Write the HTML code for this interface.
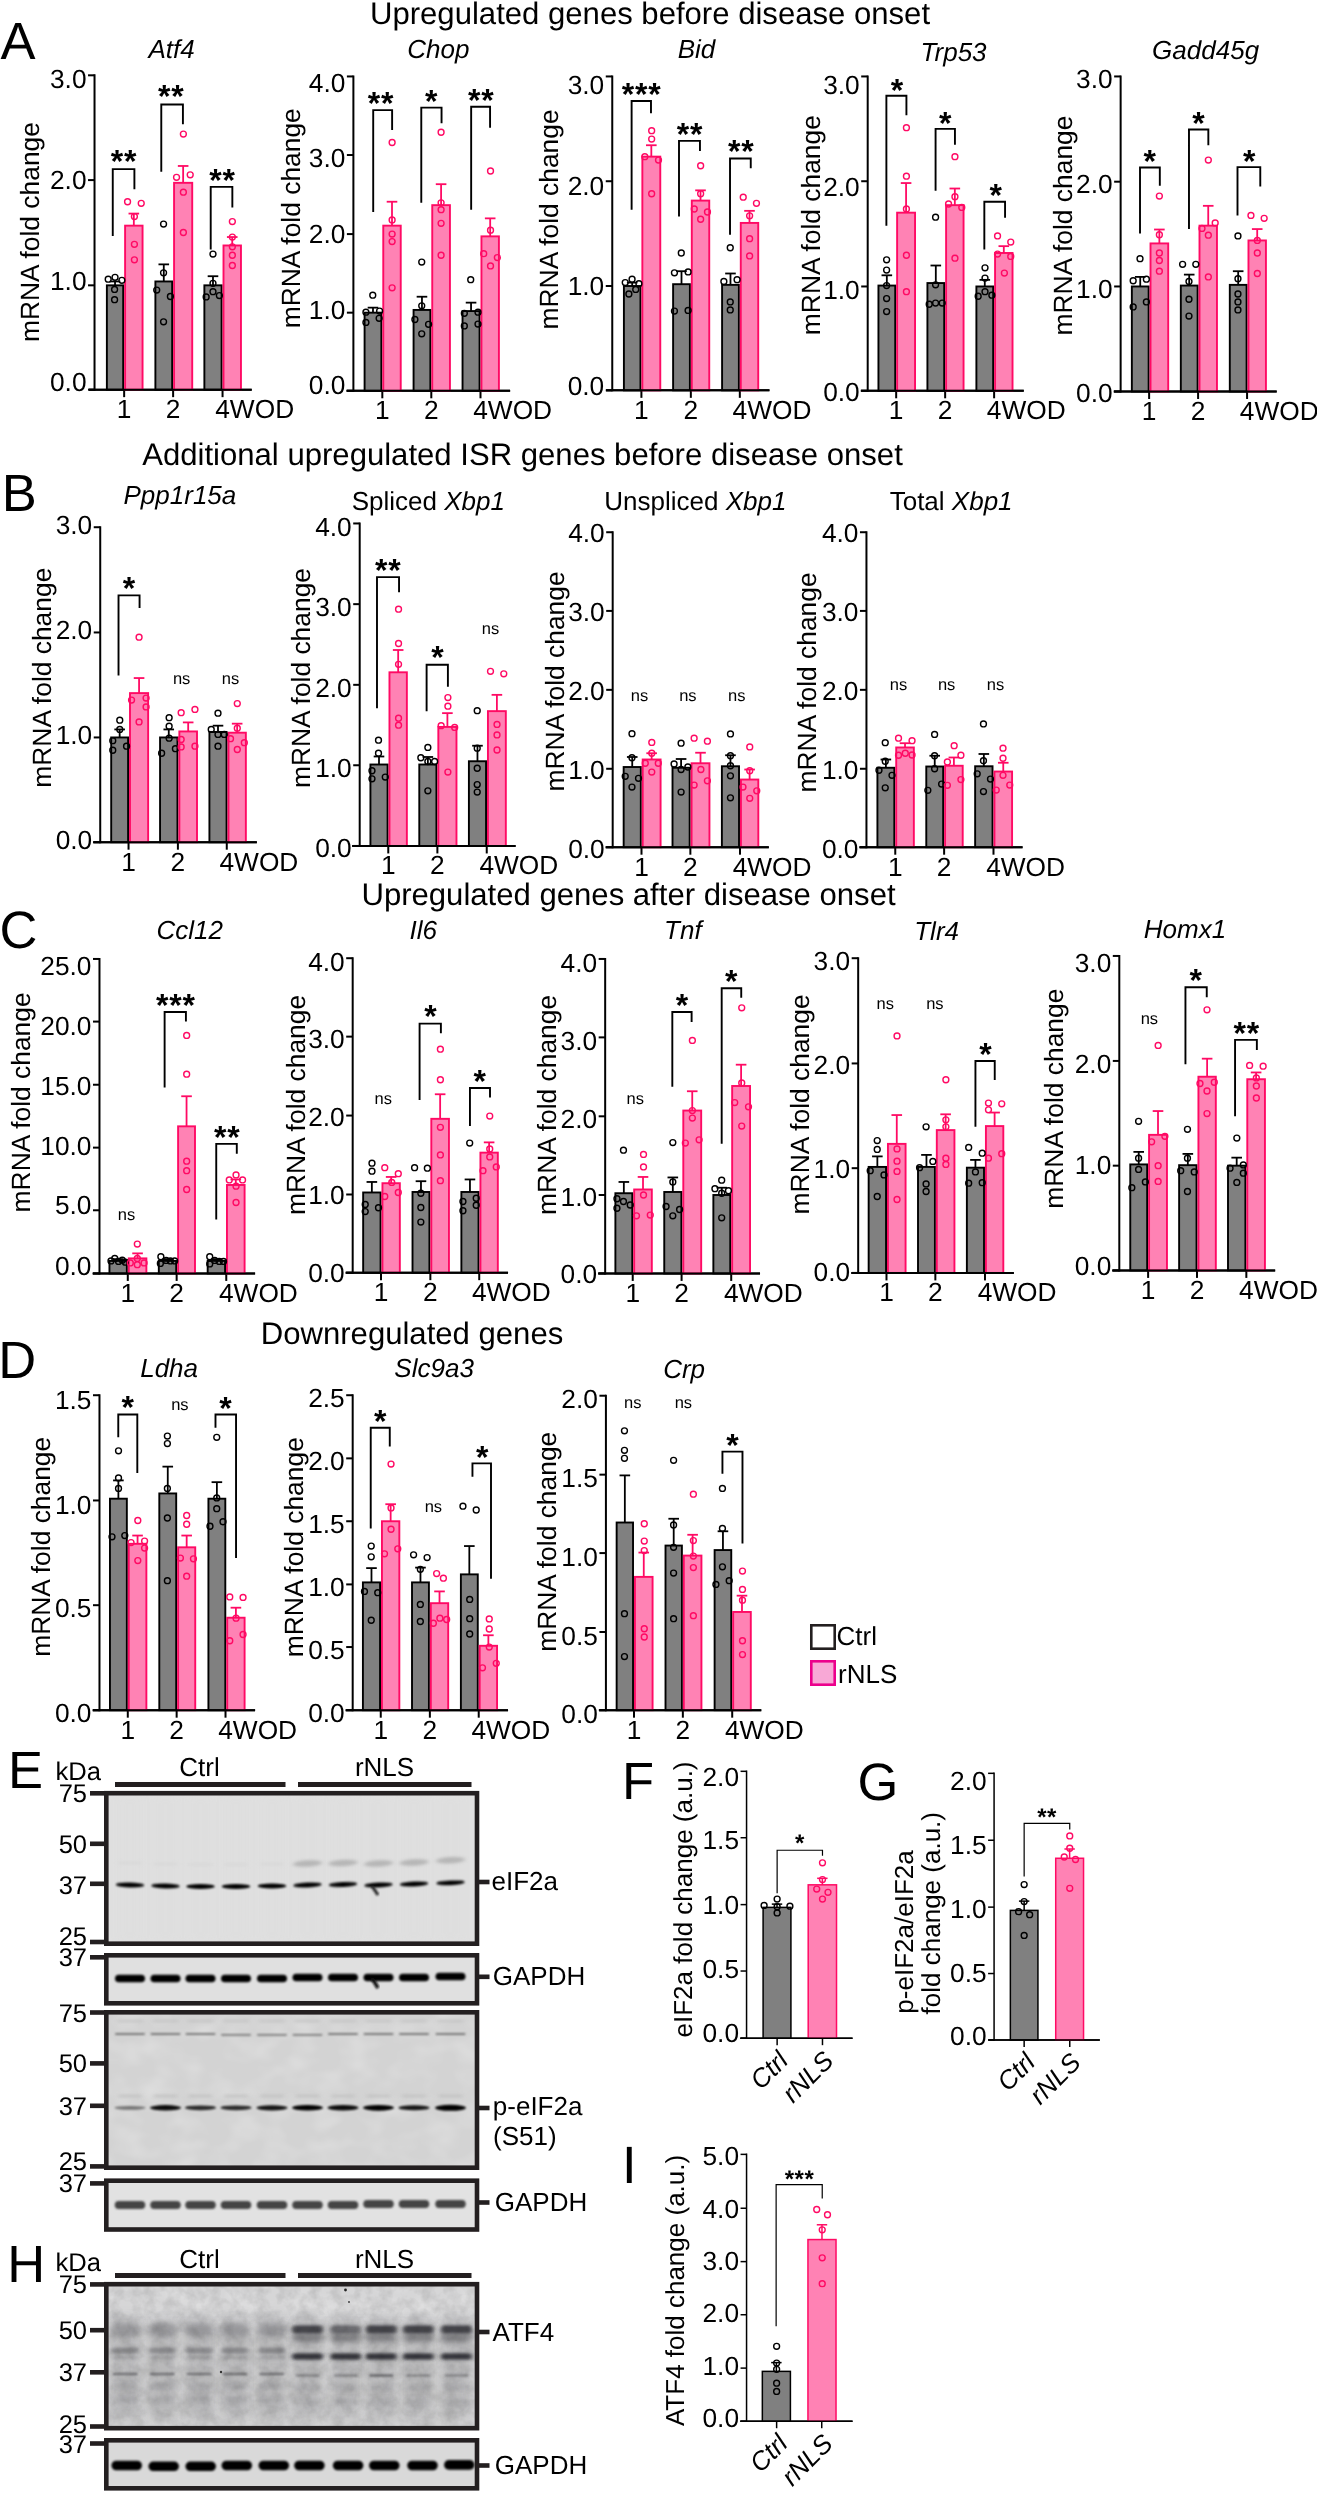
<!DOCTYPE html>
<html><head><meta charset="utf-8"><title>Figure</title>
<style>
html,body{margin:0;padding:0;background:#fff;}
body{width:1317px;height:2494px;overflow:hidden;}
svg{display:block;font-family:"Liberation Sans", sans-serif;will-change:transform;}
text{text-rendering:geometricPrecision;}
</style></head><body>
<svg width="1317" height="2494" viewBox="0 0 1317 2494" font-family='"Liberation Sans", sans-serif'>
<rect width="1317" height="2494" fill="#fff"/>
<defs>
<filter id="bl1" x="-20%" y="-200%" width="140%" height="500%"><feGaussianBlur stdDeviation="1.3 0.9"/></filter>
<filter id="bl2" x="-20%" y="-200%" width="140%" height="500%"><feGaussianBlur stdDeviation="2.2 1.6"/></filter>
<filter id="bl3" x="-30%" y="-300%" width="160%" height="700%"><feGaussianBlur stdDeviation="3.5 2.6"/></filter>
<filter id="bl5" x="-30%" y="-100%" width="160%" height="300%"><feGaussianBlur stdDeviation="5 6"/></filter>
<filter id="noise" x="0" y="0" width="100%" height="100%">
  <feTurbulence type="fractalNoise" baseFrequency="0.09" numOctaves="3" seed="7" result="t"/>
  <feColorMatrix type="matrix" values="0 0 0 0 0  0 0 0 0 0  0 0 0 0 0  1.6 0 0 0 -0.55"/>
</filter>
<filter id="noise2" x="0" y="0" width="100%" height="100%">
  <feTurbulence type="fractalNoise" baseFrequency="0.035 0.05" numOctaves="2" seed="3" result="t"/>
  <feColorMatrix type="matrix" values="0 0 0 0 1  0 0 0 0 1  0 0 0 0 1  1.8 0 0 0 -0.7"/>
</filter>
</defs>
<g id="c_Atf4">
<line x1="94.53" y1="74.31" x2="94.53" y2="390.66" stroke="#000" stroke-width="2" stroke-linecap="butt"/>
<line x1="88.84" y1="389.66" x2="251.71" y2="389.66" stroke="#000" stroke-width="2" stroke-linecap="butt"/>
<line x1="88.03" y1="75.31" x2="94.53" y2="75.31" stroke="#000" stroke-width="2" stroke-linecap="butt"/>
<text x="86.53" y="87.61" font-size="26.3" text-anchor="end" font-weight="normal" font-style="normal" fill="#000">3.0</text>
<line x1="88.03" y1="180.09" x2="94.53" y2="180.09" stroke="#000" stroke-width="2" stroke-linecap="butt"/>
<text x="86.53" y="188.66" font-size="26.3" text-anchor="end" font-weight="normal" font-style="normal" fill="#000">2.0</text>
<line x1="88.03" y1="285.33" x2="94.53" y2="285.33" stroke="#000" stroke-width="2" stroke-linecap="butt"/>
<text x="86.53" y="290.15" font-size="26.3" text-anchor="end" font-weight="normal" font-style="normal" fill="#000">1.0</text>
<line x1="88.03" y1="389.66" x2="94.53" y2="389.66" stroke="#000" stroke-width="2" stroke-linecap="butt"/>
<text x="86.53" y="390.76" font-size="26.3" text-anchor="end" font-weight="normal" font-style="normal" fill="#000">0.0</text>
<line x1="124.15" y1="389.66" x2="124.15" y2="397.16" stroke="#000" stroke-width="2" stroke-linecap="butt"/>
<line x1="173.12" y1="389.66" x2="173.12" y2="397.16" stroke="#000" stroke-width="2" stroke-linecap="butt"/>
<line x1="222.55" y1="389.66" x2="222.55" y2="397.16" stroke="#000" stroke-width="2" stroke-linecap="butt"/>
<line x1="115.03" y1="281.46" x2="115.03" y2="285.33" stroke="#000" stroke-width="1.8" stroke-linecap="butt"/>
<line x1="109.73" y1="281.46" x2="120.33" y2="281.46" stroke="#000" stroke-width="1.8" stroke-linecap="butt"/>
<rect x="106.87" y="285.33" width="16.32" height="104.33" fill="#808080" stroke="#000" stroke-width="1.9"/>
<line x1="133.83" y1="213.58" x2="133.83" y2="225.65" stroke="#ff0a64" stroke-width="1.8" stroke-linecap="butt"/>
<line x1="128.53" y1="213.58" x2="139.13" y2="213.58" stroke="#ff0a64" stroke-width="1.8" stroke-linecap="butt"/>
<rect x="125.1" y="225.65" width="17.46" height="164.01" fill="#ff82b4" stroke="#ff0a64" stroke-width="1.9"/>
<line x1="163.78" y1="264.37" x2="163.78" y2="281.46" stroke="#000" stroke-width="1.8" stroke-linecap="butt"/>
<line x1="158.48" y1="264.37" x2="169.08" y2="264.37" stroke="#000" stroke-width="1.8" stroke-linecap="butt"/>
<rect x="155.39" y="281.46" width="16.78" height="108.2" fill="#808080" stroke="#000" stroke-width="1.9"/>
<line x1="183.14" y1="165.97" x2="183.14" y2="182.82" stroke="#ff0a64" stroke-width="1.8" stroke-linecap="butt"/>
<line x1="177.84" y1="165.97" x2="188.44" y2="165.97" stroke="#ff0a64" stroke-width="1.8" stroke-linecap="butt"/>
<rect x="174.07" y="182.82" width="18.15" height="206.83" fill="#ff82b4" stroke="#ff0a64" stroke-width="1.9"/>
<line x1="212.98" y1="276.22" x2="212.98" y2="285.33" stroke="#000" stroke-width="1.8" stroke-linecap="butt"/>
<line x1="207.68" y1="276.22" x2="218.28" y2="276.22" stroke="#000" stroke-width="1.8" stroke-linecap="butt"/>
<rect x="204.37" y="285.33" width="17.23" height="104.33" fill="#808080" stroke="#000" stroke-width="1.9"/>
<line x1="232.23" y1="237.04" x2="232.23" y2="245.47" stroke="#ff0a64" stroke-width="1.8" stroke-linecap="butt"/>
<line x1="226.93" y1="237.04" x2="237.53" y2="237.04" stroke="#ff0a64" stroke-width="1.8" stroke-linecap="butt"/>
<rect x="223.5" y="245.47" width="17.46" height="144.19" fill="#ff82b4" stroke="#ff0a64" stroke-width="1.9"/>
<line x1="88.84" y1="389.66" x2="251.71" y2="389.66" stroke="#000" stroke-width="2" stroke-linecap="butt"/>
<circle cx="108.2" cy="279.18" r="2.95" fill="none" stroke="#000" stroke-width="1.4"/>
<circle cx="115.03" cy="277.36" r="2.95" fill="none" stroke="#000" stroke-width="1.4"/>
<circle cx="121.87" cy="280.32" r="2.95" fill="none" stroke="#000" stroke-width="1.4"/>
<circle cx="114.58" cy="289.43" r="2.95" fill="none" stroke="#000" stroke-width="1.4"/>
<circle cx="114.58" cy="299.68" r="2.95" fill="none" stroke="#000" stroke-width="1.4"/>
<circle cx="127.56" cy="201.73" r="2.95" fill="none" stroke="#ff0a64" stroke-width="1.4"/>
<circle cx="141.23" cy="203.33" r="2.95" fill="none" stroke="#ff0a64" stroke-width="1.4"/>
<circle cx="134.4" cy="216.54" r="2.95" fill="none" stroke="#ff0a64" stroke-width="1.4"/>
<circle cx="134.4" cy="244.33" r="2.95" fill="none" stroke="#ff0a64" stroke-width="1.4"/>
<circle cx="134.4" cy="259.82" r="2.95" fill="none" stroke="#ff0a64" stroke-width="1.4"/>
<circle cx="163.55" cy="224.05" r="2.95" fill="none" stroke="#000" stroke-width="1.4"/>
<circle cx="163.55" cy="272.8" r="2.95" fill="none" stroke="#000" stroke-width="1.4"/>
<circle cx="156.72" cy="290.11" r="2.95" fill="none" stroke="#000" stroke-width="1.4"/>
<circle cx="170.39" cy="296.49" r="2.95" fill="none" stroke="#000" stroke-width="1.4"/>
<circle cx="163.55" cy="321.78" r="2.95" fill="none" stroke="#000" stroke-width="1.4"/>
<circle cx="183.37" cy="134.08" r="2.95" fill="none" stroke="#ff0a64" stroke-width="1.4"/>
<circle cx="176.54" cy="177.36" r="2.95" fill="none" stroke="#ff0a64" stroke-width="1.4"/>
<circle cx="190.21" cy="174.85" r="2.95" fill="none" stroke="#ff0a64" stroke-width="1.4"/>
<circle cx="183.37" cy="192.16" r="2.95" fill="none" stroke="#ff0a64" stroke-width="1.4"/>
<circle cx="183.37" cy="232.48" r="2.95" fill="none" stroke="#ff0a64" stroke-width="1.4"/>
<circle cx="212.98" cy="254.12" r="2.95" fill="none" stroke="#000" stroke-width="1.4"/>
<circle cx="212.98" cy="283.28" r="2.95" fill="none" stroke="#000" stroke-width="1.4"/>
<circle cx="206.15" cy="296.95" r="2.95" fill="none" stroke="#000" stroke-width="1.4"/>
<circle cx="219.36" cy="295.58" r="2.95" fill="none" stroke="#000" stroke-width="1.4"/>
<circle cx="212.98" cy="291.71" r="2.95" fill="none" stroke="#000" stroke-width="1.4"/>
<circle cx="232.35" cy="221.55" r="2.95" fill="none" stroke="#ff0a64" stroke-width="1.4"/>
<circle cx="232.35" cy="237.04" r="2.95" fill="none" stroke="#ff0a64" stroke-width="1.4"/>
<circle cx="232.35" cy="246.83" r="2.95" fill="none" stroke="#ff0a64" stroke-width="1.4"/>
<circle cx="232.35" cy="255.26" r="2.95" fill="none" stroke="#ff0a64" stroke-width="1.4"/>
<circle cx="232.35" cy="265.51" r="2.95" fill="none" stroke="#ff0a64" stroke-width="1.4"/>
<polyline points="112.76,235.9 112.76,169.16 134.4,169.16 134.4,189.2" fill="none" stroke="#000" stroke-width="1.9" stroke-linejoin="miter"/>
<text x="124.09" y="172.41" font-size="32" text-anchor="middle" font-weight="bold" font-style="normal" fill="#000" letter-spacing="0.8">**</text>
<polyline points="161.28,171.66 161.28,104.46 182.92,104.46 182.92,124.28" fill="none" stroke="#000" stroke-width="1.9" stroke-linejoin="miter"/>
<text x="171.24" y="107.49" font-size="32" text-anchor="middle" font-weight="bold" font-style="normal" fill="#000" letter-spacing="0.8">**</text>
<polyline points="210.71,249.57 210.71,186.92 232.35,186.92 232.35,207.43" fill="none" stroke="#000" stroke-width="1.9" stroke-linejoin="miter"/>
<text x="222.5" y="190.64" font-size="32" text-anchor="middle" font-weight="bold" font-style="normal" fill="#000" letter-spacing="0.8">**</text>
<text x="124.15" y="418.16" font-size="26.3" text-anchor="middle" font-weight="normal" font-style="normal" fill="#000">1</text>
<text x="173.12" y="418.16" font-size="26.3" text-anchor="middle" font-weight="normal" font-style="normal" fill="#000">2</text>
<text x="215.24" y="418.16" font-size="26.3" text-anchor="start" font-weight="normal" font-style="normal" fill="#000">4WOD</text>
<text x="39.03" y="232.08" font-size="26.4" text-anchor="middle" font-weight="normal" font-style="normal" fill="#000" transform="rotate(-90 39.03 232.08)">mRNA fold change</text>
<text x="171.53" y="57.77" font-size="26" text-anchor="middle" font-weight="normal" font-style="normal" fill="#000" style="white-space:pre"><tspan font-style="italic">Atf4</tspan></text>
</g>
<g id="c_Chop">
<line x1="353.39" y1="75.45" x2="353.39" y2="391.8" stroke="#000" stroke-width="2" stroke-linecap="butt"/>
<line x1="346.56" y1="390.8" x2="510.11" y2="390.8" stroke="#000" stroke-width="2" stroke-linecap="butt"/>
<line x1="346.89" y1="76.45" x2="353.39" y2="76.45" stroke="#000" stroke-width="2" stroke-linecap="butt"/>
<text x="345.39" y="91.55" font-size="26.3" text-anchor="end" font-weight="normal" font-style="normal" fill="#000">4.0</text>
<line x1="346.89" y1="155.03" x2="353.39" y2="155.03" stroke="#000" stroke-width="2" stroke-linecap="butt"/>
<text x="345.39" y="167.06" font-size="26.3" text-anchor="end" font-weight="normal" font-style="normal" fill="#000">3.0</text>
<line x1="346.89" y1="234.08" x2="353.39" y2="234.08" stroke="#000" stroke-width="2" stroke-linecap="butt"/>
<text x="345.39" y="243.01" font-size="26.3" text-anchor="end" font-weight="normal" font-style="normal" fill="#000">2.0</text>
<line x1="346.89" y1="312.67" x2="353.39" y2="312.67" stroke="#000" stroke-width="2" stroke-linecap="butt"/>
<text x="345.39" y="318.53" font-size="26.3" text-anchor="end" font-weight="normal" font-style="normal" fill="#000">1.0</text>
<line x1="346.89" y1="390.8" x2="353.39" y2="390.8" stroke="#000" stroke-width="2" stroke-linecap="butt"/>
<text x="345.39" y="393.6" font-size="26.3" text-anchor="end" font-weight="normal" font-style="normal" fill="#000">0.0</text>
<line x1="382.32" y1="390.8" x2="382.32" y2="398.3" stroke="#000" stroke-width="2" stroke-linecap="butt"/>
<line x1="431.3" y1="390.8" x2="431.3" y2="398.3" stroke="#000" stroke-width="2" stroke-linecap="butt"/>
<line x1="480.5" y1="390.8" x2="480.5" y2="398.3" stroke="#000" stroke-width="2" stroke-linecap="butt"/>
<line x1="372.98" y1="307.65" x2="372.98" y2="312.67" stroke="#000" stroke-width="1.8" stroke-linecap="butt"/>
<line x1="367.68" y1="307.65" x2="378.28" y2="307.65" stroke="#000" stroke-width="1.8" stroke-linecap="butt"/>
<rect x="364.59" y="312.67" width="16.78" height="78.13" fill="#808080" stroke="#000" stroke-width="1.9"/>
<line x1="392" y1="201.73" x2="392" y2="225.65" stroke="#ff0a64" stroke-width="1.8" stroke-linecap="butt"/>
<line x1="386.7" y1="201.73" x2="397.3" y2="201.73" stroke="#ff0a64" stroke-width="1.8" stroke-linecap="butt"/>
<rect x="383.27" y="225.65" width="17.46" height="165.15" fill="#ff82b4" stroke="#ff0a64" stroke-width="1.9"/>
<line x1="421.96" y1="296.72" x2="421.96" y2="309.93" stroke="#000" stroke-width="1.8" stroke-linecap="butt"/>
<line x1="416.66" y1="296.72" x2="427.26" y2="296.72" stroke="#000" stroke-width="1.8" stroke-linecap="butt"/>
<rect x="413.57" y="309.93" width="16.78" height="80.87" fill="#808080" stroke="#000" stroke-width="1.9"/>
<line x1="441.09" y1="184.19" x2="441.09" y2="205.15" stroke="#ff0a64" stroke-width="1.8" stroke-linecap="butt"/>
<line x1="435.79" y1="184.19" x2="446.39" y2="184.19" stroke="#ff0a64" stroke-width="1.8" stroke-linecap="butt"/>
<rect x="432.25" y="205.15" width="17.69" height="185.65" fill="#ff82b4" stroke="#ff0a64" stroke-width="1.9"/>
<line x1="471.05" y1="302.64" x2="471.05" y2="311.07" stroke="#000" stroke-width="1.8" stroke-linecap="butt"/>
<line x1="465.75" y1="302.64" x2="476.35" y2="302.64" stroke="#000" stroke-width="1.8" stroke-linecap="butt"/>
<rect x="462.54" y="311.07" width="17.01" height="79.73" fill="#808080" stroke="#000" stroke-width="1.9"/>
<line x1="490.18" y1="218.36" x2="490.18" y2="236.36" stroke="#ff0a64" stroke-width="1.8" stroke-linecap="butt"/>
<line x1="484.88" y1="218.36" x2="495.48" y2="218.36" stroke="#ff0a64" stroke-width="1.8" stroke-linecap="butt"/>
<rect x="481.45" y="236.36" width="17.46" height="154.44" fill="#ff82b4" stroke="#ff0a64" stroke-width="1.9"/>
<line x1="346.56" y1="390.8" x2="510.11" y2="390.8" stroke="#000" stroke-width="2" stroke-linecap="butt"/>
<circle cx="372.76" cy="295.13" r="2.95" fill="none" stroke="#000" stroke-width="1.4"/>
<circle cx="365.92" cy="312.21" r="2.95" fill="none" stroke="#000" stroke-width="1.4"/>
<circle cx="379.59" cy="311.07" r="2.95" fill="none" stroke="#000" stroke-width="1.4"/>
<circle cx="365.92" cy="322.46" r="2.95" fill="none" stroke="#000" stroke-width="1.4"/>
<circle cx="379.13" cy="318.36" r="2.95" fill="none" stroke="#000" stroke-width="1.4"/>
<circle cx="392.12" cy="142.51" r="2.95" fill="none" stroke="#ff0a64" stroke-width="1.4"/>
<circle cx="392.12" cy="219.95" r="2.95" fill="none" stroke="#ff0a64" stroke-width="1.4"/>
<circle cx="392.12" cy="234.08" r="2.95" fill="none" stroke="#ff0a64" stroke-width="1.4"/>
<circle cx="392.12" cy="241.59" r="2.95" fill="none" stroke="#ff0a64" stroke-width="1.4"/>
<circle cx="392.12" cy="287.84" r="2.95" fill="none" stroke="#ff0a64" stroke-width="1.4"/>
<circle cx="421.73" cy="262.1" r="2.95" fill="none" stroke="#000" stroke-width="1.4"/>
<circle cx="421.73" cy="305.83" r="2.95" fill="none" stroke="#000" stroke-width="1.4"/>
<circle cx="414.9" cy="319.5" r="2.95" fill="none" stroke="#000" stroke-width="1.4"/>
<circle cx="428.56" cy="324.28" r="2.95" fill="none" stroke="#000" stroke-width="1.4"/>
<circle cx="421.73" cy="333.85" r="2.95" fill="none" stroke="#000" stroke-width="1.4"/>
<circle cx="441.09" cy="132.26" r="2.95" fill="none" stroke="#ff0a64" stroke-width="1.4"/>
<circle cx="441.09" cy="202.87" r="2.95" fill="none" stroke="#ff0a64" stroke-width="1.4"/>
<circle cx="441.09" cy="209.7" r="2.95" fill="none" stroke="#ff0a64" stroke-width="1.4"/>
<circle cx="441.09" cy="223.37" r="2.95" fill="none" stroke="#ff0a64" stroke-width="1.4"/>
<circle cx="441.09" cy="255.26" r="2.95" fill="none" stroke="#ff0a64" stroke-width="1.4"/>
<circle cx="470.71" cy="279.64" r="2.95" fill="none" stroke="#000" stroke-width="1.4"/>
<circle cx="464.33" cy="313.35" r="2.95" fill="none" stroke="#000" stroke-width="1.4"/>
<circle cx="478" cy="312.21" r="2.95" fill="none" stroke="#000" stroke-width="1.4"/>
<circle cx="464.33" cy="325.88" r="2.95" fill="none" stroke="#000" stroke-width="1.4"/>
<circle cx="478" cy="324.05" r="2.95" fill="none" stroke="#000" stroke-width="1.4"/>
<circle cx="490.52" cy="170.98" r="2.95" fill="none" stroke="#ff0a64" stroke-width="1.4"/>
<circle cx="490.52" cy="230.21" r="2.95" fill="none" stroke="#ff0a64" stroke-width="1.4"/>
<circle cx="483.69" cy="253.67" r="2.95" fill="none" stroke="#ff0a64" stroke-width="1.4"/>
<circle cx="497.36" cy="257.54" r="2.95" fill="none" stroke="#ff0a64" stroke-width="1.4"/>
<circle cx="490.52" cy="265.97" r="2.95" fill="none" stroke="#ff0a64" stroke-width="1.4"/>
<polyline points="373.21,211.98 373.21,110.16 392.12,110.16 392.12,129.98" fill="none" stroke="#000" stroke-width="1.9" stroke-linejoin="miter"/>
<text x="381.13" y="114.33" font-size="32" text-anchor="middle" font-weight="bold" font-style="normal" fill="#000" letter-spacing="0.8">**</text>
<polyline points="421.28,202.87 421.28,107.65 441.55,107.65 441.55,123.14" fill="none" stroke="#000" stroke-width="1.9" stroke-linejoin="miter"/>
<text x="431.7" y="111.59" font-size="32" text-anchor="middle" font-weight="bold" font-style="normal" fill="#000" letter-spacing="0.8">*</text>
<polyline points="471.16,209.7 471.16,106.74 490.07,106.74 490.07,127.7" fill="none" stroke="#000" stroke-width="1.9" stroke-linejoin="miter"/>
<text x="481.36" y="110.91" font-size="32" text-anchor="middle" font-weight="bold" font-style="normal" fill="#000" letter-spacing="0.8">**</text>
<text x="382.32" y="419.3" font-size="26.3" text-anchor="middle" font-weight="normal" font-style="normal" fill="#000">1</text>
<text x="431.3" y="419.3" font-size="26.3" text-anchor="middle" font-weight="normal" font-style="normal" fill="#000">2</text>
<text x="473.19" y="419.3" font-size="26.3" text-anchor="start" font-weight="normal" font-style="normal" fill="#000">4WOD</text>
<text x="299.89" y="218.22" font-size="26.4" text-anchor="middle" font-weight="normal" font-style="normal" fill="#000" transform="rotate(-90 299.89 218.22)">mRNA fold change</text>
<text x="438.36" y="58.22" font-size="26" text-anchor="middle" font-weight="normal" font-style="normal" fill="#000" style="white-space:pre"><tspan font-style="italic">Chop</tspan></text>
</g>
<g id="c_Bid">
<line x1="612.26" y1="75.45" x2="612.26" y2="391.34" stroke="#000" stroke-width="2" stroke-linecap="butt"/>
<line x1="606.1" y1="390.34" x2="769.43" y2="390.34" stroke="#000" stroke-width="2" stroke-linecap="butt"/>
<line x1="605.76" y1="76.45" x2="612.26" y2="76.45" stroke="#000" stroke-width="2" stroke-linecap="butt"/>
<text x="604.26" y="94.45" font-size="26.3" text-anchor="end" font-weight="normal" font-style="normal" fill="#000">3.0</text>
<line x1="605.76" y1="181.23" x2="612.26" y2="181.23" stroke="#000" stroke-width="2" stroke-linecap="butt"/>
<text x="604.26" y="194.8" font-size="26.3" text-anchor="end" font-weight="normal" font-style="normal" fill="#000">2.0</text>
<line x1="605.76" y1="286.01" x2="612.26" y2="286.01" stroke="#000" stroke-width="2" stroke-linecap="butt"/>
<text x="604.26" y="295.14" font-size="26.3" text-anchor="end" font-weight="normal" font-style="normal" fill="#000">1.0</text>
<line x1="605.76" y1="390.34" x2="612.26" y2="390.34" stroke="#000" stroke-width="2" stroke-linecap="butt"/>
<text x="604.26" y="395.05" font-size="26.3" text-anchor="end" font-weight="normal" font-style="normal" fill="#000">0.0</text>
<line x1="641.41" y1="390.34" x2="641.41" y2="397.84" stroke="#000" stroke-width="2" stroke-linecap="butt"/>
<line x1="690.84" y1="390.34" x2="690.84" y2="397.84" stroke="#000" stroke-width="2" stroke-linecap="butt"/>
<line x1="739.82" y1="390.34" x2="739.82" y2="397.84" stroke="#000" stroke-width="2" stroke-linecap="butt"/>
<line x1="632.19" y1="282.6" x2="632.19" y2="286.01" stroke="#000" stroke-width="1.8" stroke-linecap="butt"/>
<line x1="626.89" y1="282.6" x2="637.49" y2="282.6" stroke="#000" stroke-width="1.8" stroke-linecap="butt"/>
<rect x="623.91" y="286.01" width="16.55" height="104.33" fill="#808080" stroke="#000" stroke-width="1.9"/>
<line x1="651.32" y1="145.24" x2="651.32" y2="156.63" stroke="#ff0a64" stroke-width="1.8" stroke-linecap="butt"/>
<line x1="646.02" y1="145.24" x2="656.62" y2="145.24" stroke="#ff0a64" stroke-width="1.8" stroke-linecap="butt"/>
<rect x="642.36" y="156.63" width="17.92" height="233.71" fill="#ff82b4" stroke="#ff0a64" stroke-width="1.9"/>
<line x1="681.5" y1="271.21" x2="681.5" y2="284.19" stroke="#000" stroke-width="1.8" stroke-linecap="butt"/>
<line x1="676.2" y1="271.21" x2="686.8" y2="271.21" stroke="#000" stroke-width="1.8" stroke-linecap="butt"/>
<rect x="673.11" y="284.19" width="16.78" height="106.15" fill="#808080" stroke="#000" stroke-width="1.9"/>
<line x1="700.52" y1="190.34" x2="700.52" y2="200.59" stroke="#ff0a64" stroke-width="1.8" stroke-linecap="butt"/>
<line x1="695.22" y1="190.34" x2="705.82" y2="190.34" stroke="#ff0a64" stroke-width="1.8" stroke-linecap="butt"/>
<rect x="691.79" y="200.59" width="17.46" height="189.75" fill="#ff82b4" stroke="#ff0a64" stroke-width="1.9"/>
<line x1="730.48" y1="273.49" x2="730.48" y2="284.87" stroke="#000" stroke-width="1.8" stroke-linecap="butt"/>
<line x1="725.18" y1="273.49" x2="735.78" y2="273.49" stroke="#000" stroke-width="1.8" stroke-linecap="butt"/>
<rect x="722.09" y="284.87" width="16.78" height="105.47" fill="#808080" stroke="#000" stroke-width="1.9"/>
<line x1="749.5" y1="210.84" x2="749.5" y2="222.92" stroke="#ff0a64" stroke-width="1.8" stroke-linecap="butt"/>
<line x1="744.2" y1="210.84" x2="754.8" y2="210.84" stroke="#ff0a64" stroke-width="1.8" stroke-linecap="butt"/>
<rect x="740.77" y="222.92" width="17.46" height="167.43" fill="#ff82b4" stroke="#ff0a64" stroke-width="1.9"/>
<line x1="606.1" y1="390.34" x2="769.43" y2="390.34" stroke="#000" stroke-width="2" stroke-linecap="butt"/>
<circle cx="625.24" cy="282.6" r="2.95" fill="none" stroke="#000" stroke-width="1.4"/>
<circle cx="632.07" cy="279.18" r="2.95" fill="none" stroke="#000" stroke-width="1.4"/>
<circle cx="638.91" cy="283.74" r="2.95" fill="none" stroke="#000" stroke-width="1.4"/>
<circle cx="628.88" cy="293.99" r="2.95" fill="none" stroke="#000" stroke-width="1.4"/>
<circle cx="635.72" cy="289.43" r="2.95" fill="none" stroke="#000" stroke-width="1.4"/>
<circle cx="651.66" cy="130.66" r="2.95" fill="none" stroke="#ff0a64" stroke-width="1.4"/>
<circle cx="651.66" cy="139.09" r="2.95" fill="none" stroke="#ff0a64" stroke-width="1.4"/>
<circle cx="644.83" cy="156.63" r="2.95" fill="none" stroke="#ff0a64" stroke-width="1.4"/>
<circle cx="658.5" cy="160.05" r="2.95" fill="none" stroke="#ff0a64" stroke-width="1.4"/>
<circle cx="651.66" cy="193.76" r="2.95" fill="none" stroke="#ff0a64" stroke-width="1.4"/>
<circle cx="681.28" cy="252.98" r="2.95" fill="none" stroke="#000" stroke-width="1.4"/>
<circle cx="674.44" cy="272.8" r="2.95" fill="none" stroke="#000" stroke-width="1.4"/>
<circle cx="688.11" cy="271.89" r="2.95" fill="none" stroke="#000" stroke-width="1.4"/>
<circle cx="674.44" cy="311.07" r="2.95" fill="none" stroke="#000" stroke-width="1.4"/>
<circle cx="688.11" cy="310.39" r="2.95" fill="none" stroke="#000" stroke-width="1.4"/>
<circle cx="700.64" cy="165.74" r="2.95" fill="none" stroke="#ff0a64" stroke-width="1.4"/>
<circle cx="700.64" cy="193.76" r="2.95" fill="none" stroke="#ff0a64" stroke-width="1.4"/>
<circle cx="694.26" cy="209.02" r="2.95" fill="none" stroke="#ff0a64" stroke-width="1.4"/>
<circle cx="707.47" cy="211.98" r="2.95" fill="none" stroke="#ff0a64" stroke-width="1.4"/>
<circle cx="700.64" cy="219.27" r="2.95" fill="none" stroke="#ff0a64" stroke-width="1.4"/>
<circle cx="730.25" cy="247.74" r="2.95" fill="none" stroke="#000" stroke-width="1.4"/>
<circle cx="723.87" cy="281.46" r="2.95" fill="none" stroke="#000" stroke-width="1.4"/>
<circle cx="737.08" cy="279.64" r="2.95" fill="none" stroke="#000" stroke-width="1.4"/>
<circle cx="730.25" cy="301.96" r="2.95" fill="none" stroke="#000" stroke-width="1.4"/>
<circle cx="730.25" cy="309.93" r="2.95" fill="none" stroke="#000" stroke-width="1.4"/>
<circle cx="743.23" cy="197.18" r="2.95" fill="none" stroke="#ff0a64" stroke-width="1.4"/>
<circle cx="756.45" cy="203.33" r="2.95" fill="none" stroke="#ff0a64" stroke-width="1.4"/>
<circle cx="749.61" cy="215.85" r="2.95" fill="none" stroke="#ff0a64" stroke-width="1.4"/>
<circle cx="749.61" cy="238.63" r="2.95" fill="none" stroke="#ff0a64" stroke-width="1.4"/>
<circle cx="749.61" cy="255.95" r="2.95" fill="none" stroke="#ff0a64" stroke-width="1.4"/>
<polyline points="631.62,209.7 631.62,101.05 650.98,101.05 650.98,113.35" fill="none" stroke="#000" stroke-width="1.9" stroke-linejoin="miter"/>
<text x="641.58" y="104.76" font-size="32" text-anchor="middle" font-weight="bold" font-style="normal" fill="#000" letter-spacing="0.8">***</text>
<polyline points="679,216.54 679,140.91 699.95,140.91 699.95,150.93" fill="none" stroke="#000" stroke-width="1.9" stroke-linejoin="miter"/>
<text x="690.1" y="145.08" font-size="32" text-anchor="middle" font-weight="bold" font-style="normal" fill="#000" letter-spacing="0.8">**</text>
<polyline points="730.02,234.76 730.02,158.45 750.75,158.45 750.75,168.25" fill="none" stroke="#000" stroke-width="1.9" stroke-linejoin="miter"/>
<text x="741.36" y="162.16" font-size="32" text-anchor="middle" font-weight="bold" font-style="normal" fill="#000" letter-spacing="0.8">**</text>
<text x="641.41" y="418.84" font-size="26.3" text-anchor="middle" font-weight="normal" font-style="normal" fill="#000">1</text>
<text x="690.84" y="418.84" font-size="26.3" text-anchor="middle" font-weight="normal" font-style="normal" fill="#000">2</text>
<text x="732.51" y="418.84" font-size="26.3" text-anchor="start" font-weight="normal" font-style="normal" fill="#000">4WOD</text>
<text x="557.56" y="219.39" font-size="26.4" text-anchor="middle" font-weight="normal" font-style="normal" fill="#000" transform="rotate(-90 557.56 219.39)">mRNA fold change</text>
<text x="696.54" y="57.77" font-size="26" text-anchor="middle" font-weight="normal" font-style="normal" fill="#000" style="white-space:pre"><tspan font-style="italic">Bid</tspan></text>
</g>
<g id="c_Trp53">
<line x1="867.7" y1="75.45" x2="867.7" y2="391.8" stroke="#000" stroke-width="2" stroke-linecap="butt"/>
<line x1="860.87" y1="390.8" x2="1023.74" y2="390.8" stroke="#000" stroke-width="2" stroke-linecap="butt"/>
<line x1="861.2" y1="76.45" x2="867.7" y2="76.45" stroke="#000" stroke-width="2" stroke-linecap="butt"/>
<text x="859.7" y="93.95" font-size="26.3" text-anchor="end" font-weight="normal" font-style="normal" fill="#000">3.0</text>
<line x1="861.2" y1="181.23" x2="867.7" y2="181.23" stroke="#000" stroke-width="2" stroke-linecap="butt"/>
<text x="859.7" y="196.4" font-size="26.3" text-anchor="end" font-weight="normal" font-style="normal" fill="#000">2.0</text>
<line x1="861.2" y1="286.47" x2="867.7" y2="286.47" stroke="#000" stroke-width="2" stroke-linecap="butt"/>
<text x="859.7" y="299.3" font-size="26.3" text-anchor="end" font-weight="normal" font-style="normal" fill="#000">1.0</text>
<line x1="861.2" y1="390.8" x2="867.7" y2="390.8" stroke="#000" stroke-width="2" stroke-linecap="butt"/>
<text x="859.7" y="401.3" font-size="26.3" text-anchor="end" font-weight="normal" font-style="normal" fill="#000">0.0</text>
<line x1="896.17" y1="390.8" x2="896.17" y2="398.3" stroke="#000" stroke-width="2" stroke-linecap="butt"/>
<line x1="945.15" y1="390.8" x2="945.15" y2="398.3" stroke="#000" stroke-width="2" stroke-linecap="butt"/>
<line x1="994.12" y1="390.8" x2="994.12" y2="398.3" stroke="#000" stroke-width="2" stroke-linecap="butt"/>
<line x1="886.83" y1="275.31" x2="886.83" y2="285.56" stroke="#000" stroke-width="1.8" stroke-linecap="butt"/>
<line x1="881.53" y1="275.31" x2="892.13" y2="275.31" stroke="#000" stroke-width="1.8" stroke-linecap="butt"/>
<rect x="878.44" y="285.56" width="16.78" height="105.24" fill="#808080" stroke="#000" stroke-width="1.9"/>
<line x1="906.08" y1="183.05" x2="906.08" y2="212.67" stroke="#ff0a64" stroke-width="1.8" stroke-linecap="butt"/>
<line x1="900.78" y1="183.05" x2="911.38" y2="183.05" stroke="#ff0a64" stroke-width="1.8" stroke-linecap="butt"/>
<rect x="897.12" y="212.67" width="17.92" height="178.13" fill="#ff82b4" stroke="#ff0a64" stroke-width="1.9"/>
<line x1="935.81" y1="265.51" x2="935.81" y2="283.05" stroke="#000" stroke-width="1.8" stroke-linecap="butt"/>
<line x1="930.51" y1="265.51" x2="941.11" y2="265.51" stroke="#000" stroke-width="1.8" stroke-linecap="butt"/>
<rect x="927.42" y="283.05" width="16.78" height="107.74" fill="#808080" stroke="#000" stroke-width="1.9"/>
<line x1="954.83" y1="188.52" x2="954.83" y2="205.15" stroke="#ff0a64" stroke-width="1.8" stroke-linecap="butt"/>
<line x1="949.53" y1="188.52" x2="960.13" y2="188.52" stroke="#ff0a64" stroke-width="1.8" stroke-linecap="butt"/>
<rect x="946.1" y="205.15" width="17.46" height="185.65" fill="#ff82b4" stroke="#ff0a64" stroke-width="1.9"/>
<line x1="984.78" y1="279.86" x2="984.78" y2="286.47" stroke="#000" stroke-width="1.8" stroke-linecap="butt"/>
<line x1="979.48" y1="279.86" x2="990.08" y2="279.86" stroke="#000" stroke-width="1.8" stroke-linecap="butt"/>
<rect x="976.39" y="286.47" width="16.78" height="104.33" fill="#808080" stroke="#000" stroke-width="1.9"/>
<line x1="1003.8" y1="246.15" x2="1003.8" y2="252.98" stroke="#ff0a64" stroke-width="1.8" stroke-linecap="butt"/>
<line x1="998.5" y1="246.15" x2="1009.1" y2="246.15" stroke="#ff0a64" stroke-width="1.8" stroke-linecap="butt"/>
<rect x="995.07" y="252.98" width="17.46" height="137.81" fill="#ff82b4" stroke="#ff0a64" stroke-width="1.9"/>
<line x1="860.87" y1="390.8" x2="1023.74" y2="390.8" stroke="#000" stroke-width="2" stroke-linecap="butt"/>
<circle cx="886.61" cy="259.82" r="2.95" fill="none" stroke="#000" stroke-width="1.4"/>
<circle cx="886.61" cy="270.07" r="2.95" fill="none" stroke="#000" stroke-width="1.4"/>
<circle cx="886.61" cy="285.56" r="2.95" fill="none" stroke="#000" stroke-width="1.4"/>
<circle cx="886.61" cy="298.54" r="2.95" fill="none" stroke="#000" stroke-width="1.4"/>
<circle cx="886.61" cy="311.53" r="2.95" fill="none" stroke="#000" stroke-width="1.4"/>
<circle cx="906.42" cy="127.7" r="2.95" fill="none" stroke="#ff0a64" stroke-width="1.4"/>
<circle cx="906.42" cy="176.22" r="2.95" fill="none" stroke="#ff0a64" stroke-width="1.4"/>
<circle cx="906.42" cy="209.02" r="2.95" fill="none" stroke="#ff0a64" stroke-width="1.4"/>
<circle cx="906.42" cy="255.26" r="2.95" fill="none" stroke="#ff0a64" stroke-width="1.4"/>
<circle cx="906.42" cy="291.71" r="2.95" fill="none" stroke="#ff0a64" stroke-width="1.4"/>
<circle cx="935.58" cy="217.22" r="2.95" fill="none" stroke="#000" stroke-width="1.4"/>
<circle cx="935.58" cy="284.87" r="2.95" fill="none" stroke="#000" stroke-width="1.4"/>
<circle cx="929.2" cy="304.24" r="2.95" fill="none" stroke="#000" stroke-width="1.4"/>
<circle cx="935.58" cy="303.1" r="2.95" fill="none" stroke="#000" stroke-width="1.4"/>
<circle cx="942.19" cy="303.1" r="2.95" fill="none" stroke="#000" stroke-width="1.4"/>
<circle cx="954.94" cy="156.63" r="2.95" fill="none" stroke="#ff0a64" stroke-width="1.4"/>
<circle cx="954.94" cy="196.72" r="2.95" fill="none" stroke="#ff0a64" stroke-width="1.4"/>
<circle cx="948.56" cy="204.01" r="2.95" fill="none" stroke="#ff0a64" stroke-width="1.4"/>
<circle cx="961.78" cy="207.43" r="2.95" fill="none" stroke="#ff0a64" stroke-width="1.4"/>
<circle cx="954.94" cy="258.22" r="2.95" fill="none" stroke="#ff0a64" stroke-width="1.4"/>
<circle cx="985.01" cy="267.79" r="2.95" fill="none" stroke="#000" stroke-width="1.4"/>
<circle cx="985.01" cy="278.04" r="2.95" fill="none" stroke="#000" stroke-width="1.4"/>
<circle cx="978.18" cy="296.26" r="2.95" fill="none" stroke="#000" stroke-width="1.4"/>
<circle cx="985.01" cy="291.71" r="2.95" fill="none" stroke="#000" stroke-width="1.4"/>
<circle cx="991.85" cy="295.13" r="2.95" fill="none" stroke="#000" stroke-width="1.4"/>
<circle cx="997.54" cy="235.9" r="2.95" fill="none" stroke="#ff0a64" stroke-width="1.4"/>
<circle cx="1010.75" cy="242.05" r="2.95" fill="none" stroke="#ff0a64" stroke-width="1.4"/>
<circle cx="997.54" cy="254.12" r="2.95" fill="none" stroke="#ff0a64" stroke-width="1.4"/>
<circle cx="1010.75" cy="256.4" r="2.95" fill="none" stroke="#ff0a64" stroke-width="1.4"/>
<circle cx="1004.37" cy="273.03" r="2.95" fill="none" stroke="#ff0a64" stroke-width="1.4"/>
<polyline points="886.38,225.65 886.38,95.81 906.42,95.81 906.42,115.17" fill="none" stroke="#000" stroke-width="1.9" stroke-linejoin="miter"/>
<text x="897.26" y="100.66" font-size="32" text-anchor="middle" font-weight="bold" font-style="normal" fill="#000" letter-spacing="0.8">*</text>
<polyline points="935.58,190.8 935.58,128.84 954.94,128.84 954.94,144.78" fill="none" stroke="#000" stroke-width="1.9" stroke-linejoin="miter"/>
<text x="945.55" y="133.69" font-size="32" text-anchor="middle" font-weight="bold" font-style="normal" fill="#000" letter-spacing="0.8">*</text>
<polyline points="984.33,249.57 984.33,201.73 1005.06,201.73 1005.06,217.68" fill="none" stroke="#000" stroke-width="1.9" stroke-linejoin="miter"/>
<text x="996.12" y="206.13" font-size="32" text-anchor="middle" font-weight="bold" font-style="normal" fill="#000" letter-spacing="0.8">*</text>
<text x="896.17" y="419.3" font-size="26.3" text-anchor="middle" font-weight="normal" font-style="normal" fill="#000">1</text>
<text x="945.15" y="419.3" font-size="26.3" text-anchor="middle" font-weight="normal" font-style="normal" fill="#000">2</text>
<text x="986.81" y="419.3" font-size="26.3" text-anchor="start" font-weight="normal" font-style="normal" fill="#000">4WOD</text>
<text x="819.9" y="225.12" font-size="26.4" text-anchor="middle" font-weight="normal" font-style="normal" fill="#000" transform="rotate(-90 819.9 225.12)">mRNA fold change</text>
<text x="953.58" y="60.5" font-size="26" text-anchor="middle" font-weight="normal" font-style="normal" fill="#000" style="white-space:pre"><tspan font-style="italic">Trp53</tspan></text>
</g>
<g id="c_Gadd45g">
<line x1="1120.64" y1="75.45" x2="1120.64" y2="392.48" stroke="#000" stroke-width="2" stroke-linecap="butt"/>
<line x1="1113.81" y1="391.48" x2="1276.68" y2="391.48" stroke="#000" stroke-width="2" stroke-linecap="butt"/>
<line x1="1114.14" y1="76.45" x2="1120.64" y2="76.45" stroke="#000" stroke-width="2" stroke-linecap="butt"/>
<text x="1112.64" y="88.15" font-size="26.3" text-anchor="end" font-weight="normal" font-style="normal" fill="#000">3.0</text>
<line x1="1114.14" y1="181.69" x2="1120.64" y2="181.69" stroke="#000" stroke-width="2" stroke-linecap="butt"/>
<text x="1112.64" y="193.16" font-size="26.3" text-anchor="end" font-weight="normal" font-style="normal" fill="#000">2.0</text>
<line x1="1114.14" y1="286.47" x2="1120.64" y2="286.47" stroke="#000" stroke-width="2" stroke-linecap="butt"/>
<text x="1112.64" y="297.71" font-size="26.3" text-anchor="end" font-weight="normal" font-style="normal" fill="#000">1.0</text>
<line x1="1114.14" y1="391.48" x2="1120.64" y2="391.48" stroke="#000" stroke-width="2" stroke-linecap="butt"/>
<text x="1112.64" y="402.49" font-size="26.3" text-anchor="end" font-weight="normal" font-style="normal" fill="#000">0.0</text>
<line x1="1149.12" y1="391.48" x2="1149.12" y2="398.98" stroke="#000" stroke-width="2" stroke-linecap="butt"/>
<line x1="1198.09" y1="391.48" x2="1198.09" y2="398.98" stroke="#000" stroke-width="2" stroke-linecap="butt"/>
<line x1="1247.07" y1="391.48" x2="1247.07" y2="398.98" stroke="#000" stroke-width="2" stroke-linecap="butt"/>
<line x1="1140.23" y1="276.9" x2="1140.23" y2="286.47" stroke="#000" stroke-width="1.8" stroke-linecap="butt"/>
<line x1="1134.93" y1="276.9" x2="1145.53" y2="276.9" stroke="#000" stroke-width="1.8" stroke-linecap="butt"/>
<rect x="1131.85" y="286.47" width="16.78" height="105.01" fill="#808080" stroke="#000" stroke-width="1.9"/>
<line x1="1159.37" y1="229.52" x2="1159.37" y2="243.42" stroke="#ff0a64" stroke-width="1.8" stroke-linecap="butt"/>
<line x1="1154.07" y1="229.52" x2="1164.67" y2="229.52" stroke="#ff0a64" stroke-width="1.8" stroke-linecap="butt"/>
<rect x="1150.52" y="243.42" width="17.69" height="148.06" fill="#ff82b4" stroke="#ff0a64" stroke-width="1.9"/>
<line x1="1189.21" y1="274.62" x2="1189.21" y2="285.56" stroke="#000" stroke-width="1.8" stroke-linecap="butt"/>
<line x1="1183.91" y1="274.62" x2="1194.51" y2="274.62" stroke="#000" stroke-width="1.8" stroke-linecap="butt"/>
<rect x="1180.82" y="285.56" width="16.78" height="105.92" fill="#808080" stroke="#000" stroke-width="1.9"/>
<line x1="1208.23" y1="205.83" x2="1208.23" y2="225.65" stroke="#ff0a64" stroke-width="1.8" stroke-linecap="butt"/>
<line x1="1202.93" y1="205.83" x2="1213.53" y2="205.83" stroke="#ff0a64" stroke-width="1.8" stroke-linecap="butt"/>
<rect x="1199.5" y="225.65" width="17.46" height="165.83" fill="#ff82b4" stroke="#ff0a64" stroke-width="1.9"/>
<line x1="1238.18" y1="271.21" x2="1238.18" y2="284.87" stroke="#000" stroke-width="1.8" stroke-linecap="butt"/>
<line x1="1232.88" y1="271.21" x2="1243.48" y2="271.21" stroke="#000" stroke-width="1.8" stroke-linecap="butt"/>
<rect x="1229.8" y="284.87" width="16.78" height="106.61" fill="#808080" stroke="#000" stroke-width="1.9"/>
<line x1="1257.21" y1="229.07" x2="1257.21" y2="240.46" stroke="#ff0a64" stroke-width="1.8" stroke-linecap="butt"/>
<line x1="1251.91" y1="229.07" x2="1262.51" y2="229.07" stroke="#ff0a64" stroke-width="1.8" stroke-linecap="butt"/>
<rect x="1248.47" y="240.46" width="17.46" height="151.03" fill="#ff82b4" stroke="#ff0a64" stroke-width="1.9"/>
<line x1="1113.81" y1="391.48" x2="1276.68" y2="391.48" stroke="#000" stroke-width="2" stroke-linecap="butt"/>
<circle cx="1140.01" cy="258.68" r="2.95" fill="none" stroke="#000" stroke-width="1.4"/>
<circle cx="1133.17" cy="280.77" r="2.95" fill="none" stroke="#000" stroke-width="1.4"/>
<circle cx="1146.38" cy="279.18" r="2.95" fill="none" stroke="#000" stroke-width="1.4"/>
<circle cx="1133.17" cy="306.97" r="2.95" fill="none" stroke="#000" stroke-width="1.4"/>
<circle cx="1146.38" cy="301.96" r="2.95" fill="none" stroke="#000" stroke-width="1.4"/>
<circle cx="1159.37" cy="196.04" r="2.95" fill="none" stroke="#ff0a64" stroke-width="1.4"/>
<circle cx="1159.37" cy="234.76" r="2.95" fill="none" stroke="#ff0a64" stroke-width="1.4"/>
<circle cx="1159.37" cy="252.98" r="2.95" fill="none" stroke="#ff0a64" stroke-width="1.4"/>
<circle cx="1159.37" cy="260.5" r="2.95" fill="none" stroke="#ff0a64" stroke-width="1.4"/>
<circle cx="1159.37" cy="271.21" r="2.95" fill="none" stroke="#ff0a64" stroke-width="1.4"/>
<circle cx="1182.6" cy="264.37" r="2.95" fill="none" stroke="#000" stroke-width="1.4"/>
<circle cx="1195.82" cy="264.37" r="2.95" fill="none" stroke="#000" stroke-width="1.4"/>
<circle cx="1188.98" cy="281.46" r="2.95" fill="none" stroke="#000" stroke-width="1.4"/>
<circle cx="1188.98" cy="299.23" r="2.95" fill="none" stroke="#000" stroke-width="1.4"/>
<circle cx="1188.98" cy="316.08" r="2.95" fill="none" stroke="#000" stroke-width="1.4"/>
<circle cx="1208.34" cy="160.05" r="2.95" fill="none" stroke="#ff0a64" stroke-width="1.4"/>
<circle cx="1215.18" cy="222.92" r="2.95" fill="none" stroke="#ff0a64" stroke-width="1.4"/>
<circle cx="1201.97" cy="228.38" r="2.95" fill="none" stroke="#ff0a64" stroke-width="1.4"/>
<circle cx="1208.34" cy="235.22" r="2.95" fill="none" stroke="#ff0a64" stroke-width="1.4"/>
<circle cx="1208.34" cy="276.9" r="2.95" fill="none" stroke="#ff0a64" stroke-width="1.4"/>
<circle cx="1237.96" cy="235.9" r="2.95" fill="none" stroke="#000" stroke-width="1.4"/>
<circle cx="1237.96" cy="278.72" r="2.95" fill="none" stroke="#000" stroke-width="1.4"/>
<circle cx="1237.96" cy="293.99" r="2.95" fill="none" stroke="#000" stroke-width="1.4"/>
<circle cx="1237.96" cy="301.96" r="2.95" fill="none" stroke="#000" stroke-width="1.4"/>
<circle cx="1237.96" cy="309.93" r="2.95" fill="none" stroke="#000" stroke-width="1.4"/>
<circle cx="1250.94" cy="215.4" r="2.95" fill="none" stroke="#ff0a64" stroke-width="1.4"/>
<circle cx="1264.15" cy="218.36" r="2.95" fill="none" stroke="#ff0a64" stroke-width="1.4"/>
<circle cx="1257.32" cy="240.46" r="2.95" fill="none" stroke="#ff0a64" stroke-width="1.4"/>
<circle cx="1257.32" cy="252.98" r="2.95" fill="none" stroke="#ff0a64" stroke-width="1.4"/>
<circle cx="1257.32" cy="273.49" r="2.95" fill="none" stroke="#ff0a64" stroke-width="1.4"/>
<polyline points="1140.01,233.62 1140.01,167.56 1159.82,167.56 1159.82,185.79" fill="none" stroke="#000" stroke-width="1.9" stroke-linejoin="miter"/>
<text x="1150.2" y="172.41" font-size="32" text-anchor="middle" font-weight="bold" font-style="normal" fill="#000" letter-spacing="0.8">*</text>
<polyline points="1188.98,229.07 1188.98,129.52 1208.34,129.52 1208.34,145.24" fill="none" stroke="#000" stroke-width="1.9" stroke-linejoin="miter"/>
<text x="1198.95" y="134.37" font-size="32" text-anchor="middle" font-weight="bold" font-style="normal" fill="#000" letter-spacing="0.8">*</text>
<polyline points="1237.5,215.4 1237.5,167.11 1260.28,167.11 1260.28,186.47" fill="none" stroke="#000" stroke-width="1.9" stroke-linejoin="miter"/>
<text x="1249.75" y="172.41" font-size="32" text-anchor="middle" font-weight="bold" font-style="normal" fill="#000" letter-spacing="0.8">*</text>
<text x="1149.12" y="419.98" font-size="26.3" text-anchor="middle" font-weight="normal" font-style="normal" fill="#000">1</text>
<text x="1198.09" y="419.98" font-size="26.3" text-anchor="middle" font-weight="normal" font-style="normal" fill="#000">2</text>
<text x="1239.76" y="419.98" font-size="26.3" text-anchor="start" font-weight="normal" font-style="normal" fill="#000">4WOD</text>
<text x="1071.74" y="225.56" font-size="26.4" text-anchor="middle" font-weight="normal" font-style="normal" fill="#000" transform="rotate(-90 1071.74 225.56)">mRNA fold change</text>
<text x="1205.61" y="59.36" font-size="26" text-anchor="middle" font-weight="normal" font-style="normal" fill="#000" style="white-space:pre"><tspan font-style="italic">Gadd45g</tspan></text>
</g>
<g id="c_Ppp1r15a">
<line x1="100.23" y1="526.22" x2="100.23" y2="843.19" stroke="#000" stroke-width="2" stroke-linecap="butt"/>
<line x1="93.21" y1="842.19" x2="256.83" y2="842.19" stroke="#000" stroke-width="2" stroke-linecap="butt"/>
<line x1="93.73" y1="527.22" x2="100.23" y2="527.22" stroke="#000" stroke-width="2" stroke-linecap="butt"/>
<text x="92.23" y="533.53" font-size="26.3" text-anchor="end" font-weight="normal" font-style="normal" fill="#000">3.0</text>
<line x1="93.73" y1="632.46" x2="100.23" y2="632.46" stroke="#000" stroke-width="2" stroke-linecap="butt"/>
<text x="92.23" y="639" font-size="26.3" text-anchor="end" font-weight="normal" font-style="normal" fill="#000">2.0</text>
<line x1="93.73" y1="737.45" x2="100.23" y2="737.45" stroke="#000" stroke-width="2" stroke-linecap="butt"/>
<text x="92.23" y="744.22" font-size="26.3" text-anchor="end" font-weight="normal" font-style="normal" fill="#000">1.0</text>
<line x1="93.73" y1="842.19" x2="100.23" y2="842.19" stroke="#000" stroke-width="2" stroke-linecap="butt"/>
<text x="92.23" y="849.19" font-size="26.3" text-anchor="end" font-weight="normal" font-style="normal" fill="#000">0.0</text>
<line x1="128.54" y1="842.19" x2="128.54" y2="849.69" stroke="#000" stroke-width="2" stroke-linecap="butt"/>
<line x1="177.9" y1="842.19" x2="177.9" y2="849.69" stroke="#000" stroke-width="2" stroke-linecap="butt"/>
<line x1="226.77" y1="842.19" x2="226.77" y2="849.69" stroke="#000" stroke-width="2" stroke-linecap="butt"/>
<line x1="119.65" y1="729.43" x2="119.65" y2="737.45" stroke="#000" stroke-width="1.8" stroke-linecap="butt"/>
<line x1="114.35" y1="729.43" x2="124.95" y2="729.43" stroke="#000" stroke-width="1.8" stroke-linecap="butt"/>
<rect x="111.2" y="737.45" width="16.89" height="104.74" fill="#808080" stroke="#000" stroke-width="1.9"/>
<line x1="139.07" y1="678.06" x2="139.07" y2="693.1" stroke="#ff0a64" stroke-width="1.8" stroke-linecap="butt"/>
<line x1="133.77" y1="678.06" x2="144.37" y2="678.06" stroke="#ff0a64" stroke-width="1.8" stroke-linecap="butt"/>
<rect x="129.99" y="693.1" width="18.15" height="149.09" fill="#ff82b4" stroke="#ff0a64" stroke-width="1.9"/>
<line x1="168.76" y1="729.43" x2="168.76" y2="737.45" stroke="#000" stroke-width="1.8" stroke-linecap="butt"/>
<line x1="163.46" y1="729.43" x2="174.06" y2="729.43" stroke="#000" stroke-width="1.8" stroke-linecap="butt"/>
<rect x="160.06" y="737.45" width="17.39" height="104.74" fill="#808080" stroke="#000" stroke-width="1.9"/>
<line x1="188.18" y1="722.41" x2="188.18" y2="731.44" stroke="#ff0a64" stroke-width="1.8" stroke-linecap="butt"/>
<line x1="182.88" y1="722.41" x2="193.48" y2="722.41" stroke="#ff0a64" stroke-width="1.8" stroke-linecap="butt"/>
<rect x="179.36" y="731.44" width="17.64" height="110.75" fill="#ff82b4" stroke="#ff0a64" stroke-width="1.9"/>
<line x1="218" y1="725.67" x2="218" y2="731.94" stroke="#000" stroke-width="1.8" stroke-linecap="butt"/>
<line x1="212.7" y1="725.67" x2="223.3" y2="725.67" stroke="#000" stroke-width="1.8" stroke-linecap="butt"/>
<rect x="209.42" y="731.94" width="17.14" height="110.25" fill="#808080" stroke="#000" stroke-width="1.9"/>
<line x1="237.16" y1="723.67" x2="237.16" y2="732.69" stroke="#ff0a64" stroke-width="1.8" stroke-linecap="butt"/>
<line x1="231.86" y1="723.67" x2="242.46" y2="723.67" stroke="#ff0a64" stroke-width="1.8" stroke-linecap="butt"/>
<rect x="228.47" y="732.69" width="17.39" height="109.5" fill="#ff82b4" stroke="#ff0a64" stroke-width="1.9"/>
<line x1="93.21" y1="842.19" x2="256.83" y2="842.19" stroke="#000" stroke-width="2" stroke-linecap="butt"/>
<circle cx="119.77" cy="720.16" r="2.95" fill="none" stroke="#000" stroke-width="1.4"/>
<circle cx="119.77" cy="729.43" r="2.95" fill="none" stroke="#000" stroke-width="1.4"/>
<circle cx="112.76" cy="740.71" r="2.95" fill="none" stroke="#000" stroke-width="1.4"/>
<circle cx="126.54" cy="746.22" r="2.95" fill="none" stroke="#000" stroke-width="1.4"/>
<circle cx="112.76" cy="750.23" r="2.95" fill="none" stroke="#000" stroke-width="1.4"/>
<circle cx="139.07" cy="637.22" r="2.95" fill="none" stroke="#ff0a64" stroke-width="1.4"/>
<circle cx="131.55" cy="700.11" r="2.95" fill="none" stroke="#ff0a64" stroke-width="1.4"/>
<circle cx="146.08" cy="698.11" r="2.95" fill="none" stroke="#ff0a64" stroke-width="1.4"/>
<circle cx="146.08" cy="706.88" r="2.95" fill="none" stroke="#ff0a64" stroke-width="1.4"/>
<circle cx="139.07" cy="721.91" r="2.95" fill="none" stroke="#ff0a64" stroke-width="1.4"/>
<circle cx="169.13" cy="717.65" r="2.95" fill="none" stroke="#000" stroke-width="1.4"/>
<circle cx="169.13" cy="726.17" r="2.95" fill="none" stroke="#000" stroke-width="1.4"/>
<circle cx="169.13" cy="738.2" r="2.95" fill="none" stroke="#000" stroke-width="1.4"/>
<circle cx="161.62" cy="753.23" r="2.95" fill="none" stroke="#000" stroke-width="1.4"/>
<circle cx="175.4" cy="748.72" r="2.95" fill="none" stroke="#000" stroke-width="1.4"/>
<circle cx="181.16" cy="712.64" r="2.95" fill="none" stroke="#ff0a64" stroke-width="1.4"/>
<circle cx="194.94" cy="709.38" r="2.95" fill="none" stroke="#ff0a64" stroke-width="1.4"/>
<circle cx="181.16" cy="739.45" r="2.95" fill="none" stroke="#ff0a64" stroke-width="1.4"/>
<circle cx="181.16" cy="746.97" r="2.95" fill="none" stroke="#ff0a64" stroke-width="1.4"/>
<circle cx="194.94" cy="746.22" r="2.95" fill="none" stroke="#ff0a64" stroke-width="1.4"/>
<circle cx="218" cy="713.14" r="2.95" fill="none" stroke="#000" stroke-width="1.4"/>
<circle cx="211.23" cy="729.43" r="2.95" fill="none" stroke="#000" stroke-width="1.4"/>
<circle cx="224.26" cy="734.44" r="2.95" fill="none" stroke="#000" stroke-width="1.4"/>
<circle cx="218" cy="734.44" r="2.95" fill="none" stroke="#000" stroke-width="1.4"/>
<circle cx="218" cy="746.22" r="2.95" fill="none" stroke="#000" stroke-width="1.4"/>
<circle cx="237.29" cy="703.62" r="2.95" fill="none" stroke="#ff0a64" stroke-width="1.4"/>
<circle cx="237.29" cy="728.18" r="2.95" fill="none" stroke="#ff0a64" stroke-width="1.4"/>
<circle cx="230.52" cy="738.7" r="2.95" fill="none" stroke="#ff0a64" stroke-width="1.4"/>
<circle cx="244.31" cy="742.71" r="2.95" fill="none" stroke="#ff0a64" stroke-width="1.4"/>
<circle cx="237.29" cy="749.48" r="2.95" fill="none" stroke="#ff0a64" stroke-width="1.4"/>
<polyline points="118.52,675.56 118.52,595.38 139.57,595.38 139.57,607.9" fill="none" stroke="#000" stroke-width="1.9" stroke-linejoin="miter"/>
<text x="129.44" y="598.59" font-size="32" text-anchor="middle" font-weight="bold" font-style="normal" fill="#000" letter-spacing="0.8">*</text>
<text x="181.66" y="683.77" font-size="16.5" text-anchor="middle" font-weight="normal" font-style="normal" fill="#000">ns</text>
<text x="230.52" y="683.77" font-size="16.5" text-anchor="middle" font-weight="normal" font-style="normal" fill="#000">ns</text>
<text x="128.54" y="870.69" font-size="26.3" text-anchor="middle" font-weight="normal" font-style="normal" fill="#000">1</text>
<text x="177.9" y="870.69" font-size="26.3" text-anchor="middle" font-weight="normal" font-style="normal" fill="#000">2</text>
<text x="219.45" y="870.69" font-size="26.3" text-anchor="start" font-weight="normal" font-style="normal" fill="#000">4WOD</text>
<text x="51.43" y="677.7" font-size="26.4" text-anchor="middle" font-weight="normal" font-style="normal" fill="#000" transform="rotate(-90 51.43 677.7)">mRNA fold change</text>
<text x="179.91" y="503.92" font-size="26" text-anchor="middle" font-weight="normal" font-style="normal" fill="#000" style="white-space:pre"><tspan font-style="italic">Ppp1r15a</tspan></text>
</g>
<g id="c_sXbp1">
<line x1="359.7" y1="522.46" x2="359.7" y2="846.95" stroke="#000" stroke-width="2" stroke-linecap="butt"/>
<line x1="352.19" y1="845.95" x2="515.56" y2="845.95" stroke="#000" stroke-width="2" stroke-linecap="butt"/>
<line x1="353.2" y1="523.46" x2="359.7" y2="523.46" stroke="#000" stroke-width="2" stroke-linecap="butt"/>
<text x="351.7" y="535.67" font-size="26.3" text-anchor="end" font-weight="normal" font-style="normal" fill="#000">4.0</text>
<line x1="353.2" y1="604.15" x2="359.7" y2="604.15" stroke="#000" stroke-width="2" stroke-linecap="butt"/>
<text x="351.7" y="616.18" font-size="26.3" text-anchor="end" font-weight="normal" font-style="normal" fill="#000">3.0</text>
<line x1="353.2" y1="684.83" x2="359.7" y2="684.83" stroke="#000" stroke-width="2" stroke-linecap="butt"/>
<text x="351.7" y="696.68" font-size="26.3" text-anchor="end" font-weight="normal" font-style="normal" fill="#000">2.0</text>
<line x1="353.2" y1="765.26" x2="359.7" y2="765.26" stroke="#000" stroke-width="2" stroke-linecap="butt"/>
<text x="351.7" y="776.94" font-size="26.3" text-anchor="end" font-weight="normal" font-style="normal" fill="#000">1.0</text>
<line x1="353.2" y1="845.95" x2="359.7" y2="845.95" stroke="#000" stroke-width="2" stroke-linecap="butt"/>
<text x="351.7" y="857.45" font-size="26.3" text-anchor="end" font-weight="normal" font-style="normal" fill="#000">0.0</text>
<line x1="388.27" y1="845.95" x2="388.27" y2="853.45" stroke="#000" stroke-width="2" stroke-linecap="butt"/>
<line x1="437.38" y1="845.95" x2="437.38" y2="853.45" stroke="#000" stroke-width="2" stroke-linecap="butt"/>
<line x1="486.74" y1="845.95" x2="486.74" y2="853.45" stroke="#000" stroke-width="2" stroke-linecap="butt"/>
<line x1="379" y1="756.49" x2="379" y2="764.51" stroke="#000" stroke-width="1.8" stroke-linecap="butt"/>
<line x1="373.7" y1="756.49" x2="384.3" y2="756.49" stroke="#000" stroke-width="1.8" stroke-linecap="butt"/>
<rect x="370.43" y="764.51" width="17.14" height="81.44" fill="#808080" stroke="#000" stroke-width="1.9"/>
<line x1="398.17" y1="650" x2="398.17" y2="672.3" stroke="#ff0a64" stroke-width="1.8" stroke-linecap="butt"/>
<line x1="392.87" y1="650" x2="403.47" y2="650" stroke="#ff0a64" stroke-width="1.8" stroke-linecap="butt"/>
<rect x="389.47" y="672.3" width="17.39" height="173.64" fill="#ff82b4" stroke="#ff0a64" stroke-width="1.9"/>
<line x1="427.86" y1="756.99" x2="427.86" y2="764.51" stroke="#000" stroke-width="1.8" stroke-linecap="butt"/>
<line x1="422.56" y1="756.99" x2="433.16" y2="756.99" stroke="#000" stroke-width="1.8" stroke-linecap="butt"/>
<rect x="419.29" y="764.51" width="17.14" height="81.44" fill="#808080" stroke="#000" stroke-width="1.9"/>
<line x1="447.4" y1="713.14" x2="447.4" y2="726.92" stroke="#ff0a64" stroke-width="1.8" stroke-linecap="butt"/>
<line x1="442.1" y1="713.14" x2="452.7" y2="713.14" stroke="#ff0a64" stroke-width="1.8" stroke-linecap="butt"/>
<rect x="438.33" y="726.92" width="18.15" height="119.02" fill="#ff82b4" stroke="#ff0a64" stroke-width="1.9"/>
<line x1="477.47" y1="745.72" x2="477.47" y2="761.25" stroke="#000" stroke-width="1.8" stroke-linecap="butt"/>
<line x1="472.17" y1="745.72" x2="482.77" y2="745.72" stroke="#000" stroke-width="1.8" stroke-linecap="butt"/>
<rect x="468.9" y="761.25" width="17.14" height="84.69" fill="#808080" stroke="#000" stroke-width="1.9"/>
<line x1="496.89" y1="694.85" x2="496.89" y2="711.14" stroke="#ff0a64" stroke-width="1.8" stroke-linecap="butt"/>
<line x1="491.59" y1="694.85" x2="502.19" y2="694.85" stroke="#ff0a64" stroke-width="1.8" stroke-linecap="butt"/>
<rect x="487.94" y="711.14" width="17.89" height="134.81" fill="#ff82b4" stroke="#ff0a64" stroke-width="1.9"/>
<line x1="352.19" y1="845.95" x2="515.56" y2="845.95" stroke="#000" stroke-width="2" stroke-linecap="butt"/>
<circle cx="378.5" cy="740.21" r="2.95" fill="none" stroke="#000" stroke-width="1.4"/>
<circle cx="378.5" cy="753.23" r="2.95" fill="none" stroke="#000" stroke-width="1.4"/>
<circle cx="371.98" cy="770.77" r="2.95" fill="none" stroke="#000" stroke-width="1.4"/>
<circle cx="371.98" cy="778.79" r="2.95" fill="none" stroke="#000" stroke-width="1.4"/>
<circle cx="385.26" cy="777.04" r="2.95" fill="none" stroke="#000" stroke-width="1.4"/>
<circle cx="398.54" cy="609.16" r="2.95" fill="none" stroke="#ff0a64" stroke-width="1.4"/>
<circle cx="398.54" cy="643.49" r="2.95" fill="none" stroke="#ff0a64" stroke-width="1.4"/>
<circle cx="398.54" cy="664.28" r="2.95" fill="none" stroke="#ff0a64" stroke-width="1.4"/>
<circle cx="398.54" cy="718.15" r="2.95" fill="none" stroke="#ff0a64" stroke-width="1.4"/>
<circle cx="398.54" cy="725.17" r="2.95" fill="none" stroke="#ff0a64" stroke-width="1.4"/>
<circle cx="427.86" cy="747.47" r="2.95" fill="none" stroke="#000" stroke-width="1.4"/>
<circle cx="420.84" cy="757.74" r="2.95" fill="none" stroke="#000" stroke-width="1.4"/>
<circle cx="427.86" cy="761.5" r="2.95" fill="none" stroke="#000" stroke-width="1.4"/>
<circle cx="434.62" cy="761.5" r="2.95" fill="none" stroke="#000" stroke-width="1.4"/>
<circle cx="427.86" cy="790.82" r="2.95" fill="none" stroke="#000" stroke-width="1.4"/>
<circle cx="447.9" cy="697.61" r="2.95" fill="none" stroke="#ff0a64" stroke-width="1.4"/>
<circle cx="447.9" cy="706.13" r="2.95" fill="none" stroke="#ff0a64" stroke-width="1.4"/>
<circle cx="441.14" cy="725.67" r="2.95" fill="none" stroke="#ff0a64" stroke-width="1.4"/>
<circle cx="454.67" cy="727.43" r="2.95" fill="none" stroke="#ff0a64" stroke-width="1.4"/>
<circle cx="447.9" cy="772.03" r="2.95" fill="none" stroke="#ff0a64" stroke-width="1.4"/>
<circle cx="477.22" cy="710.64" r="2.95" fill="none" stroke="#000" stroke-width="1.4"/>
<circle cx="477.22" cy="748.22" r="2.95" fill="none" stroke="#000" stroke-width="1.4"/>
<circle cx="477.22" cy="768.27" r="2.95" fill="none" stroke="#000" stroke-width="1.4"/>
<circle cx="477.22" cy="784.56" r="2.95" fill="none" stroke="#000" stroke-width="1.4"/>
<circle cx="477.22" cy="792.07" r="2.95" fill="none" stroke="#000" stroke-width="1.4"/>
<circle cx="490.5" cy="671.3" r="2.95" fill="none" stroke="#ff0a64" stroke-width="1.4"/>
<circle cx="503.78" cy="673.8" r="2.95" fill="none" stroke="#ff0a64" stroke-width="1.4"/>
<circle cx="497.02" cy="724.42" r="2.95" fill="none" stroke="#ff0a64" stroke-width="1.4"/>
<circle cx="497.02" cy="734.94" r="2.95" fill="none" stroke="#ff0a64" stroke-width="1.4"/>
<circle cx="497.02" cy="749.98" r="2.95" fill="none" stroke="#ff0a64" stroke-width="1.4"/>
<polyline points="376.99,708.13 376.99,577.08 399.04,577.08 399.04,592.37" fill="none" stroke="#000" stroke-width="1.9" stroke-linejoin="miter"/>
<text x="388.17" y="580.8" font-size="32" text-anchor="middle" font-weight="bold" font-style="normal" fill="#000" letter-spacing="0.8">**</text>
<polyline points="426.61,711.14 426.61,664.78 447.9,664.78 447.9,686.83" fill="none" stroke="#000" stroke-width="1.9" stroke-linejoin="miter"/>
<text x="437.78" y="667.99" font-size="32" text-anchor="middle" font-weight="bold" font-style="normal" fill="#000" letter-spacing="0.8">*</text>
<text x="490.5" y="633.65" font-size="16.5" text-anchor="middle" font-weight="normal" font-style="normal" fill="#000">ns</text>
<text x="388.27" y="874.45" font-size="26.3" text-anchor="middle" font-weight="normal" font-style="normal" fill="#000">1</text>
<text x="437.38" y="874.45" font-size="26.3" text-anchor="middle" font-weight="normal" font-style="normal" fill="#000">2</text>
<text x="479.43" y="874.45" font-size="26.3" text-anchor="start" font-weight="normal" font-style="normal" fill="#000">4WOD</text>
<text x="310" y="678" font-size="26.4" text-anchor="middle" font-weight="normal" font-style="normal" fill="#000" transform="rotate(-90 310 678)">mRNA fold change</text>
<text x="428.36" y="510.18" font-size="26" text-anchor="middle" font-weight="normal" font-style="normal" fill="#000" style="white-space:pre"><tspan font-style="normal">Spliced </tspan><tspan font-style="italic">Xbp1</tspan></text>
</g>
<g id="c_uXbp1">
<line x1="612.69" y1="531.23" x2="612.69" y2="848.2" stroke="#000" stroke-width="2" stroke-linecap="butt"/>
<line x1="605.67" y1="847.2" x2="768.79" y2="847.2" stroke="#000" stroke-width="2" stroke-linecap="butt"/>
<line x1="606.19" y1="532.23" x2="612.69" y2="532.23" stroke="#000" stroke-width="2" stroke-linecap="butt"/>
<text x="604.69" y="542.04" font-size="26.3" text-anchor="end" font-weight="normal" font-style="normal" fill="#000">4.0</text>
<line x1="606.19" y1="610.91" x2="612.69" y2="610.91" stroke="#000" stroke-width="2" stroke-linecap="butt"/>
<text x="604.69" y="620.94" font-size="26.3" text-anchor="end" font-weight="normal" font-style="normal" fill="#000">3.0</text>
<line x1="606.19" y1="689.84" x2="612.69" y2="689.84" stroke="#000" stroke-width="2" stroke-linecap="butt"/>
<text x="604.69" y="700.1" font-size="26.3" text-anchor="end" font-weight="normal" font-style="normal" fill="#000">2.0</text>
<line x1="606.19" y1="768.77" x2="612.69" y2="768.77" stroke="#000" stroke-width="2" stroke-linecap="butt"/>
<text x="604.69" y="779.25" font-size="26.3" text-anchor="end" font-weight="normal" font-style="normal" fill="#000">1.0</text>
<line x1="606.19" y1="847.2" x2="612.69" y2="847.2" stroke="#000" stroke-width="2" stroke-linecap="butt"/>
<text x="604.69" y="857.9" font-size="26.3" text-anchor="end" font-weight="normal" font-style="normal" fill="#000">0.0</text>
<line x1="641.5" y1="847.2" x2="641.5" y2="854.7" stroke="#000" stroke-width="2" stroke-linecap="butt"/>
<line x1="690.36" y1="847.2" x2="690.36" y2="854.7" stroke="#000" stroke-width="2" stroke-linecap="butt"/>
<line x1="739.98" y1="847.2" x2="739.98" y2="854.7" stroke="#000" stroke-width="2" stroke-linecap="butt"/>
<line x1="632.23" y1="756.99" x2="632.23" y2="767.02" stroke="#000" stroke-width="1.8" stroke-linecap="butt"/>
<line x1="626.93" y1="756.99" x2="637.53" y2="756.99" stroke="#000" stroke-width="1.8" stroke-linecap="butt"/>
<rect x="623.66" y="767.02" width="17.14" height="80.18" fill="#808080" stroke="#000" stroke-width="1.9"/>
<line x1="651.65" y1="753.23" x2="651.65" y2="759.5" stroke="#ff0a64" stroke-width="1.8" stroke-linecap="butt"/>
<line x1="646.35" y1="753.23" x2="656.95" y2="753.23" stroke="#ff0a64" stroke-width="1.8" stroke-linecap="butt"/>
<rect x="642.7" y="759.5" width="17.89" height="87.7" fill="#ff82b4" stroke="#ff0a64" stroke-width="1.9"/>
<line x1="681.09" y1="759" x2="681.09" y2="767.77" stroke="#000" stroke-width="1.8" stroke-linecap="butt"/>
<line x1="675.79" y1="759" x2="686.39" y2="759" stroke="#000" stroke-width="1.8" stroke-linecap="butt"/>
<rect x="672.52" y="767.77" width="17.14" height="79.43" fill="#808080" stroke="#000" stroke-width="1.9"/>
<line x1="700.51" y1="752.73" x2="700.51" y2="763.26" stroke="#ff0a64" stroke-width="1.8" stroke-linecap="butt"/>
<line x1="695.21" y1="752.73" x2="705.81" y2="752.73" stroke="#ff0a64" stroke-width="1.8" stroke-linecap="butt"/>
<rect x="691.57" y="763.26" width="17.89" height="83.94" fill="#ff82b4" stroke="#ff0a64" stroke-width="1.9"/>
<line x1="730.46" y1="755.24" x2="730.46" y2="766.26" stroke="#000" stroke-width="1.8" stroke-linecap="butt"/>
<line x1="725.16" y1="755.24" x2="735.76" y2="755.24" stroke="#000" stroke-width="1.8" stroke-linecap="butt"/>
<rect x="721.88" y="766.26" width="17.14" height="80.93" fill="#808080" stroke="#000" stroke-width="1.9"/>
<line x1="749.62" y1="769.52" x2="749.62" y2="779.54" stroke="#ff0a64" stroke-width="1.8" stroke-linecap="butt"/>
<line x1="744.32" y1="769.52" x2="754.92" y2="769.52" stroke="#ff0a64" stroke-width="1.8" stroke-linecap="butt"/>
<rect x="740.93" y="779.54" width="17.39" height="67.65" fill="#ff82b4" stroke="#ff0a64" stroke-width="1.9"/>
<line x1="605.67" y1="847.2" x2="768.79" y2="847.2" stroke="#000" stroke-width="2" stroke-linecap="butt"/>
<circle cx="631.98" cy="733.69" r="2.95" fill="none" stroke="#000" stroke-width="1.4"/>
<circle cx="631.98" cy="757.74" r="2.95" fill="none" stroke="#000" stroke-width="1.4"/>
<circle cx="625.22" cy="776.29" r="2.95" fill="none" stroke="#000" stroke-width="1.4"/>
<circle cx="638.5" cy="778.29" r="2.95" fill="none" stroke="#000" stroke-width="1.4"/>
<circle cx="631.98" cy="787.06" r="2.95" fill="none" stroke="#000" stroke-width="1.4"/>
<circle cx="651.78" cy="742.46" r="2.95" fill="none" stroke="#ff0a64" stroke-width="1.4"/>
<circle cx="651.78" cy="753.23" r="2.95" fill="none" stroke="#ff0a64" stroke-width="1.4"/>
<circle cx="645.26" cy="763.26" r="2.95" fill="none" stroke="#ff0a64" stroke-width="1.4"/>
<circle cx="658.29" cy="763.26" r="2.95" fill="none" stroke="#ff0a64" stroke-width="1.4"/>
<circle cx="651.78" cy="772.03" r="2.95" fill="none" stroke="#ff0a64" stroke-width="1.4"/>
<circle cx="681.09" cy="743.21" r="2.95" fill="none" stroke="#000" stroke-width="1.4"/>
<circle cx="674.08" cy="764.01" r="2.95" fill="none" stroke="#000" stroke-width="1.4"/>
<circle cx="687.86" cy="767.02" r="2.95" fill="none" stroke="#000" stroke-width="1.4"/>
<circle cx="681.09" cy="769.52" r="2.95" fill="none" stroke="#000" stroke-width="1.4"/>
<circle cx="681.09" cy="792.07" r="2.95" fill="none" stroke="#000" stroke-width="1.4"/>
<circle cx="694.12" cy="738.2" r="2.95" fill="none" stroke="#ff0a64" stroke-width="1.4"/>
<circle cx="707.4" cy="741.21" r="2.95" fill="none" stroke="#ff0a64" stroke-width="1.4"/>
<circle cx="700.89" cy="769.52" r="2.95" fill="none" stroke="#ff0a64" stroke-width="1.4"/>
<circle cx="707.4" cy="780.8" r="2.95" fill="none" stroke="#ff0a64" stroke-width="1.4"/>
<circle cx="694.12" cy="785.06" r="2.95" fill="none" stroke="#ff0a64" stroke-width="1.4"/>
<circle cx="730.46" cy="733.94" r="2.95" fill="none" stroke="#000" stroke-width="1.4"/>
<circle cx="730.46" cy="755.74" r="2.95" fill="none" stroke="#000" stroke-width="1.4"/>
<circle cx="730.46" cy="765.76" r="2.95" fill="none" stroke="#000" stroke-width="1.4"/>
<circle cx="730.46" cy="775.79" r="2.95" fill="none" stroke="#000" stroke-width="1.4"/>
<circle cx="730.46" cy="797.84" r="2.95" fill="none" stroke="#000" stroke-width="1.4"/>
<circle cx="749.75" cy="746.97" r="2.95" fill="none" stroke="#ff0a64" stroke-width="1.4"/>
<circle cx="749.75" cy="770.77" r="2.95" fill="none" stroke="#ff0a64" stroke-width="1.4"/>
<circle cx="742.98" cy="787.06" r="2.95" fill="none" stroke="#ff0a64" stroke-width="1.4"/>
<circle cx="756.77" cy="790.82" r="2.95" fill="none" stroke="#ff0a64" stroke-width="1.4"/>
<circle cx="749.75" cy="798.34" r="2.95" fill="none" stroke="#ff0a64" stroke-width="1.4"/>
<text x="639.5" y="700.81" font-size="16.5" text-anchor="middle" font-weight="normal" font-style="normal" fill="#000">ns</text>
<text x="687.86" y="700.81" font-size="16.5" text-anchor="middle" font-weight="normal" font-style="normal" fill="#000">ns</text>
<text x="736.72" y="700.81" font-size="16.5" text-anchor="middle" font-weight="normal" font-style="normal" fill="#000">ns</text>
<text x="641.5" y="875.7" font-size="26.3" text-anchor="middle" font-weight="normal" font-style="normal" fill="#000">1</text>
<text x="690.36" y="875.7" font-size="26.3" text-anchor="middle" font-weight="normal" font-style="normal" fill="#000">2</text>
<text x="732.67" y="875.7" font-size="26.3" text-anchor="start" font-weight="normal" font-style="normal" fill="#000">4WOD</text>
<text x="563.79" y="681.42" font-size="26.4" text-anchor="middle" font-weight="normal" font-style="normal" fill="#000" transform="rotate(-90 563.79 681.42)">mRNA fold change</text>
<text x="695.38" y="510.18" font-size="26" text-anchor="middle" font-weight="normal" font-style="normal" fill="#000" style="white-space:pre"><tspan font-style="normal">Unspliced </tspan><tspan font-style="italic">Xbp1</tspan></text>
</g>
<g id="c_tXbp1">
<line x1="866.45" y1="531.23" x2="866.45" y2="848.2" stroke="#000" stroke-width="2" stroke-linecap="butt"/>
<line x1="859.43" y1="847.2" x2="1022.55" y2="847.2" stroke="#000" stroke-width="2" stroke-linecap="butt"/>
<line x1="859.95" y1="532.23" x2="866.45" y2="532.23" stroke="#000" stroke-width="2" stroke-linecap="butt"/>
<text x="858.45" y="542.24" font-size="26.3" text-anchor="end" font-weight="normal" font-style="normal" fill="#000">4.0</text>
<line x1="859.95" y1="610.91" x2="866.45" y2="610.91" stroke="#000" stroke-width="2" stroke-linecap="butt"/>
<text x="858.45" y="621.09" font-size="26.3" text-anchor="end" font-weight="normal" font-style="normal" fill="#000">3.0</text>
<line x1="859.95" y1="689.84" x2="866.45" y2="689.84" stroke="#000" stroke-width="2" stroke-linecap="butt"/>
<text x="858.45" y="700.2" font-size="26.3" text-anchor="end" font-weight="normal" font-style="normal" fill="#000">2.0</text>
<line x1="859.95" y1="768.77" x2="866.45" y2="768.77" stroke="#000" stroke-width="2" stroke-linecap="butt"/>
<text x="858.45" y="779.3" font-size="26.3" text-anchor="end" font-weight="normal" font-style="normal" fill="#000">1.0</text>
<line x1="859.95" y1="847.2" x2="866.45" y2="847.2" stroke="#000" stroke-width="2" stroke-linecap="butt"/>
<text x="858.45" y="857.9" font-size="26.3" text-anchor="end" font-weight="normal" font-style="normal" fill="#000">0.0</text>
<line x1="895.26" y1="847.2" x2="895.26" y2="854.7" stroke="#000" stroke-width="2" stroke-linecap="butt"/>
<line x1="944.12" y1="847.2" x2="944.12" y2="854.7" stroke="#000" stroke-width="2" stroke-linecap="butt"/>
<line x1="993.49" y1="847.2" x2="993.49" y2="854.7" stroke="#000" stroke-width="2" stroke-linecap="butt"/>
<line x1="885.87" y1="759.5" x2="885.87" y2="767.77" stroke="#000" stroke-width="1.8" stroke-linecap="butt"/>
<line x1="880.57" y1="759.5" x2="891.17" y2="759.5" stroke="#000" stroke-width="1.8" stroke-linecap="butt"/>
<rect x="877.42" y="767.77" width="16.89" height="79.43" fill="#808080" stroke="#000" stroke-width="1.9"/>
<line x1="905.03" y1="743.21" x2="905.03" y2="747.47" stroke="#ff0a64" stroke-width="1.8" stroke-linecap="butt"/>
<line x1="899.73" y1="743.21" x2="910.33" y2="743.21" stroke="#ff0a64" stroke-width="1.8" stroke-linecap="butt"/>
<rect x="896.21" y="747.47" width="17.64" height="99.73" fill="#ff82b4" stroke="#ff0a64" stroke-width="1.9"/>
<line x1="934.73" y1="755.74" x2="934.73" y2="766.51" stroke="#000" stroke-width="1.8" stroke-linecap="butt"/>
<line x1="929.43" y1="755.74" x2="940.03" y2="755.74" stroke="#000" stroke-width="1.8" stroke-linecap="butt"/>
<rect x="926.28" y="766.51" width="16.89" height="80.68" fill="#808080" stroke="#000" stroke-width="1.9"/>
<line x1="953.9" y1="757.49" x2="953.9" y2="765.76" stroke="#ff0a64" stroke-width="1.8" stroke-linecap="butt"/>
<line x1="948.6" y1="757.49" x2="959.2" y2="757.49" stroke="#ff0a64" stroke-width="1.8" stroke-linecap="butt"/>
<rect x="945.07" y="765.76" width="17.64" height="81.44" fill="#ff82b4" stroke="#ff0a64" stroke-width="1.9"/>
<line x1="983.84" y1="753.99" x2="983.84" y2="766.26" stroke="#000" stroke-width="1.8" stroke-linecap="butt"/>
<line x1="978.54" y1="753.99" x2="989.14" y2="753.99" stroke="#000" stroke-width="1.8" stroke-linecap="butt"/>
<rect x="975.14" y="766.26" width="17.39" height="80.93" fill="#808080" stroke="#000" stroke-width="1.9"/>
<line x1="1003.26" y1="762.76" x2="1003.26" y2="771.53" stroke="#ff0a64" stroke-width="1.8" stroke-linecap="butt"/>
<line x1="997.96" y1="762.76" x2="1008.56" y2="762.76" stroke="#ff0a64" stroke-width="1.8" stroke-linecap="butt"/>
<rect x="994.44" y="771.53" width="17.64" height="75.67" fill="#ff82b4" stroke="#ff0a64" stroke-width="1.9"/>
<line x1="859.43" y1="847.2" x2="1022.55" y2="847.2" stroke="#000" stroke-width="2" stroke-linecap="butt"/>
<circle cx="885.24" cy="742.71" r="2.95" fill="none" stroke="#000" stroke-width="1.4"/>
<circle cx="885.24" cy="761.25" r="2.95" fill="none" stroke="#000" stroke-width="1.4"/>
<circle cx="878.97" cy="770.27" r="2.95" fill="none" stroke="#000" stroke-width="1.4"/>
<circle cx="892" cy="775.28" r="2.95" fill="none" stroke="#000" stroke-width="1.4"/>
<circle cx="885.24" cy="787.81" r="2.95" fill="none" stroke="#000" stroke-width="1.4"/>
<circle cx="898.52" cy="738.2" r="2.95" fill="none" stroke="#ff0a64" stroke-width="1.4"/>
<circle cx="912.05" cy="740.71" r="2.95" fill="none" stroke="#ff0a64" stroke-width="1.4"/>
<circle cx="898.52" cy="755.24" r="2.95" fill="none" stroke="#ff0a64" stroke-width="1.4"/>
<circle cx="905.28" cy="753.23" r="2.95" fill="none" stroke="#ff0a64" stroke-width="1.4"/>
<circle cx="912.05" cy="754.99" r="2.95" fill="none" stroke="#ff0a64" stroke-width="1.4"/>
<circle cx="934.6" cy="734.44" r="2.95" fill="none" stroke="#000" stroke-width="1.4"/>
<circle cx="934.6" cy="755.74" r="2.95" fill="none" stroke="#000" stroke-width="1.4"/>
<circle cx="934.6" cy="768.77" r="2.95" fill="none" stroke="#000" stroke-width="1.4"/>
<circle cx="927.84" cy="790.32" r="2.95" fill="none" stroke="#000" stroke-width="1.4"/>
<circle cx="941.62" cy="784.05" r="2.95" fill="none" stroke="#000" stroke-width="1.4"/>
<circle cx="954.15" cy="745.72" r="2.95" fill="none" stroke="#ff0a64" stroke-width="1.4"/>
<circle cx="960.91" cy="755.24" r="2.95" fill="none" stroke="#ff0a64" stroke-width="1.4"/>
<circle cx="947.38" cy="762" r="2.95" fill="none" stroke="#ff0a64" stroke-width="1.4"/>
<circle cx="960.91" cy="779.54" r="2.95" fill="none" stroke="#ff0a64" stroke-width="1.4"/>
<circle cx="947.38" cy="785.31" r="2.95" fill="none" stroke="#ff0a64" stroke-width="1.4"/>
<circle cx="983.46" cy="723.92" r="2.95" fill="none" stroke="#000" stroke-width="1.4"/>
<circle cx="983.46" cy="760.75" r="2.95" fill="none" stroke="#000" stroke-width="1.4"/>
<circle cx="977.2" cy="773.78" r="2.95" fill="none" stroke="#000" stroke-width="1.4"/>
<circle cx="990.48" cy="779.04" r="2.95" fill="none" stroke="#000" stroke-width="1.4"/>
<circle cx="983.46" cy="791.57" r="2.95" fill="none" stroke="#000" stroke-width="1.4"/>
<circle cx="1003.01" cy="748.22" r="2.95" fill="none" stroke="#ff0a64" stroke-width="1.4"/>
<circle cx="1003.01" cy="758.25" r="2.95" fill="none" stroke="#ff0a64" stroke-width="1.4"/>
<circle cx="1003.01" cy="775.28" r="2.95" fill="none" stroke="#ff0a64" stroke-width="1.4"/>
<circle cx="996.24" cy="790.07" r="2.95" fill="none" stroke="#ff0a64" stroke-width="1.4"/>
<circle cx="1009.77" cy="785.06" r="2.95" fill="none" stroke="#ff0a64" stroke-width="1.4"/>
<text x="898.52" y="690.03" font-size="16.5" text-anchor="middle" font-weight="normal" font-style="normal" fill="#000">ns</text>
<text x="946.63" y="690.03" font-size="16.5" text-anchor="middle" font-weight="normal" font-style="normal" fill="#000">ns</text>
<text x="995.49" y="690.03" font-size="16.5" text-anchor="middle" font-weight="normal" font-style="normal" fill="#000">ns</text>
<text x="895.26" y="875.7" font-size="26.3" text-anchor="middle" font-weight="normal" font-style="normal" fill="#000">1</text>
<text x="944.12" y="875.7" font-size="26.3" text-anchor="middle" font-weight="normal" font-style="normal" fill="#000">2</text>
<text x="986.17" y="875.7" font-size="26.3" text-anchor="start" font-weight="normal" font-style="normal" fill="#000">4WOD</text>
<text x="816.35" y="682.42" font-size="26.4" text-anchor="middle" font-weight="normal" font-style="normal" fill="#000" transform="rotate(-90 816.35 682.42)">mRNA fold change</text>
<text x="951.14" y="510.18" font-size="26" text-anchor="middle" font-weight="normal" font-style="normal" fill="#000" style="white-space:pre"><tspan font-style="normal">Total </tspan><tspan font-style="italic">Xbp1</tspan></text>
</g>
<g id="c_Ccl12">
<line x1="99.48" y1="957.95" x2="99.48" y2="1274.42" stroke="#000" stroke-width="2" stroke-linecap="butt"/>
<line x1="92.71" y1="1273.42" x2="255.08" y2="1273.42" stroke="#000" stroke-width="2" stroke-linecap="butt"/>
<line x1="92.98" y1="958.95" x2="99.48" y2="958.95" stroke="#000" stroke-width="2" stroke-linecap="butt"/>
<text x="91.48" y="975.06" font-size="26.3" text-anchor="end" font-weight="normal" font-style="normal" fill="#000">25.0</text>
<line x1="92.98" y1="1021.59" x2="99.48" y2="1021.59" stroke="#000" stroke-width="2" stroke-linecap="butt"/>
<text x="91.48" y="1034.73" font-size="26.3" text-anchor="end" font-weight="normal" font-style="normal" fill="#000">20.0</text>
<line x1="92.98" y1="1084.74" x2="99.48" y2="1084.74" stroke="#000" stroke-width="2" stroke-linecap="butt"/>
<text x="91.48" y="1094.88" font-size="26.3" text-anchor="end" font-weight="normal" font-style="normal" fill="#000">15.0</text>
<line x1="92.98" y1="1147.63" x2="99.48" y2="1147.63" stroke="#000" stroke-width="2" stroke-linecap="butt"/>
<text x="91.48" y="1154.8" font-size="26.3" text-anchor="end" font-weight="normal" font-style="normal" fill="#000">10.0</text>
<line x1="92.98" y1="1210.27" x2="99.48" y2="1210.27" stroke="#000" stroke-width="2" stroke-linecap="butt"/>
<text x="91.48" y="1214.47" font-size="26.3" text-anchor="end" font-weight="normal" font-style="normal" fill="#000">5.0</text>
<line x1="92.98" y1="1273.42" x2="99.48" y2="1273.42" stroke="#000" stroke-width="2" stroke-linecap="butt"/>
<text x="91.48" y="1274.62" font-size="26.3" text-anchor="end" font-weight="normal" font-style="normal" fill="#000">0.0</text>
<line x1="127.79" y1="1273.42" x2="127.79" y2="1280.92" stroke="#000" stroke-width="2" stroke-linecap="butt"/>
<line x1="176.65" y1="1273.42" x2="176.65" y2="1280.92" stroke="#000" stroke-width="2" stroke-linecap="butt"/>
<line x1="226.26" y1="1273.42" x2="226.26" y2="1280.92" stroke="#000" stroke-width="2" stroke-linecap="butt"/>
<line x1="118.14" y1="1259.13" x2="118.14" y2="1260.89" stroke="#000" stroke-width="1.8" stroke-linecap="butt"/>
<line x1="112.84" y1="1259.13" x2="123.44" y2="1259.13" stroke="#000" stroke-width="1.8" stroke-linecap="butt"/>
<rect x="109.45" y="1260.89" width="17.39" height="12.53" fill="#808080" stroke="#000" stroke-width="1.9"/>
<line x1="137.56" y1="1253.37" x2="137.56" y2="1258.38" stroke="#ff0a64" stroke-width="1.8" stroke-linecap="butt"/>
<line x1="132.26" y1="1253.37" x2="142.86" y2="1253.37" stroke="#ff0a64" stroke-width="1.8" stroke-linecap="butt"/>
<rect x="128.74" y="1258.38" width="17.64" height="15.03" fill="#ff82b4" stroke="#ff0a64" stroke-width="1.9"/>
<line x1="167.51" y1="1259.13" x2="167.51" y2="1260.89" stroke="#000" stroke-width="1.8" stroke-linecap="butt"/>
<line x1="162.21" y1="1259.13" x2="172.81" y2="1259.13" stroke="#000" stroke-width="1.8" stroke-linecap="butt"/>
<rect x="158.81" y="1260.89" width="17.39" height="12.53" fill="#808080" stroke="#000" stroke-width="1.9"/>
<line x1="186.55" y1="1096.26" x2="186.55" y2="1126.33" stroke="#ff0a64" stroke-width="1.8" stroke-linecap="butt"/>
<line x1="181.25" y1="1096.26" x2="191.85" y2="1096.26" stroke="#ff0a64" stroke-width="1.8" stroke-linecap="butt"/>
<rect x="178.1" y="1126.33" width="16.89" height="147.08" fill="#ff82b4" stroke="#ff0a64" stroke-width="1.9"/>
<line x1="216.37" y1="1259.13" x2="216.37" y2="1260.89" stroke="#000" stroke-width="1.8" stroke-linecap="butt"/>
<line x1="211.07" y1="1259.13" x2="221.67" y2="1259.13" stroke="#000" stroke-width="1.8" stroke-linecap="butt"/>
<rect x="207.67" y="1260.89" width="17.39" height="12.53" fill="#808080" stroke="#000" stroke-width="1.9"/>
<line x1="235.79" y1="1179.45" x2="235.79" y2="1184.97" stroke="#ff0a64" stroke-width="1.8" stroke-linecap="butt"/>
<line x1="230.49" y1="1179.45" x2="241.09" y2="1179.45" stroke="#ff0a64" stroke-width="1.8" stroke-linecap="butt"/>
<rect x="226.96" y="1184.97" width="17.64" height="88.45" fill="#ff82b4" stroke="#ff0a64" stroke-width="1.9"/>
<line x1="92.71" y1="1273.42" x2="255.08" y2="1273.42" stroke="#000" stroke-width="2" stroke-linecap="butt"/>
<circle cx="111" cy="1260.89" r="2.95" fill="none" stroke="#000" stroke-width="1.4"/>
<circle cx="114.76" cy="1258.38" r="2.95" fill="none" stroke="#000" stroke-width="1.4"/>
<circle cx="118.52" cy="1261.39" r="2.95" fill="none" stroke="#000" stroke-width="1.4"/>
<circle cx="122.28" cy="1260.14" r="2.95" fill="none" stroke="#000" stroke-width="1.4"/>
<circle cx="125.28" cy="1262.14" r="2.95" fill="none" stroke="#000" stroke-width="1.4"/>
<circle cx="137.31" cy="1244.1" r="2.95" fill="none" stroke="#ff0a64" stroke-width="1.4"/>
<circle cx="130.3" cy="1262.89" r="2.95" fill="none" stroke="#ff0a64" stroke-width="1.4"/>
<circle cx="137.31" cy="1258.38" r="2.95" fill="none" stroke="#ff0a64" stroke-width="1.4"/>
<circle cx="144.08" cy="1262.89" r="2.95" fill="none" stroke="#ff0a64" stroke-width="1.4"/>
<circle cx="137.31" cy="1264.65" r="2.95" fill="none" stroke="#ff0a64" stroke-width="1.4"/>
<circle cx="160.87" cy="1256.63" r="2.95" fill="none" stroke="#000" stroke-width="1.4"/>
<circle cx="160.36" cy="1263.39" r="2.95" fill="none" stroke="#000" stroke-width="1.4"/>
<circle cx="166.13" cy="1260.39" r="2.95" fill="none" stroke="#000" stroke-width="1.4"/>
<circle cx="170.39" cy="1260.89" r="2.95" fill="none" stroke="#000" stroke-width="1.4"/>
<circle cx="174.65" cy="1260.89" r="2.95" fill="none" stroke="#000" stroke-width="1.4"/>
<circle cx="186.67" cy="1035.38" r="2.95" fill="none" stroke="#ff0a64" stroke-width="1.4"/>
<circle cx="186.67" cy="1074.21" r="2.95" fill="none" stroke="#ff0a64" stroke-width="1.4"/>
<circle cx="186.67" cy="1161.16" r="2.95" fill="none" stroke="#ff0a64" stroke-width="1.4"/>
<circle cx="186.67" cy="1170.68" r="2.95" fill="none" stroke="#ff0a64" stroke-width="1.4"/>
<circle cx="186.67" cy="1189.48" r="2.95" fill="none" stroke="#ff0a64" stroke-width="1.4"/>
<circle cx="209.73" cy="1256.63" r="2.95" fill="none" stroke="#000" stroke-width="1.4"/>
<circle cx="209.73" cy="1263.9" r="2.95" fill="none" stroke="#000" stroke-width="1.4"/>
<circle cx="214.74" cy="1260.39" r="2.95" fill="none" stroke="#000" stroke-width="1.4"/>
<circle cx="219.25" cy="1261.39" r="2.95" fill="none" stroke="#000" stroke-width="1.4"/>
<circle cx="223.51" cy="1261.39" r="2.95" fill="none" stroke="#000" stroke-width="1.4"/>
<circle cx="236.04" cy="1174.94" r="2.95" fill="none" stroke="#ff0a64" stroke-width="1.4"/>
<circle cx="229.27" cy="1179.95" r="2.95" fill="none" stroke="#ff0a64" stroke-width="1.4"/>
<circle cx="242.55" cy="1179.95" r="2.95" fill="none" stroke="#ff0a64" stroke-width="1.4"/>
<circle cx="236.04" cy="1186.22" r="2.95" fill="none" stroke="#ff0a64" stroke-width="1.4"/>
<circle cx="236.04" cy="1202.51" r="2.95" fill="none" stroke="#ff0a64" stroke-width="1.4"/>
<polyline points="164.62,1087.49 164.62,1012.07 185.92,1012.07 185.92,1021.59" fill="none" stroke="#000" stroke-width="1.9" stroke-linejoin="miter"/>
<text x="175.8" y="1015.78" font-size="32" text-anchor="middle" font-weight="bold" font-style="normal" fill="#000" letter-spacing="0.8">***</text>
<polyline points="216.24,1219.54 216.24,1143.87 236.79,1143.87 236.79,1153.64" fill="none" stroke="#000" stroke-width="1.9" stroke-linejoin="miter"/>
<text x="227.17" y="1147.58" font-size="32" text-anchor="middle" font-weight="bold" font-style="normal" fill="#000" letter-spacing="0.8">**</text>
<text x="126.54" y="1220.24" font-size="16.5" text-anchor="middle" font-weight="normal" font-style="normal" fill="#000">ns</text>
<text x="127.79" y="1301.92" font-size="26.3" text-anchor="middle" font-weight="normal" font-style="normal" fill="#000">1</text>
<text x="176.65" y="1301.92" font-size="26.3" text-anchor="middle" font-weight="normal" font-style="normal" fill="#000">2</text>
<text x="218.95" y="1301.92" font-size="26.3" text-anchor="start" font-weight="normal" font-style="normal" fill="#000">4WOD</text>
<text x="29.58" y="1102.38" font-size="26.4" text-anchor="middle" font-weight="normal" font-style="normal" fill="#000" transform="rotate(-90 29.58 1102.38)">mRNA fold change</text>
<text x="189.68" y="938.91" font-size="26" text-anchor="middle" font-weight="normal" font-style="normal" fill="#000" style="white-space:pre"><tspan font-style="italic">Ccl12</tspan></text>
</g>
<g id="c_Il6">
<line x1="352.69" y1="957.2" x2="352.69" y2="1273.67" stroke="#000" stroke-width="2" stroke-linecap="butt"/>
<line x1="345.67" y1="1272.67" x2="508.04" y2="1272.67" stroke="#000" stroke-width="2" stroke-linecap="butt"/>
<line x1="346.19" y1="958.2" x2="352.69" y2="958.2" stroke="#000" stroke-width="2" stroke-linecap="butt"/>
<text x="344.69" y="970.91" font-size="26.3" text-anchor="end" font-weight="normal" font-style="normal" fill="#000">4.0</text>
<line x1="346.19" y1="1036.63" x2="352.69" y2="1036.63" stroke="#000" stroke-width="2" stroke-linecap="butt"/>
<text x="344.69" y="1048.39" font-size="26.3" text-anchor="end" font-weight="normal" font-style="normal" fill="#000">3.0</text>
<line x1="346.19" y1="1115.56" x2="352.69" y2="1115.56" stroke="#000" stroke-width="2" stroke-linecap="butt"/>
<text x="344.69" y="1126.36" font-size="26.3" text-anchor="end" font-weight="normal" font-style="normal" fill="#000">2.0</text>
<line x1="346.19" y1="1194.49" x2="352.69" y2="1194.49" stroke="#000" stroke-width="2" stroke-linecap="butt"/>
<text x="344.69" y="1204.34" font-size="26.3" text-anchor="end" font-weight="normal" font-style="normal" fill="#000">1.0</text>
<line x1="346.19" y1="1272.67" x2="352.69" y2="1272.67" stroke="#000" stroke-width="2" stroke-linecap="butt"/>
<text x="344.69" y="1281.57" font-size="26.3" text-anchor="end" font-weight="normal" font-style="normal" fill="#000">0.0</text>
<line x1="381" y1="1272.67" x2="381" y2="1280.17" stroke="#000" stroke-width="2" stroke-linecap="butt"/>
<line x1="430.36" y1="1272.67" x2="430.36" y2="1280.17" stroke="#000" stroke-width="2" stroke-linecap="butt"/>
<line x1="479.23" y1="1272.67" x2="479.23" y2="1280.17" stroke="#000" stroke-width="2" stroke-linecap="butt"/>
<line x1="371.86" y1="1181.96" x2="371.86" y2="1192.48" stroke="#000" stroke-width="1.8" stroke-linecap="butt"/>
<line x1="366.56" y1="1181.96" x2="377.16" y2="1181.96" stroke="#000" stroke-width="1.8" stroke-linecap="butt"/>
<rect x="363.16" y="1192.48" width="17.39" height="80.18" fill="#808080" stroke="#000" stroke-width="1.9"/>
<line x1="391.15" y1="1176.95" x2="391.15" y2="1183.21" stroke="#ff0a64" stroke-width="1.8" stroke-linecap="butt"/>
<line x1="385.85" y1="1176.95" x2="396.45" y2="1176.95" stroke="#ff0a64" stroke-width="1.8" stroke-linecap="butt"/>
<rect x="382.45" y="1183.21" width="17.39" height="89.45" fill="#ff82b4" stroke="#ff0a64" stroke-width="1.9"/>
<line x1="420.97" y1="1181.21" x2="420.97" y2="1191.98" stroke="#000" stroke-width="1.8" stroke-linecap="butt"/>
<line x1="415.67" y1="1181.21" x2="426.27" y2="1181.21" stroke="#000" stroke-width="1.8" stroke-linecap="butt"/>
<rect x="412.52" y="1191.98" width="16.89" height="80.68" fill="#808080" stroke="#000" stroke-width="1.9"/>
<line x1="440.14" y1="1094.26" x2="440.14" y2="1118.82" stroke="#ff0a64" stroke-width="1.8" stroke-linecap="butt"/>
<line x1="434.84" y1="1094.26" x2="445.44" y2="1094.26" stroke="#ff0a64" stroke-width="1.8" stroke-linecap="butt"/>
<rect x="431.31" y="1118.82" width="17.64" height="153.85" fill="#ff82b4" stroke="#ff0a64" stroke-width="1.9"/>
<line x1="469.95" y1="1179.45" x2="469.95" y2="1191.98" stroke="#000" stroke-width="1.8" stroke-linecap="butt"/>
<line x1="464.65" y1="1179.45" x2="475.25" y2="1179.45" stroke="#000" stroke-width="1.8" stroke-linecap="butt"/>
<rect x="461.38" y="1191.98" width="17.14" height="80.68" fill="#808080" stroke="#000" stroke-width="1.9"/>
<line x1="489.12" y1="1142.37" x2="489.12" y2="1152.64" stroke="#ff0a64" stroke-width="1.8" stroke-linecap="butt"/>
<line x1="483.82" y1="1142.37" x2="494.42" y2="1142.37" stroke="#ff0a64" stroke-width="1.8" stroke-linecap="butt"/>
<rect x="480.43" y="1152.64" width="17.39" height="120.02" fill="#ff82b4" stroke="#ff0a64" stroke-width="1.9"/>
<line x1="345.67" y1="1272.67" x2="508.04" y2="1272.67" stroke="#000" stroke-width="2" stroke-linecap="butt"/>
<circle cx="371.98" cy="1163.17" r="2.95" fill="none" stroke="#000" stroke-width="1.4"/>
<circle cx="371.98" cy="1171.18" r="2.95" fill="none" stroke="#000" stroke-width="1.4"/>
<circle cx="365.22" cy="1204.51" r="2.95" fill="none" stroke="#000" stroke-width="1.4"/>
<circle cx="365.22" cy="1211.53" r="2.95" fill="none" stroke="#000" stroke-width="1.4"/>
<circle cx="378.5" cy="1207.77" r="2.95" fill="none" stroke="#000" stroke-width="1.4"/>
<circle cx="384.76" cy="1167.68" r="2.95" fill="none" stroke="#ff0a64" stroke-width="1.4"/>
<circle cx="398.29" cy="1173.69" r="2.95" fill="none" stroke="#ff0a64" stroke-width="1.4"/>
<circle cx="391.78" cy="1182.46" r="2.95" fill="none" stroke="#ff0a64" stroke-width="1.4"/>
<circle cx="384.76" cy="1196.49" r="2.95" fill="none" stroke="#ff0a64" stroke-width="1.4"/>
<circle cx="398.29" cy="1192.48" r="2.95" fill="none" stroke="#ff0a64" stroke-width="1.4"/>
<circle cx="414.58" cy="1167.68" r="2.95" fill="none" stroke="#000" stroke-width="1.4"/>
<circle cx="427.36" cy="1168.18" r="2.95" fill="none" stroke="#000" stroke-width="1.4"/>
<circle cx="420.84" cy="1193.23" r="2.95" fill="none" stroke="#000" stroke-width="1.4"/>
<circle cx="420.84" cy="1207.52" r="2.95" fill="none" stroke="#000" stroke-width="1.4"/>
<circle cx="420.84" cy="1222.05" r="2.95" fill="none" stroke="#000" stroke-width="1.4"/>
<circle cx="440.39" cy="1049.16" r="2.95" fill="none" stroke="#ff0a64" stroke-width="1.4"/>
<circle cx="440.39" cy="1079.73" r="2.95" fill="none" stroke="#ff0a64" stroke-width="1.4"/>
<circle cx="440.39" cy="1127.33" r="2.95" fill="none" stroke="#ff0a64" stroke-width="1.4"/>
<circle cx="440.39" cy="1154.9" r="2.95" fill="none" stroke="#ff0a64" stroke-width="1.4"/>
<circle cx="440.39" cy="1180.71" r="2.95" fill="none" stroke="#ff0a64" stroke-width="1.4"/>
<circle cx="469.7" cy="1143.12" r="2.95" fill="none" stroke="#000" stroke-width="1.4"/>
<circle cx="462.94" cy="1201.5" r="2.95" fill="none" stroke="#000" stroke-width="1.4"/>
<circle cx="476.22" cy="1198.25" r="2.95" fill="none" stroke="#000" stroke-width="1.4"/>
<circle cx="462.94" cy="1210.77" r="2.95" fill="none" stroke="#000" stroke-width="1.4"/>
<circle cx="476.22" cy="1205.26" r="2.95" fill="none" stroke="#000" stroke-width="1.4"/>
<circle cx="489.75" cy="1116.06" r="2.95" fill="none" stroke="#ff0a64" stroke-width="1.4"/>
<circle cx="489.75" cy="1148.88" r="2.95" fill="none" stroke="#ff0a64" stroke-width="1.4"/>
<circle cx="489.75" cy="1156.9" r="2.95" fill="none" stroke="#ff0a64" stroke-width="1.4"/>
<circle cx="482.98" cy="1170.68" r="2.95" fill="none" stroke="#ff0a64" stroke-width="1.4"/>
<circle cx="496.26" cy="1166.92" r="2.95" fill="none" stroke="#ff0a64" stroke-width="1.4"/>
<polyline points="419.59,1100.02 419.59,1023.6 440.89,1023.6 440.89,1033.37" fill="none" stroke="#000" stroke-width="1.9" stroke-linejoin="miter"/>
<text x="430.76" y="1027.31" font-size="32" text-anchor="middle" font-weight="bold" font-style="normal" fill="#000" letter-spacing="0.8">*</text>
<polyline points="469.95,1126.08 469.95,1088 490,1088 490,1097.52" fill="none" stroke="#000" stroke-width="1.9" stroke-linejoin="miter"/>
<text x="480.13" y="1091.71" font-size="32" text-anchor="middle" font-weight="bold" font-style="normal" fill="#000" letter-spacing="0.8">*</text>
<text x="383.26" y="1103.72" font-size="16.5" text-anchor="middle" font-weight="normal" font-style="normal" fill="#000">ns</text>
<text x="381" y="1301.17" font-size="26.3" text-anchor="middle" font-weight="normal" font-style="normal" fill="#000">1</text>
<text x="430.36" y="1301.17" font-size="26.3" text-anchor="middle" font-weight="normal" font-style="normal" fill="#000">2</text>
<text x="471.91" y="1301.17" font-size="26.3" text-anchor="start" font-weight="normal" font-style="normal" fill="#000">4WOD</text>
<text x="305.09" y="1104.93" font-size="26.4" text-anchor="middle" font-weight="normal" font-style="normal" fill="#000" transform="rotate(-90 305.09 1104.93)">mRNA fold change</text>
<text x="423.35" y="938.91" font-size="26" text-anchor="middle" font-weight="normal" font-style="normal" fill="#000" style="white-space:pre"><tspan font-style="italic">Il6</tspan></text>
</g>
<g id="c_Tnf">
<line x1="605.17" y1="957.95" x2="605.17" y2="1274.42" stroke="#000" stroke-width="2" stroke-linecap="butt"/>
<line x1="598.15" y1="1273.42" x2="760.02" y2="1273.42" stroke="#000" stroke-width="2" stroke-linecap="butt"/>
<line x1="598.67" y1="958.95" x2="605.17" y2="958.95" stroke="#000" stroke-width="2" stroke-linecap="butt"/>
<text x="597.17" y="972.16" font-size="26.3" text-anchor="end" font-weight="normal" font-style="normal" fill="#000">4.0</text>
<line x1="598.67" y1="1037.38" x2="605.17" y2="1037.38" stroke="#000" stroke-width="2" stroke-linecap="butt"/>
<text x="597.17" y="1049.71" font-size="26.3" text-anchor="end" font-weight="normal" font-style="normal" fill="#000">3.0</text>
<line x1="598.67" y1="1116.31" x2="605.17" y2="1116.31" stroke="#000" stroke-width="2" stroke-linecap="butt"/>
<text x="597.17" y="1127.76" font-size="26.3" text-anchor="end" font-weight="normal" font-style="normal" fill="#000">2.0</text>
<line x1="598.67" y1="1194.99" x2="605.17" y2="1194.99" stroke="#000" stroke-width="2" stroke-linecap="butt"/>
<text x="597.17" y="1205.57" font-size="26.3" text-anchor="end" font-weight="normal" font-style="normal" fill="#000">1.0</text>
<line x1="598.67" y1="1273.42" x2="605.17" y2="1273.42" stroke="#000" stroke-width="2" stroke-linecap="butt"/>
<text x="597.17" y="1283.12" font-size="26.3" text-anchor="end" font-weight="normal" font-style="normal" fill="#000">0.0</text>
<line x1="632.73" y1="1273.42" x2="632.73" y2="1280.92" stroke="#000" stroke-width="2" stroke-linecap="butt"/>
<line x1="681.59" y1="1273.42" x2="681.59" y2="1280.92" stroke="#000" stroke-width="2" stroke-linecap="butt"/>
<line x1="731.21" y1="1273.42" x2="731.21" y2="1280.92" stroke="#000" stroke-width="2" stroke-linecap="butt"/>
<line x1="623.84" y1="1181.96" x2="623.84" y2="1193.23" stroke="#000" stroke-width="1.8" stroke-linecap="butt"/>
<line x1="618.54" y1="1181.96" x2="629.14" y2="1181.96" stroke="#000" stroke-width="1.8" stroke-linecap="butt"/>
<rect x="615.39" y="1193.23" width="16.89" height="80.18" fill="#808080" stroke="#000" stroke-width="1.9"/>
<line x1="643.01" y1="1176.95" x2="643.01" y2="1189.48" stroke="#ff0a64" stroke-width="1.8" stroke-linecap="butt"/>
<line x1="637.71" y1="1176.95" x2="648.31" y2="1176.95" stroke="#ff0a64" stroke-width="1.8" stroke-linecap="butt"/>
<rect x="634.18" y="1189.48" width="17.64" height="83.94" fill="#ff82b4" stroke="#ff0a64" stroke-width="1.9"/>
<line x1="672.82" y1="1177.45" x2="672.82" y2="1191.98" stroke="#000" stroke-width="1.8" stroke-linecap="butt"/>
<line x1="667.52" y1="1177.45" x2="678.12" y2="1177.45" stroke="#000" stroke-width="1.8" stroke-linecap="butt"/>
<rect x="664.25" y="1191.98" width="17.14" height="81.44" fill="#808080" stroke="#000" stroke-width="1.9"/>
<line x1="692.24" y1="1091.25" x2="692.24" y2="1110.55" stroke="#ff0a64" stroke-width="1.8" stroke-linecap="butt"/>
<line x1="686.94" y1="1091.25" x2="697.54" y2="1091.25" stroke="#ff0a64" stroke-width="1.8" stroke-linecap="butt"/>
<rect x="683.3" y="1110.55" width="17.89" height="162.87" fill="#ff82b4" stroke="#ff0a64" stroke-width="1.9"/>
<line x1="721.81" y1="1187.72" x2="721.81" y2="1194.99" stroke="#000" stroke-width="1.8" stroke-linecap="butt"/>
<line x1="716.51" y1="1187.72" x2="727.11" y2="1187.72" stroke="#000" stroke-width="1.8" stroke-linecap="butt"/>
<rect x="713.36" y="1194.99" width="16.89" height="78.43" fill="#808080" stroke="#000" stroke-width="1.9"/>
<line x1="741.1" y1="1064.69" x2="741.1" y2="1085.99" stroke="#ff0a64" stroke-width="1.8" stroke-linecap="butt"/>
<line x1="735.8" y1="1064.69" x2="746.4" y2="1064.69" stroke="#ff0a64" stroke-width="1.8" stroke-linecap="butt"/>
<rect x="732.16" y="1085.99" width="17.89" height="187.43" fill="#ff82b4" stroke="#ff0a64" stroke-width="1.9"/>
<line x1="598.15" y1="1273.42" x2="760.02" y2="1273.42" stroke="#000" stroke-width="2" stroke-linecap="butt"/>
<circle cx="623.46" cy="1150.14" r="2.95" fill="none" stroke="#000" stroke-width="1.4"/>
<circle cx="616.95" cy="1198.75" r="2.95" fill="none" stroke="#000" stroke-width="1.4"/>
<circle cx="623.46" cy="1201.5" r="2.95" fill="none" stroke="#000" stroke-width="1.4"/>
<circle cx="630.23" cy="1205.01" r="2.95" fill="none" stroke="#000" stroke-width="1.4"/>
<circle cx="616.95" cy="1208.27" r="2.95" fill="none" stroke="#000" stroke-width="1.4"/>
<circle cx="643.51" cy="1154.4" r="2.95" fill="none" stroke="#ff0a64" stroke-width="1.4"/>
<circle cx="643.51" cy="1166.92" r="2.95" fill="none" stroke="#ff0a64" stroke-width="1.4"/>
<circle cx="643.51" cy="1194.99" r="2.95" fill="none" stroke="#ff0a64" stroke-width="1.4"/>
<circle cx="636.49" cy="1215.79" r="2.95" fill="none" stroke="#ff0a64" stroke-width="1.4"/>
<circle cx="650.27" cy="1215.03" r="2.95" fill="none" stroke="#ff0a64" stroke-width="1.4"/>
<circle cx="672.82" cy="1142.62" r="2.95" fill="none" stroke="#000" stroke-width="1.4"/>
<circle cx="672.82" cy="1181.96" r="2.95" fill="none" stroke="#000" stroke-width="1.4"/>
<circle cx="666.06" cy="1206.51" r="2.95" fill="none" stroke="#000" stroke-width="1.4"/>
<circle cx="679.59" cy="1209.52" r="2.95" fill="none" stroke="#000" stroke-width="1.4"/>
<circle cx="672.82" cy="1215.79" r="2.95" fill="none" stroke="#000" stroke-width="1.4"/>
<circle cx="692.37" cy="1040.39" r="2.95" fill="none" stroke="#ff0a64" stroke-width="1.4"/>
<circle cx="692.37" cy="1110.55" r="2.95" fill="none" stroke="#ff0a64" stroke-width="1.4"/>
<circle cx="692.37" cy="1118.06" r="2.95" fill="none" stroke="#ff0a64" stroke-width="1.4"/>
<circle cx="685.35" cy="1143.12" r="2.95" fill="none" stroke="#ff0a64" stroke-width="1.4"/>
<circle cx="699.13" cy="1139.86" r="2.95" fill="none" stroke="#ff0a64" stroke-width="1.4"/>
<circle cx="721.69" cy="1180.21" r="2.95" fill="none" stroke="#000" stroke-width="1.4"/>
<circle cx="714.92" cy="1188.72" r="2.95" fill="none" stroke="#000" stroke-width="1.4"/>
<circle cx="728.45" cy="1190.73" r="2.95" fill="none" stroke="#000" stroke-width="1.4"/>
<circle cx="721.69" cy="1193.23" r="2.95" fill="none" stroke="#000" stroke-width="1.4"/>
<circle cx="721.69" cy="1217.79" r="2.95" fill="none" stroke="#000" stroke-width="1.4"/>
<circle cx="741.73" cy="1007.81" r="2.95" fill="none" stroke="#ff0a64" stroke-width="1.4"/>
<circle cx="741.73" cy="1082.98" r="2.95" fill="none" stroke="#ff0a64" stroke-width="1.4"/>
<circle cx="734.72" cy="1102.53" r="2.95" fill="none" stroke="#ff0a64" stroke-width="1.4"/>
<circle cx="748.5" cy="1106.79" r="2.95" fill="none" stroke="#ff0a64" stroke-width="1.4"/>
<circle cx="741.73" cy="1126.08" r="2.95" fill="none" stroke="#ff0a64" stroke-width="1.4"/>
<polyline points="672.32,1086.74 672.32,1012.07 691.62,1012.07 691.62,1022.1" fill="none" stroke="#000" stroke-width="1.9" stroke-linejoin="miter"/>
<text x="682.5" y="1015.78" font-size="32" text-anchor="middle" font-weight="bold" font-style="normal" fill="#000" letter-spacing="0.8">*</text>
<polyline points="721.69,1143.87 721.69,988.27 741.23,988.27 741.23,997.79" fill="none" stroke="#000" stroke-width="1.9" stroke-linejoin="miter"/>
<text x="731.61" y="992.23" font-size="32" text-anchor="middle" font-weight="bold" font-style="normal" fill="#000" letter-spacing="0.8">*</text>
<text x="635.24" y="1104.22" font-size="16.5" text-anchor="middle" font-weight="normal" font-style="normal" fill="#000">ns</text>
<text x="632.73" y="1301.92" font-size="26.3" text-anchor="middle" font-weight="normal" font-style="normal" fill="#000">1</text>
<text x="681.59" y="1301.92" font-size="26.3" text-anchor="middle" font-weight="normal" font-style="normal" fill="#000">2</text>
<text x="723.9" y="1301.92" font-size="26.3" text-anchor="start" font-weight="normal" font-style="normal" fill="#000">4WOD</text>
<text x="556.27" y="1104.88" font-size="26.4" text-anchor="middle" font-weight="normal" font-style="normal" fill="#000" transform="rotate(-90 556.27 1104.88)">mRNA fold change</text>
<text x="682.85" y="938.91" font-size="26" text-anchor="middle" font-weight="normal" font-style="normal" fill="#000" style="white-space:pre"><tspan font-style="italic">Tnf</tspan></text>
</g>
<g id="c_Tlr4">
<line x1="858.18" y1="957.2" x2="858.18" y2="1273.92" stroke="#000" stroke-width="2" stroke-linecap="butt"/>
<line x1="851.41" y1="1272.92" x2="1013.78" y2="1272.92" stroke="#000" stroke-width="2" stroke-linecap="butt"/>
<line x1="851.68" y1="958.2" x2="858.18" y2="958.2" stroke="#000" stroke-width="2" stroke-linecap="butt"/>
<text x="850.18" y="969.71" font-size="26.3" text-anchor="end" font-weight="normal" font-style="normal" fill="#000">3.0</text>
<line x1="851.68" y1="1063.44" x2="858.18" y2="1063.44" stroke="#000" stroke-width="2" stroke-linecap="butt"/>
<text x="850.18" y="1073.91" font-size="26.3" text-anchor="end" font-weight="normal" font-style="normal" fill="#000">2.0</text>
<line x1="851.68" y1="1168.18" x2="858.18" y2="1168.18" stroke="#000" stroke-width="2" stroke-linecap="butt"/>
<text x="850.18" y="1177.61" font-size="26.3" text-anchor="end" font-weight="normal" font-style="normal" fill="#000">1.0</text>
<line x1="851.68" y1="1272.92" x2="858.18" y2="1272.92" stroke="#000" stroke-width="2" stroke-linecap="butt"/>
<text x="850.18" y="1281.32" font-size="26.3" text-anchor="end" font-weight="normal" font-style="normal" fill="#000">0.0</text>
<line x1="886.49" y1="1272.92" x2="886.49" y2="1280.42" stroke="#000" stroke-width="2" stroke-linecap="butt"/>
<line x1="935.35" y1="1272.92" x2="935.35" y2="1280.42" stroke="#000" stroke-width="2" stroke-linecap="butt"/>
<line x1="984.97" y1="1272.92" x2="984.97" y2="1280.42" stroke="#000" stroke-width="2" stroke-linecap="butt"/>
<line x1="877.35" y1="1156.4" x2="877.35" y2="1166.92" stroke="#000" stroke-width="1.8" stroke-linecap="butt"/>
<line x1="872.05" y1="1156.4" x2="882.65" y2="1156.4" stroke="#000" stroke-width="1.8" stroke-linecap="butt"/>
<rect x="868.65" y="1166.92" width="17.39" height="105.99" fill="#808080" stroke="#000" stroke-width="1.9"/>
<line x1="896.77" y1="1115.06" x2="896.77" y2="1143.87" stroke="#ff0a64" stroke-width="1.8" stroke-linecap="butt"/>
<line x1="891.47" y1="1115.06" x2="902.07" y2="1115.06" stroke="#ff0a64" stroke-width="1.8" stroke-linecap="butt"/>
<rect x="887.94" y="1143.87" width="17.64" height="129.04" fill="#ff82b4" stroke="#ff0a64" stroke-width="1.9"/>
<line x1="926.46" y1="1154.9" x2="926.46" y2="1166.92" stroke="#000" stroke-width="1.8" stroke-linecap="butt"/>
<line x1="921.16" y1="1154.9" x2="931.76" y2="1154.9" stroke="#000" stroke-width="1.8" stroke-linecap="butt"/>
<rect x="918.01" y="1166.92" width="16.89" height="105.99" fill="#808080" stroke="#000" stroke-width="1.9"/>
<line x1="945.63" y1="1114.31" x2="945.63" y2="1130.09" stroke="#ff0a64" stroke-width="1.8" stroke-linecap="butt"/>
<line x1="940.33" y1="1114.31" x2="950.93" y2="1114.31" stroke="#ff0a64" stroke-width="1.8" stroke-linecap="butt"/>
<rect x="936.8" y="1130.09" width="17.64" height="142.82" fill="#ff82b4" stroke="#ff0a64" stroke-width="1.9"/>
<line x1="975.44" y1="1159.91" x2="975.44" y2="1167.68" stroke="#000" stroke-width="1.8" stroke-linecap="butt"/>
<line x1="970.14" y1="1159.91" x2="980.74" y2="1159.91" stroke="#000" stroke-width="1.8" stroke-linecap="butt"/>
<rect x="966.87" y="1167.68" width="17.14" height="105.24" fill="#808080" stroke="#000" stroke-width="1.9"/>
<line x1="994.61" y1="1112.55" x2="994.61" y2="1126.08" stroke="#ff0a64" stroke-width="1.8" stroke-linecap="butt"/>
<line x1="989.31" y1="1112.55" x2="999.91" y2="1112.55" stroke="#ff0a64" stroke-width="1.8" stroke-linecap="butt"/>
<rect x="985.92" y="1126.08" width="17.39" height="146.83" fill="#ff82b4" stroke="#ff0a64" stroke-width="1.9"/>
<line x1="851.41" y1="1272.92" x2="1013.78" y2="1272.92" stroke="#000" stroke-width="2" stroke-linecap="butt"/>
<circle cx="877.22" cy="1140.62" r="2.95" fill="none" stroke="#000" stroke-width="1.4"/>
<circle cx="877.22" cy="1149.38" r="2.95" fill="none" stroke="#000" stroke-width="1.4"/>
<circle cx="870.21" cy="1170.68" r="2.95" fill="none" stroke="#000" stroke-width="1.4"/>
<circle cx="883.99" cy="1174.94" r="2.95" fill="none" stroke="#000" stroke-width="1.4"/>
<circle cx="877.22" cy="1196.49" r="2.95" fill="none" stroke="#000" stroke-width="1.4"/>
<circle cx="897.02" cy="1035.88" r="2.95" fill="none" stroke="#ff0a64" stroke-width="1.4"/>
<circle cx="897.02" cy="1148.88" r="2.95" fill="none" stroke="#ff0a64" stroke-width="1.4"/>
<circle cx="897.02" cy="1161.16" r="2.95" fill="none" stroke="#ff0a64" stroke-width="1.4"/>
<circle cx="897.02" cy="1171.44" r="2.95" fill="none" stroke="#ff0a64" stroke-width="1.4"/>
<circle cx="897.02" cy="1199.5" r="2.95" fill="none" stroke="#ff0a64" stroke-width="1.4"/>
<circle cx="926.08" cy="1126.83" r="2.95" fill="none" stroke="#000" stroke-width="1.4"/>
<circle cx="932.85" cy="1161.41" r="2.95" fill="none" stroke="#000" stroke-width="1.4"/>
<circle cx="919.57" cy="1167.68" r="2.95" fill="none" stroke="#000" stroke-width="1.4"/>
<circle cx="926.08" cy="1183.96" r="2.95" fill="none" stroke="#000" stroke-width="1.4"/>
<circle cx="926.08" cy="1191.48" r="2.95" fill="none" stroke="#000" stroke-width="1.4"/>
<circle cx="945.88" cy="1079.73" r="2.95" fill="none" stroke="#ff0a64" stroke-width="1.4"/>
<circle cx="945.88" cy="1119.82" r="2.95" fill="none" stroke="#ff0a64" stroke-width="1.4"/>
<circle cx="945.88" cy="1126.83" r="2.95" fill="none" stroke="#ff0a64" stroke-width="1.4"/>
<circle cx="945.88" cy="1158.15" r="2.95" fill="none" stroke="#ff0a64" stroke-width="1.4"/>
<circle cx="945.88" cy="1164.42" r="2.95" fill="none" stroke="#ff0a64" stroke-width="1.4"/>
<circle cx="968.68" cy="1147.38" r="2.95" fill="none" stroke="#000" stroke-width="1.4"/>
<circle cx="982.21" cy="1153.14" r="2.95" fill="none" stroke="#000" stroke-width="1.4"/>
<circle cx="975.44" cy="1171.94" r="2.95" fill="none" stroke="#000" stroke-width="1.4"/>
<circle cx="968.68" cy="1183.21" r="2.95" fill="none" stroke="#000" stroke-width="1.4"/>
<circle cx="982.21" cy="1182.71" r="2.95" fill="none" stroke="#000" stroke-width="1.4"/>
<circle cx="988.47" cy="1103.03" r="2.95" fill="none" stroke="#ff0a64" stroke-width="1.4"/>
<circle cx="1001.75" cy="1103.78" r="2.95" fill="none" stroke="#ff0a64" stroke-width="1.4"/>
<circle cx="988.47" cy="1109.79" r="2.95" fill="none" stroke="#ff0a64" stroke-width="1.4"/>
<circle cx="1001.75" cy="1153.64" r="2.95" fill="none" stroke="#ff0a64" stroke-width="1.4"/>
<circle cx="988.47" cy="1158.15" r="2.95" fill="none" stroke="#ff0a64" stroke-width="1.4"/>
<polyline points="975.44,1126.83 975.44,1060.93 994.74,1060.93 994.74,1079.98" fill="none" stroke="#000" stroke-width="1.9" stroke-linejoin="miter"/>
<text x="985.87" y="1065.4" font-size="32" text-anchor="middle" font-weight="bold" font-style="normal" fill="#000" letter-spacing="0.8">*</text>
<text x="885.24" y="1009.01" font-size="16.5" text-anchor="middle" font-weight="normal" font-style="normal" fill="#000">ns</text>
<text x="934.85" y="1009.01" font-size="16.5" text-anchor="middle" font-weight="normal" font-style="normal" fill="#000">ns</text>
<text x="886.49" y="1301.42" font-size="26.3" text-anchor="middle" font-weight="normal" font-style="normal" fill="#000">1</text>
<text x="935.35" y="1301.42" font-size="26.3" text-anchor="middle" font-weight="normal" font-style="normal" fill="#000">2</text>
<text x="977.65" y="1301.42" font-size="26.3" text-anchor="start" font-weight="normal" font-style="normal" fill="#000">4WOD</text>
<text x="808.78" y="1104.36" font-size="26.4" text-anchor="middle" font-weight="normal" font-style="normal" fill="#000" transform="rotate(-90 808.78 1104.36)">mRNA fold change</text>
<text x="936.61" y="939.66" font-size="26" text-anchor="middle" font-weight="normal" font-style="normal" fill="#000" style="white-space:pre"><tspan font-style="italic">Tlr4</tspan></text>
</g>
<g id="c_Homx1">
<line x1="1119.3" y1="954.95" x2="1119.3" y2="1271.41" stroke="#000" stroke-width="2" stroke-linecap="butt"/>
<line x1="1112.28" y1="1270.41" x2="1275.15" y2="1270.41" stroke="#000" stroke-width="2" stroke-linecap="butt"/>
<line x1="1112.8" y1="955.95" x2="1119.3" y2="955.95" stroke="#000" stroke-width="2" stroke-linecap="butt"/>
<text x="1111.3" y="972.15" font-size="26.3" text-anchor="end" font-weight="normal" font-style="normal" fill="#000">3.0</text>
<line x1="1112.8" y1="1060.93" x2="1119.3" y2="1060.93" stroke="#000" stroke-width="2" stroke-linecap="butt"/>
<text x="1111.3" y="1073.3" font-size="26.3" text-anchor="end" font-weight="normal" font-style="normal" fill="#000">2.0</text>
<line x1="1112.8" y1="1165.67" x2="1119.3" y2="1165.67" stroke="#000" stroke-width="2" stroke-linecap="butt"/>
<text x="1111.3" y="1174.21" font-size="26.3" text-anchor="end" font-weight="normal" font-style="normal" fill="#000">1.0</text>
<line x1="1112.8" y1="1270.41" x2="1119.3" y2="1270.41" stroke="#000" stroke-width="2" stroke-linecap="butt"/>
<text x="1111.3" y="1275.12" font-size="26.3" text-anchor="end" font-weight="normal" font-style="normal" fill="#000">0.0</text>
<line x1="1148.12" y1="1270.41" x2="1148.12" y2="1277.91" stroke="#000" stroke-width="2" stroke-linecap="butt"/>
<line x1="1196.98" y1="1270.41" x2="1196.98" y2="1277.91" stroke="#000" stroke-width="2" stroke-linecap="butt"/>
<line x1="1246.34" y1="1270.41" x2="1246.34" y2="1277.91" stroke="#000" stroke-width="2" stroke-linecap="butt"/>
<line x1="1138.72" y1="1151.89" x2="1138.72" y2="1164.42" stroke="#000" stroke-width="1.8" stroke-linecap="butt"/>
<line x1="1133.42" y1="1151.89" x2="1144.02" y2="1151.89" stroke="#000" stroke-width="1.8" stroke-linecap="butt"/>
<rect x="1130.27" y="1164.42" width="16.89" height="105.99" fill="#808080" stroke="#000" stroke-width="1.9"/>
<line x1="1158.01" y1="1111.05" x2="1158.01" y2="1134.85" stroke="#ff0a64" stroke-width="1.8" stroke-linecap="butt"/>
<line x1="1152.71" y1="1111.05" x2="1163.31" y2="1111.05" stroke="#ff0a64" stroke-width="1.8" stroke-linecap="butt"/>
<rect x="1149.07" y="1134.85" width="17.89" height="135.56" fill="#ff82b4" stroke="#ff0a64" stroke-width="1.9"/>
<line x1="1187.83" y1="1153.9" x2="1187.83" y2="1165.17" stroke="#000" stroke-width="1.8" stroke-linecap="butt"/>
<line x1="1182.53" y1="1153.9" x2="1193.13" y2="1153.9" stroke="#000" stroke-width="1.8" stroke-linecap="butt"/>
<rect x="1179.13" y="1165.17" width="17.39" height="105.24" fill="#808080" stroke="#000" stroke-width="1.9"/>
<line x1="1207.13" y1="1058.68" x2="1207.13" y2="1076.72" stroke="#ff0a64" stroke-width="1.8" stroke-linecap="butt"/>
<line x1="1201.83" y1="1058.68" x2="1212.43" y2="1058.68" stroke="#ff0a64" stroke-width="1.8" stroke-linecap="butt"/>
<rect x="1198.43" y="1076.72" width="17.39" height="193.69" fill="#ff82b4" stroke="#ff0a64" stroke-width="1.9"/>
<line x1="1236.69" y1="1157.65" x2="1236.69" y2="1165.67" stroke="#000" stroke-width="1.8" stroke-linecap="butt"/>
<line x1="1231.39" y1="1157.65" x2="1241.99" y2="1157.65" stroke="#000" stroke-width="1.8" stroke-linecap="butt"/>
<rect x="1228" y="1165.67" width="17.39" height="104.74" fill="#808080" stroke="#000" stroke-width="1.9"/>
<line x1="1256.11" y1="1072.46" x2="1256.11" y2="1079.23" stroke="#ff0a64" stroke-width="1.8" stroke-linecap="butt"/>
<line x1="1250.81" y1="1072.46" x2="1261.41" y2="1072.46" stroke="#ff0a64" stroke-width="1.8" stroke-linecap="butt"/>
<rect x="1247.29" y="1079.23" width="17.64" height="191.18" fill="#ff82b4" stroke="#ff0a64" stroke-width="1.9"/>
<line x1="1112.28" y1="1270.41" x2="1275.15" y2="1270.41" stroke="#000" stroke-width="2" stroke-linecap="butt"/>
<circle cx="1138.59" cy="1121.32" r="2.95" fill="none" stroke="#000" stroke-width="1.4"/>
<circle cx="1138.59" cy="1158.15" r="2.95" fill="none" stroke="#000" stroke-width="1.4"/>
<circle cx="1138.59" cy="1169.43" r="2.95" fill="none" stroke="#000" stroke-width="1.4"/>
<circle cx="1145.36" cy="1181.96" r="2.95" fill="none" stroke="#000" stroke-width="1.4"/>
<circle cx="1131.83" cy="1187.72" r="2.95" fill="none" stroke="#000" stroke-width="1.4"/>
<circle cx="1158.14" cy="1045.4" r="2.95" fill="none" stroke="#ff0a64" stroke-width="1.4"/>
<circle cx="1164.9" cy="1136.36" r="2.95" fill="none" stroke="#ff0a64" stroke-width="1.4"/>
<circle cx="1151.62" cy="1141.87" r="2.95" fill="none" stroke="#ff0a64" stroke-width="1.4"/>
<circle cx="1158.14" cy="1165.67" r="2.95" fill="none" stroke="#ff0a64" stroke-width="1.4"/>
<circle cx="1158.14" cy="1181.46" r="2.95" fill="none" stroke="#ff0a64" stroke-width="1.4"/>
<circle cx="1187.46" cy="1129.34" r="2.95" fill="none" stroke="#000" stroke-width="1.4"/>
<circle cx="1187.46" cy="1158.15" r="2.95" fill="none" stroke="#000" stroke-width="1.4"/>
<circle cx="1180.69" cy="1170.68" r="2.95" fill="none" stroke="#000" stroke-width="1.4"/>
<circle cx="1194.22" cy="1171.94" r="2.95" fill="none" stroke="#000" stroke-width="1.4"/>
<circle cx="1187.46" cy="1191.48" r="2.95" fill="none" stroke="#000" stroke-width="1.4"/>
<circle cx="1207" cy="1009.82" r="2.95" fill="none" stroke="#ff0a64" stroke-width="1.4"/>
<circle cx="1199.98" cy="1083.49" r="2.95" fill="none" stroke="#ff0a64" stroke-width="1.4"/>
<circle cx="1214.27" cy="1082.23" r="2.95" fill="none" stroke="#ff0a64" stroke-width="1.4"/>
<circle cx="1207" cy="1091" r="2.95" fill="none" stroke="#ff0a64" stroke-width="1.4"/>
<circle cx="1207" cy="1113.55" r="2.95" fill="none" stroke="#ff0a64" stroke-width="1.4"/>
<circle cx="1236.82" cy="1138.11" r="2.95" fill="none" stroke="#000" stroke-width="1.4"/>
<circle cx="1243.33" cy="1164.92" r="2.95" fill="none" stroke="#000" stroke-width="1.4"/>
<circle cx="1230.05" cy="1168.18" r="2.95" fill="none" stroke="#000" stroke-width="1.4"/>
<circle cx="1243.33" cy="1173.19" r="2.95" fill="none" stroke="#000" stroke-width="1.4"/>
<circle cx="1236.82" cy="1182.46" r="2.95" fill="none" stroke="#000" stroke-width="1.4"/>
<circle cx="1249.6" cy="1065.44" r="2.95" fill="none" stroke="#ff0a64" stroke-width="1.4"/>
<circle cx="1263.13" cy="1066.2" r="2.95" fill="none" stroke="#ff0a64" stroke-width="1.4"/>
<circle cx="1256.36" cy="1077.97" r="2.95" fill="none" stroke="#ff0a64" stroke-width="1.4"/>
<circle cx="1256.36" cy="1085.99" r="2.95" fill="none" stroke="#ff0a64" stroke-width="1.4"/>
<circle cx="1256.36" cy="1098.02" r="2.95" fill="none" stroke="#ff0a64" stroke-width="1.4"/>
<polyline points="1185.45,1064.19 1185.45,987.27 1206.75,987.27 1206.75,997.29" fill="none" stroke="#000" stroke-width="1.9" stroke-linejoin="miter"/>
<text x="1196.12" y="991.48" font-size="32" text-anchor="middle" font-weight="bold" font-style="normal" fill="#000" letter-spacing="0.8">*</text>
<polyline points="1235.06,1116.31 1235.06,1039.89 1256.86,1039.89 1256.86,1049.91" fill="none" stroke="#000" stroke-width="1.9" stroke-linejoin="miter"/>
<text x="1246.74" y="1044.1" font-size="32" text-anchor="middle" font-weight="bold" font-style="normal" fill="#000" letter-spacing="0.8">**</text>
<text x="1149.37" y="1023.54" font-size="16.5" text-anchor="middle" font-weight="normal" font-style="normal" fill="#000">ns</text>
<text x="1148.12" y="1298.91" font-size="26.3" text-anchor="middle" font-weight="normal" font-style="normal" fill="#000">1</text>
<text x="1196.98" y="1298.91" font-size="26.3" text-anchor="middle" font-weight="normal" font-style="normal" fill="#000">2</text>
<text x="1239.03" y="1298.91" font-size="26.3" text-anchor="start" font-weight="normal" font-style="normal" fill="#000">4WOD</text>
<text x="1063.4" y="1098.68" font-size="26.4" text-anchor="middle" font-weight="normal" font-style="normal" fill="#000" transform="rotate(-90 1063.4 1098.68)">mRNA fold change</text>
<text x="1184.95" y="938.15" font-size="26" text-anchor="middle" font-weight="normal" font-style="normal" fill="#000" style="white-space:pre"><tspan font-style="italic">Homx1</tspan></text>
</g>
<g id="c_Ldha">
<line x1="99.48" y1="1394.22" x2="99.48" y2="1711.18" stroke="#000" stroke-width="2" stroke-linecap="butt"/>
<line x1="92.71" y1="1710.18" x2="255.08" y2="1710.18" stroke="#000" stroke-width="2" stroke-linecap="butt"/>
<line x1="92.98" y1="1395.22" x2="99.48" y2="1395.22" stroke="#000" stroke-width="2" stroke-linecap="butt"/>
<text x="91.48" y="1409.22" font-size="26.3" text-anchor="end" font-weight="normal" font-style="normal" fill="#000">1.5</text>
<line x1="92.98" y1="1500.46" x2="99.48" y2="1500.46" stroke="#000" stroke-width="2" stroke-linecap="butt"/>
<text x="91.48" y="1513.59" font-size="26.3" text-anchor="end" font-weight="normal" font-style="normal" fill="#000">1.0</text>
<line x1="92.98" y1="1605.19" x2="99.48" y2="1605.19" stroke="#000" stroke-width="2" stroke-linecap="butt"/>
<text x="91.48" y="1617.47" font-size="26.3" text-anchor="end" font-weight="normal" font-style="normal" fill="#000">0.5</text>
<line x1="92.98" y1="1710.18" x2="99.48" y2="1710.18" stroke="#000" stroke-width="2" stroke-linecap="butt"/>
<text x="91.48" y="1721.59" font-size="26.3" text-anchor="end" font-weight="normal" font-style="normal" fill="#000">0.0</text>
<line x1="127.79" y1="1710.18" x2="127.79" y2="1717.68" stroke="#000" stroke-width="2" stroke-linecap="butt"/>
<line x1="176.65" y1="1710.18" x2="176.65" y2="1717.68" stroke="#000" stroke-width="2" stroke-linecap="butt"/>
<line x1="225.51" y1="1710.18" x2="225.51" y2="1717.68" stroke="#000" stroke-width="2" stroke-linecap="butt"/>
<line x1="118.39" y1="1480.41" x2="118.39" y2="1498.7" stroke="#000" stroke-width="1.8" stroke-linecap="butt"/>
<line x1="113.09" y1="1480.41" x2="123.69" y2="1480.41" stroke="#000" stroke-width="1.8" stroke-linecap="butt"/>
<rect x="109.95" y="1498.7" width="16.89" height="211.48" fill="#808080" stroke="#000" stroke-width="1.9"/>
<line x1="137.56" y1="1535.54" x2="137.56" y2="1543.8" stroke="#ff0a64" stroke-width="1.8" stroke-linecap="butt"/>
<line x1="132.26" y1="1535.54" x2="142.86" y2="1535.54" stroke="#ff0a64" stroke-width="1.8" stroke-linecap="butt"/>
<rect x="128.74" y="1543.8" width="17.64" height="166.38" fill="#ff82b4" stroke="#ff0a64" stroke-width="1.9"/>
<line x1="167.76" y1="1466.63" x2="167.76" y2="1493.44" stroke="#000" stroke-width="1.8" stroke-linecap="butt"/>
<line x1="162.46" y1="1466.63" x2="173.06" y2="1466.63" stroke="#000" stroke-width="1.8" stroke-linecap="butt"/>
<rect x="159.31" y="1493.44" width="16.89" height="216.74" fill="#808080" stroke="#000" stroke-width="1.9"/>
<line x1="186.67" y1="1535.54" x2="186.67" y2="1547.31" stroke="#ff0a64" stroke-width="1.8" stroke-linecap="butt"/>
<line x1="181.37" y1="1535.54" x2="191.97" y2="1535.54" stroke="#ff0a64" stroke-width="1.8" stroke-linecap="butt"/>
<rect x="178.1" y="1547.31" width="17.14" height="162.87" fill="#ff82b4" stroke="#ff0a64" stroke-width="1.9"/>
<line x1="216.87" y1="1482.16" x2="216.87" y2="1498.7" stroke="#000" stroke-width="1.8" stroke-linecap="butt"/>
<line x1="211.57" y1="1482.16" x2="222.17" y2="1482.16" stroke="#000" stroke-width="1.8" stroke-linecap="butt"/>
<rect x="208.42" y="1498.7" width="16.89" height="211.48" fill="#808080" stroke="#000" stroke-width="1.9"/>
<line x1="235.91" y1="1607.7" x2="235.91" y2="1617.72" stroke="#ff0a64" stroke-width="1.8" stroke-linecap="butt"/>
<line x1="230.61" y1="1607.7" x2="241.21" y2="1607.7" stroke="#ff0a64" stroke-width="1.8" stroke-linecap="butt"/>
<rect x="227.21" y="1617.72" width="17.39" height="92.46" fill="#ff82b4" stroke="#ff0a64" stroke-width="1.9"/>
<line x1="92.71" y1="1710.18" x2="255.08" y2="1710.18" stroke="#000" stroke-width="2" stroke-linecap="butt"/>
<circle cx="118.52" cy="1450.84" r="2.95" fill="none" stroke="#000" stroke-width="1.4"/>
<circle cx="118.52" cy="1477.9" r="2.95" fill="none" stroke="#000" stroke-width="1.4"/>
<circle cx="118.52" cy="1488.43" r="2.95" fill="none" stroke="#000" stroke-width="1.4"/>
<circle cx="112" cy="1536.79" r="2.95" fill="none" stroke="#000" stroke-width="1.4"/>
<circle cx="124.78" cy="1535.54" r="2.95" fill="none" stroke="#000" stroke-width="1.4"/>
<circle cx="137.81" cy="1520.5" r="2.95" fill="none" stroke="#ff0a64" stroke-width="1.4"/>
<circle cx="131.05" cy="1542.55" r="2.95" fill="none" stroke="#ff0a64" stroke-width="1.4"/>
<circle cx="144.58" cy="1541.05" r="2.95" fill="none" stroke="#ff0a64" stroke-width="1.4"/>
<circle cx="144.58" cy="1548.06" r="2.95" fill="none" stroke="#ff0a64" stroke-width="1.4"/>
<circle cx="137.81" cy="1560.59" r="2.95" fill="none" stroke="#ff0a64" stroke-width="1.4"/>
<circle cx="167.38" cy="1436.06" r="2.95" fill="none" stroke="#000" stroke-width="1.4"/>
<circle cx="167.38" cy="1443.58" r="2.95" fill="none" stroke="#000" stroke-width="1.4"/>
<circle cx="167.38" cy="1488.43" r="2.95" fill="none" stroke="#000" stroke-width="1.4"/>
<circle cx="167.38" cy="1518" r="2.95" fill="none" stroke="#000" stroke-width="1.4"/>
<circle cx="167.38" cy="1580.64" r="2.95" fill="none" stroke="#000" stroke-width="1.4"/>
<circle cx="186.67" cy="1515.49" r="2.95" fill="none" stroke="#ff0a64" stroke-width="1.4"/>
<circle cx="186.67" cy="1524.26" r="2.95" fill="none" stroke="#ff0a64" stroke-width="1.4"/>
<circle cx="180.41" cy="1558.09" r="2.95" fill="none" stroke="#ff0a64" stroke-width="1.4"/>
<circle cx="193.44" cy="1558.84" r="2.95" fill="none" stroke="#ff0a64" stroke-width="1.4"/>
<circle cx="186.67" cy="1576.13" r="2.95" fill="none" stroke="#ff0a64" stroke-width="1.4"/>
<circle cx="216.74" cy="1437.31" r="2.95" fill="none" stroke="#000" stroke-width="1.4"/>
<circle cx="216.74" cy="1497.95" r="2.95" fill="none" stroke="#000" stroke-width="1.4"/>
<circle cx="216.74" cy="1508.72" r="2.95" fill="none" stroke="#000" stroke-width="1.4"/>
<circle cx="209.98" cy="1526.26" r="2.95" fill="none" stroke="#000" stroke-width="1.4"/>
<circle cx="223.01" cy="1521.75" r="2.95" fill="none" stroke="#000" stroke-width="1.4"/>
<circle cx="229.77" cy="1596.92" r="2.95" fill="none" stroke="#ff0a64" stroke-width="1.4"/>
<circle cx="243.05" cy="1597.43" r="2.95" fill="none" stroke="#ff0a64" stroke-width="1.4"/>
<circle cx="236.04" cy="1618.22" r="2.95" fill="none" stroke="#ff0a64" stroke-width="1.4"/>
<circle cx="243.05" cy="1634.51" r="2.95" fill="none" stroke="#ff0a64" stroke-width="1.4"/>
<circle cx="229.77" cy="1640.77" r="2.95" fill="none" stroke="#ff0a64" stroke-width="1.4"/>
<polyline points="118.27,1437.31 118.27,1414.51 137.31,1414.51 137.31,1472.89" fill="none" stroke="#000" stroke-width="1.9" stroke-linejoin="miter"/>
<text x="128.19" y="1418.47" font-size="32" text-anchor="middle" font-weight="bold" font-style="normal" fill="#000" letter-spacing="0.8">*</text>
<polyline points="215.49,1427.79 215.49,1414.51 236.04,1414.51 236.04,1558.09" fill="none" stroke="#000" stroke-width="1.9" stroke-linejoin="miter"/>
<text x="225.91" y="1418.97" font-size="32" text-anchor="middle" font-weight="bold" font-style="normal" fill="#000" letter-spacing="0.8">*</text>
<text x="179.91" y="1409.69" font-size="16.5" text-anchor="middle" font-weight="normal" font-style="normal" fill="#000">ns</text>
<text x="127.79" y="1738.68" font-size="26.3" text-anchor="middle" font-weight="normal" font-style="normal" fill="#000">1</text>
<text x="176.65" y="1738.68" font-size="26.3" text-anchor="middle" font-weight="normal" font-style="normal" fill="#000">2</text>
<text x="218.2" y="1738.68" font-size="26.3" text-anchor="start" font-weight="normal" font-style="normal" fill="#000">4WOD</text>
<text x="50.08" y="1546.8" font-size="26.4" text-anchor="middle" font-weight="normal" font-style="normal" fill="#000" transform="rotate(-90 50.08 1546.8)">mRNA fold change</text>
<text x="169.13" y="1377.18" font-size="26" text-anchor="middle" font-weight="normal" font-style="normal" fill="#000" style="white-space:pre"><tspan font-style="italic">Ldha</tspan></text>
</g>
<g id="c_Slc9a3">
<line x1="352.69" y1="1394.22" x2="352.69" y2="1711.18" stroke="#000" stroke-width="2" stroke-linecap="butt"/>
<line x1="345.67" y1="1710.18" x2="508.04" y2="1710.18" stroke="#000" stroke-width="2" stroke-linecap="butt"/>
<line x1="346.19" y1="1395.22" x2="352.69" y2="1395.22" stroke="#000" stroke-width="2" stroke-linecap="butt"/>
<text x="344.69" y="1407.22" font-size="26.3" text-anchor="end" font-weight="normal" font-style="normal" fill="#000">2.5</text>
<line x1="346.19" y1="1458.36" x2="352.69" y2="1458.36" stroke="#000" stroke-width="2" stroke-linecap="butt"/>
<text x="344.69" y="1470.26" font-size="26.3" text-anchor="end" font-weight="normal" font-style="normal" fill="#000">2.0</text>
<line x1="346.19" y1="1521.25" x2="352.69" y2="1521.25" stroke="#000" stroke-width="2" stroke-linecap="butt"/>
<text x="344.69" y="1533.06" font-size="26.3" text-anchor="end" font-weight="normal" font-style="normal" fill="#000">1.5</text>
<line x1="346.19" y1="1584.4" x2="352.69" y2="1584.4" stroke="#000" stroke-width="2" stroke-linecap="butt"/>
<text x="344.69" y="1596.1" font-size="26.3" text-anchor="end" font-weight="normal" font-style="normal" fill="#000">1.0</text>
<line x1="346.19" y1="1647.04" x2="352.69" y2="1647.04" stroke="#000" stroke-width="2" stroke-linecap="butt"/>
<text x="344.69" y="1658.64" font-size="26.3" text-anchor="end" font-weight="normal" font-style="normal" fill="#000">0.5</text>
<line x1="346.19" y1="1710.18" x2="352.69" y2="1710.18" stroke="#000" stroke-width="2" stroke-linecap="butt"/>
<text x="344.69" y="1721.69" font-size="26.3" text-anchor="end" font-weight="normal" font-style="normal" fill="#000">0.0</text>
<line x1="380.75" y1="1710.18" x2="380.75" y2="1717.68" stroke="#000" stroke-width="2" stroke-linecap="butt"/>
<line x1="429.86" y1="1710.18" x2="429.86" y2="1717.68" stroke="#000" stroke-width="2" stroke-linecap="butt"/>
<line x1="478.72" y1="1710.18" x2="478.72" y2="1717.68" stroke="#000" stroke-width="2" stroke-linecap="butt"/>
<line x1="371.48" y1="1568.11" x2="371.48" y2="1582.39" stroke="#000" stroke-width="1.8" stroke-linecap="butt"/>
<line x1="366.18" y1="1568.11" x2="376.78" y2="1568.11" stroke="#000" stroke-width="1.8" stroke-linecap="butt"/>
<rect x="362.91" y="1582.39" width="17.14" height="127.79" fill="#808080" stroke="#000" stroke-width="1.9"/>
<line x1="390.65" y1="1504.21" x2="390.65" y2="1521.25" stroke="#ff0a64" stroke-width="1.8" stroke-linecap="butt"/>
<line x1="385.35" y1="1504.21" x2="395.95" y2="1504.21" stroke="#ff0a64" stroke-width="1.8" stroke-linecap="butt"/>
<rect x="381.95" y="1521.25" width="17.39" height="188.93" fill="#ff82b4" stroke="#ff0a64" stroke-width="1.9"/>
<line x1="420.47" y1="1567.61" x2="420.47" y2="1582.39" stroke="#000" stroke-width="1.8" stroke-linecap="butt"/>
<line x1="415.17" y1="1567.61" x2="425.77" y2="1567.61" stroke="#000" stroke-width="1.8" stroke-linecap="butt"/>
<rect x="412.02" y="1582.39" width="16.89" height="127.79" fill="#808080" stroke="#000" stroke-width="1.9"/>
<line x1="439.51" y1="1591.41" x2="439.51" y2="1603.19" stroke="#ff0a64" stroke-width="1.8" stroke-linecap="butt"/>
<line x1="434.21" y1="1591.41" x2="444.81" y2="1591.41" stroke="#ff0a64" stroke-width="1.8" stroke-linecap="butt"/>
<rect x="430.81" y="1603.19" width="17.39" height="106.99" fill="#ff82b4" stroke="#ff0a64" stroke-width="1.9"/>
<line x1="469.33" y1="1546.06" x2="469.33" y2="1574.37" stroke="#000" stroke-width="1.8" stroke-linecap="butt"/>
<line x1="464.03" y1="1546.06" x2="474.63" y2="1546.06" stroke="#000" stroke-width="1.8" stroke-linecap="butt"/>
<rect x="460.88" y="1574.37" width="16.89" height="135.81" fill="#808080" stroke="#000" stroke-width="1.9"/>
<line x1="488.37" y1="1635.26" x2="488.37" y2="1645.79" stroke="#ff0a64" stroke-width="1.8" stroke-linecap="butt"/>
<line x1="483.07" y1="1635.26" x2="493.67" y2="1635.26" stroke="#ff0a64" stroke-width="1.8" stroke-linecap="butt"/>
<rect x="479.67" y="1645.79" width="17.39" height="64.4" fill="#ff82b4" stroke="#ff0a64" stroke-width="1.9"/>
<line x1="345.67" y1="1710.18" x2="508.04" y2="1710.18" stroke="#000" stroke-width="2" stroke-linecap="butt"/>
<circle cx="371.23" cy="1546.06" r="2.95" fill="none" stroke="#000" stroke-width="1.4"/>
<circle cx="371.23" cy="1556.83" r="2.95" fill="none" stroke="#000" stroke-width="1.4"/>
<circle cx="364.46" cy="1591.41" r="2.95" fill="none" stroke="#000" stroke-width="1.4"/>
<circle cx="377.74" cy="1592.67" r="2.95" fill="none" stroke="#000" stroke-width="1.4"/>
<circle cx="371.23" cy="1620.23" r="2.95" fill="none" stroke="#000" stroke-width="1.4"/>
<circle cx="391.03" cy="1464.12" r="2.95" fill="none" stroke="#ff0a64" stroke-width="1.4"/>
<circle cx="391.03" cy="1507.97" r="2.95" fill="none" stroke="#ff0a64" stroke-width="1.4"/>
<circle cx="391.03" cy="1529.27" r="2.95" fill="none" stroke="#ff0a64" stroke-width="1.4"/>
<circle cx="384.51" cy="1553.83" r="2.95" fill="none" stroke="#ff0a64" stroke-width="1.4"/>
<circle cx="397.79" cy="1548.82" r="2.95" fill="none" stroke="#ff0a64" stroke-width="1.4"/>
<circle cx="413.58" cy="1554.83" r="2.95" fill="none" stroke="#000" stroke-width="1.4"/>
<circle cx="427.11" cy="1557.59" r="2.95" fill="none" stroke="#000" stroke-width="1.4"/>
<circle cx="420.34" cy="1569.36" r="2.95" fill="none" stroke="#000" stroke-width="1.4"/>
<circle cx="420.34" cy="1604.44" r="2.95" fill="none" stroke="#000" stroke-width="1.4"/>
<circle cx="420.34" cy="1621.48" r="2.95" fill="none" stroke="#000" stroke-width="1.4"/>
<circle cx="436.63" cy="1573.62" r="2.95" fill="none" stroke="#ff0a64" stroke-width="1.4"/>
<circle cx="443.39" cy="1578.13" r="2.95" fill="none" stroke="#ff0a64" stroke-width="1.4"/>
<circle cx="433.37" cy="1623.23" r="2.95" fill="none" stroke="#ff0a64" stroke-width="1.4"/>
<circle cx="439.89" cy="1618.22" r="2.95" fill="none" stroke="#ff0a64" stroke-width="1.4"/>
<circle cx="446.65" cy="1619.48" r="2.95" fill="none" stroke="#ff0a64" stroke-width="1.4"/>
<circle cx="462.94" cy="1506.22" r="2.95" fill="none" stroke="#000" stroke-width="1.4"/>
<circle cx="476.22" cy="1509.98" r="2.95" fill="none" stroke="#000" stroke-width="1.4"/>
<circle cx="469.7" cy="1599.43" r="2.95" fill="none" stroke="#000" stroke-width="1.4"/>
<circle cx="469.7" cy="1618.72" r="2.95" fill="none" stroke="#000" stroke-width="1.4"/>
<circle cx="469.7" cy="1634.01" r="2.95" fill="none" stroke="#000" stroke-width="1.4"/>
<circle cx="489.25" cy="1618.97" r="2.95" fill="none" stroke="#ff0a64" stroke-width="1.4"/>
<circle cx="489.25" cy="1629" r="2.95" fill="none" stroke="#ff0a64" stroke-width="1.4"/>
<circle cx="489.25" cy="1647.04" r="2.95" fill="none" stroke="#ff0a64" stroke-width="1.4"/>
<circle cx="496.26" cy="1663.33" r="2.95" fill="none" stroke="#ff0a64" stroke-width="1.4"/>
<circle cx="482.48" cy="1667.84" r="2.95" fill="none" stroke="#ff0a64" stroke-width="1.4"/>
<polyline points="370.73,1528.52 370.73,1427.79 389.77,1427.79 389.77,1446.58" fill="none" stroke="#000" stroke-width="1.9" stroke-linejoin="miter"/>
<text x="380.65" y="1432" font-size="32" text-anchor="middle" font-weight="bold" font-style="normal" fill="#000" letter-spacing="0.8">*</text>
<polyline points="472.46,1476.65 472.46,1463.37 491,1463.37 491,1578.63" fill="none" stroke="#000" stroke-width="1.9" stroke-linejoin="miter"/>
<text x="482.63" y="1467.83" font-size="32" text-anchor="middle" font-weight="bold" font-style="normal" fill="#000" letter-spacing="0.8">*</text>
<text x="433.37" y="1511.92" font-size="16.5" text-anchor="middle" font-weight="normal" font-style="normal" fill="#000">ns</text>
<text x="380.75" y="1738.68" font-size="26.3" text-anchor="middle" font-weight="normal" font-style="normal" fill="#000">1</text>
<text x="429.86" y="1738.68" font-size="26.3" text-anchor="middle" font-weight="normal" font-style="normal" fill="#000">2</text>
<text x="471.41" y="1738.68" font-size="26.3" text-anchor="start" font-weight="normal" font-style="normal" fill="#000">4WOD</text>
<text x="302.59" y="1547.2" font-size="26.4" text-anchor="middle" font-weight="normal" font-style="normal" fill="#000" transform="rotate(-90 302.59 1547.2)">mRNA fold change</text>
<text x="434.12" y="1377.18" font-size="26" text-anchor="middle" font-weight="normal" font-style="normal" fill="#000" style="white-space:pre"><tspan font-style="italic">Slc9a3</tspan></text>
</g>
<g id="c_Crp">
<line x1="605.92" y1="1394.72" x2="605.92" y2="1711.18" stroke="#000" stroke-width="2" stroke-linecap="butt"/>
<line x1="598.91" y1="1710.18" x2="761.28" y2="1710.18" stroke="#000" stroke-width="2" stroke-linecap="butt"/>
<line x1="599.42" y1="1395.72" x2="605.92" y2="1395.72" stroke="#000" stroke-width="2" stroke-linecap="butt"/>
<text x="597.92" y="1408.22" font-size="26.3" text-anchor="end" font-weight="normal" font-style="normal" fill="#000">2.0</text>
<line x1="599.42" y1="1474.65" x2="605.92" y2="1474.65" stroke="#000" stroke-width="2" stroke-linecap="butt"/>
<text x="597.92" y="1487.15" font-size="26.3" text-anchor="end" font-weight="normal" font-style="normal" fill="#000">1.5</text>
<line x1="599.42" y1="1553.08" x2="605.92" y2="1553.08" stroke="#000" stroke-width="2" stroke-linecap="butt"/>
<text x="597.92" y="1565.58" font-size="26.3" text-anchor="end" font-weight="normal" font-style="normal" fill="#000">1.0</text>
<line x1="599.42" y1="1632" x2="605.92" y2="1632" stroke="#000" stroke-width="2" stroke-linecap="butt"/>
<text x="597.92" y="1644.51" font-size="26.3" text-anchor="end" font-weight="normal" font-style="normal" fill="#000">0.5</text>
<line x1="599.42" y1="1710.18" x2="605.92" y2="1710.18" stroke="#000" stroke-width="2" stroke-linecap="butt"/>
<text x="597.92" y="1722.69" font-size="26.3" text-anchor="end" font-weight="normal" font-style="normal" fill="#000">0.0</text>
<line x1="633.99" y1="1710.18" x2="633.99" y2="1717.68" stroke="#000" stroke-width="2" stroke-linecap="butt"/>
<line x1="682.85" y1="1710.18" x2="682.85" y2="1717.68" stroke="#000" stroke-width="2" stroke-linecap="butt"/>
<line x1="732.21" y1="1710.18" x2="732.21" y2="1717.68" stroke="#000" stroke-width="2" stroke-linecap="butt"/>
<line x1="624.84" y1="1475.4" x2="624.84" y2="1522.51" stroke="#000" stroke-width="1.8" stroke-linecap="butt"/>
<line x1="619.54" y1="1475.4" x2="630.14" y2="1475.4" stroke="#000" stroke-width="1.8" stroke-linecap="butt"/>
<rect x="616.64" y="1522.51" width="16.39" height="187.68" fill="#808080" stroke="#000" stroke-width="1.9"/>
<line x1="643.76" y1="1552.57" x2="643.76" y2="1576.88" stroke="#ff0a64" stroke-width="1.8" stroke-linecap="butt"/>
<line x1="638.46" y1="1552.57" x2="649.06" y2="1552.57" stroke="#ff0a64" stroke-width="1.8" stroke-linecap="butt"/>
<rect x="634.94" y="1576.88" width="17.64" height="133.3" fill="#ff82b4" stroke="#ff0a64" stroke-width="1.9"/>
<line x1="673.7" y1="1518.75" x2="673.7" y2="1545.56" stroke="#000" stroke-width="1.8" stroke-linecap="butt"/>
<line x1="668.4" y1="1518.75" x2="679" y2="1518.75" stroke="#000" stroke-width="1.8" stroke-linecap="butt"/>
<rect x="665.51" y="1545.56" width="16.39" height="164.62" fill="#808080" stroke="#000" stroke-width="1.9"/>
<line x1="692.62" y1="1534.78" x2="692.62" y2="1555.58" stroke="#ff0a64" stroke-width="1.8" stroke-linecap="butt"/>
<line x1="687.32" y1="1534.78" x2="697.92" y2="1534.78" stroke="#ff0a64" stroke-width="1.8" stroke-linecap="butt"/>
<rect x="683.8" y="1555.58" width="17.64" height="154.6" fill="#ff82b4" stroke="#ff0a64" stroke-width="1.9"/>
<line x1="722.94" y1="1531.28" x2="722.94" y2="1550.07" stroke="#000" stroke-width="1.8" stroke-linecap="butt"/>
<line x1="717.64" y1="1531.28" x2="728.24" y2="1531.28" stroke="#000" stroke-width="1.8" stroke-linecap="butt"/>
<rect x="714.62" y="1550.07" width="16.64" height="160.11" fill="#808080" stroke="#000" stroke-width="1.9"/>
<line x1="741.98" y1="1595.67" x2="741.98" y2="1611.96" stroke="#ff0a64" stroke-width="1.8" stroke-linecap="butt"/>
<line x1="736.68" y1="1595.67" x2="747.28" y2="1595.67" stroke="#ff0a64" stroke-width="1.8" stroke-linecap="butt"/>
<rect x="733.16" y="1611.96" width="17.64" height="98.22" fill="#ff82b4" stroke="#ff0a64" stroke-width="1.9"/>
<line x1="598.91" y1="1710.18" x2="761.28" y2="1710.18" stroke="#000" stroke-width="2" stroke-linecap="butt"/>
<circle cx="624.46" cy="1430.8" r="2.95" fill="none" stroke="#000" stroke-width="1.4"/>
<circle cx="624.46" cy="1450.34" r="2.95" fill="none" stroke="#000" stroke-width="1.4"/>
<circle cx="624.46" cy="1458.36" r="2.95" fill="none" stroke="#000" stroke-width="1.4"/>
<circle cx="624.46" cy="1613.71" r="2.95" fill="none" stroke="#000" stroke-width="1.4"/>
<circle cx="624.46" cy="1656.56" r="2.95" fill="none" stroke="#000" stroke-width="1.4"/>
<circle cx="644.26" cy="1523.76" r="2.95" fill="none" stroke="#ff0a64" stroke-width="1.4"/>
<circle cx="644.26" cy="1541.05" r="2.95" fill="none" stroke="#ff0a64" stroke-width="1.4"/>
<circle cx="644.26" cy="1550.57" r="2.95" fill="none" stroke="#ff0a64" stroke-width="1.4"/>
<circle cx="644.26" cy="1628.75" r="2.95" fill="none" stroke="#ff0a64" stroke-width="1.4"/>
<circle cx="644.26" cy="1637.02" r="2.95" fill="none" stroke="#ff0a64" stroke-width="1.4"/>
<circle cx="673.58" cy="1460.36" r="2.95" fill="none" stroke="#000" stroke-width="1.4"/>
<circle cx="673.58" cy="1525.01" r="2.95" fill="none" stroke="#000" stroke-width="1.4"/>
<circle cx="673.58" cy="1547.31" r="2.95" fill="none" stroke="#000" stroke-width="1.4"/>
<circle cx="673.58" cy="1573.12" r="2.95" fill="none" stroke="#000" stroke-width="1.4"/>
<circle cx="673.58" cy="1618.72" r="2.95" fill="none" stroke="#000" stroke-width="1.4"/>
<circle cx="693.37" cy="1494.19" r="2.95" fill="none" stroke="#ff0a64" stroke-width="1.4"/>
<circle cx="693.37" cy="1540.55" r="2.95" fill="none" stroke="#ff0a64" stroke-width="1.4"/>
<circle cx="693.37" cy="1556.08" r="2.95" fill="none" stroke="#ff0a64" stroke-width="1.4"/>
<circle cx="693.37" cy="1567.61" r="2.95" fill="none" stroke="#ff0a64" stroke-width="1.4"/>
<circle cx="693.37" cy="1615.72" r="2.95" fill="none" stroke="#ff0a64" stroke-width="1.4"/>
<circle cx="722.44" cy="1488.43" r="2.95" fill="none" stroke="#000" stroke-width="1.4"/>
<circle cx="722.44" cy="1528.52" r="2.95" fill="none" stroke="#000" stroke-width="1.4"/>
<circle cx="722.44" cy="1566.86" r="2.95" fill="none" stroke="#000" stroke-width="1.4"/>
<circle cx="715.92" cy="1584.4" r="2.95" fill="none" stroke="#000" stroke-width="1.4"/>
<circle cx="729.2" cy="1580.64" r="2.95" fill="none" stroke="#000" stroke-width="1.4"/>
<circle cx="742.48" cy="1571.12" r="2.95" fill="none" stroke="#ff0a64" stroke-width="1.4"/>
<circle cx="742.48" cy="1589.41" r="2.95" fill="none" stroke="#ff0a64" stroke-width="1.4"/>
<circle cx="742.48" cy="1600.18" r="2.95" fill="none" stroke="#ff0a64" stroke-width="1.4"/>
<circle cx="742.48" cy="1640.77" r="2.95" fill="none" stroke="#ff0a64" stroke-width="1.4"/>
<circle cx="742.48" cy="1654.56" r="2.95" fill="none" stroke="#ff0a64" stroke-width="1.4"/>
<polyline points="722.44,1473.64 722.44,1451.59 742.48,1451.59 742.48,1543.55" fill="none" stroke="#000" stroke-width="1.9" stroke-linejoin="miter"/>
<text x="732.86" y="1455.81" font-size="32" text-anchor="middle" font-weight="bold" font-style="normal" fill="#000" letter-spacing="0.8">*</text>
<text x="632.73" y="1407.94" font-size="16.5" text-anchor="middle" font-weight="normal" font-style="normal" fill="#000">ns</text>
<text x="683.35" y="1407.94" font-size="16.5" text-anchor="middle" font-weight="normal" font-style="normal" fill="#000">ns</text>
<text x="633.99" y="1738.68" font-size="26.3" text-anchor="middle" font-weight="normal" font-style="normal" fill="#000">1</text>
<text x="682.85" y="1738.68" font-size="26.3" text-anchor="middle" font-weight="normal" font-style="normal" fill="#000">2</text>
<text x="724.9" y="1738.68" font-size="26.3" text-anchor="start" font-weight="normal" font-style="normal" fill="#000">4WOD</text>
<text x="556.32" y="1541.75" font-size="26.4" text-anchor="middle" font-weight="normal" font-style="normal" fill="#000" transform="rotate(-90 556.32 1541.75)">mRNA fold change</text>
<text x="684.1" y="1377.68" font-size="26" text-anchor="middle" font-weight="normal" font-style="normal" fill="#000" style="white-space:pre"><tspan font-style="italic">Crp</tspan></text>
</g>
<g id="s_F">
<line x1="746.56" y1="1770.57" x2="746.56" y2="2038.93" stroke="#000" stroke-width="1.5" stroke-linecap="butt"/>
<line x1="740.3" y1="2038.18" x2="852.55" y2="2038.18" stroke="#000" stroke-width="1.5" stroke-linecap="butt"/>
<line x1="740.56" y1="1771.32" x2="746.56" y2="1771.32" stroke="#000" stroke-width="1.5" stroke-linecap="butt"/>
<text x="739.06" y="1785.53" font-size="26.3" text-anchor="end" font-weight="normal" font-style="normal" fill="#000">2.0</text>
<line x1="740.56" y1="1837.72" x2="746.56" y2="1837.72" stroke="#000" stroke-width="1.5" stroke-linecap="butt"/>
<text x="739.06" y="1849.36" font-size="26.3" text-anchor="end" font-weight="normal" font-style="normal" fill="#000">1.5</text>
<line x1="740.56" y1="1904.62" x2="746.56" y2="1904.62" stroke="#000" stroke-width="1.5" stroke-linecap="butt"/>
<text x="739.06" y="1913.68" font-size="26.3" text-anchor="end" font-weight="normal" font-style="normal" fill="#000">1.0</text>
<line x1="740.56" y1="1971.03" x2="746.56" y2="1971.03" stroke="#000" stroke-width="1.5" stroke-linecap="butt"/>
<text x="739.06" y="1977.52" font-size="26.3" text-anchor="end" font-weight="normal" font-style="normal" fill="#000">0.5</text>
<line x1="740.56" y1="2038.18" x2="746.56" y2="2038.18" stroke="#000" stroke-width="1.5" stroke-linecap="butt"/>
<text x="739.06" y="2042.08" font-size="26.3" text-anchor="end" font-weight="normal" font-style="normal" fill="#000">0.0</text>
<line x1="777.13" y1="2038.18" x2="777.13" y2="2045.18" stroke="#000" stroke-width="1.5" stroke-linecap="butt"/>
<line x1="822.48" y1="2038.18" x2="822.48" y2="2045.18" stroke="#000" stroke-width="1.5" stroke-linecap="butt"/>
<line x1="777" y1="1904.12" x2="777" y2="1907.38" stroke="#000" stroke-width="1.5" stroke-linecap="butt"/>
<line x1="771.8" y1="1904.12" x2="782.2" y2="1904.12" stroke="#000" stroke-width="1.5" stroke-linecap="butt"/>
<line x1="777" y1="1907.38" x2="777" y2="1910.39" stroke="#000" stroke-width="1.5" stroke-linecap="butt"/>
<line x1="771.8" y1="1910.39" x2="782.2" y2="1910.39" stroke="#000" stroke-width="1.5" stroke-linecap="butt"/>
<rect x="763.1" y="1907.38" width="27.82" height="130.8" fill="#808080" stroke="#000" stroke-width="1.5"/>
<line x1="822.36" y1="1878.31" x2="822.36" y2="1884.83" stroke="#ff0a64" stroke-width="1.5" stroke-linecap="butt"/>
<line x1="817.16" y1="1878.31" x2="827.56" y2="1878.31" stroke="#ff0a64" stroke-width="1.5" stroke-linecap="butt"/>
<rect x="808.2" y="1884.83" width="28.32" height="153.35" fill="#ff82b4" stroke="#ff0a64" stroke-width="1.5"/>
<line x1="740.3" y1="2038.18" x2="852.55" y2="2038.18" stroke="#000" stroke-width="1.5" stroke-linecap="butt"/>
<circle cx="764.1" cy="1905.38" r="2.95" fill="none" stroke="#000" stroke-width="1.4"/>
<circle cx="777.13" cy="1899.11" r="2.95" fill="none" stroke="#000" stroke-width="1.4"/>
<circle cx="789.91" cy="1906.13" r="2.95" fill="none" stroke="#000" stroke-width="1.4"/>
<circle cx="777.13" cy="1906.63" r="2.95" fill="none" stroke="#000" stroke-width="1.4"/>
<circle cx="777.13" cy="1912.89" r="2.95" fill="none" stroke="#000" stroke-width="1.4"/>
<circle cx="822.48" cy="1862.78" r="2.95" fill="none" stroke="#ff0a64" stroke-width="1.4"/>
<circle cx="822.48" cy="1879.57" r="2.95" fill="none" stroke="#ff0a64" stroke-width="1.4"/>
<circle cx="816.72" cy="1889.09" r="2.95" fill="none" stroke="#ff0a64" stroke-width="1.4"/>
<circle cx="828" cy="1892.35" r="2.95" fill="none" stroke="#ff0a64" stroke-width="1.4"/>
<circle cx="822.48" cy="1899.11" r="2.95" fill="none" stroke="#ff0a64" stroke-width="1.4"/>
<polyline points="777.13,1893.35 777.13,1850.25 822.48,1850.25 822.48,1855.76" fill="none" stroke="#000" stroke-width="1.2" stroke-linejoin="miter"/>
<text x="800.08" y="1851.15" font-size="24" text-anchor="middle" font-weight="bold" font-style="normal" fill="#000" letter-spacing="0.6">*</text>
<text x="789.63" y="2062.18" font-size="26" text-anchor="end" font-weight="normal" font-style="italic" fill="#000" transform="rotate(-45 789.63 2062.18)">Ctrl</text>
<text x="834.98" y="2062.18" font-size="26" text-anchor="end" font-weight="normal" font-style="italic" fill="#000" transform="rotate(-45 834.98 2062.18)">rNLS</text>
<text x="692.11" y="1899.51" font-size="26" text-anchor="middle" font-weight="normal" font-style="normal" fill="#000" transform="rotate(-90 692.11 1899.51)">eIF2a fold change (a.u.)</text>
</g>
<g id="s_G">
<line x1="994.08" y1="1772.58" x2="994.08" y2="2040.68" stroke="#000" stroke-width="1.5" stroke-linecap="butt"/>
<line x1="988.31" y1="2039.93" x2="1099.82" y2="2039.93" stroke="#000" stroke-width="1.5" stroke-linecap="butt"/>
<line x1="988.08" y1="1773.33" x2="994.08" y2="1773.33" stroke="#000" stroke-width="1.5" stroke-linecap="butt"/>
<text x="986.58" y="1789.73" font-size="26.3" text-anchor="end" font-weight="normal" font-style="normal" fill="#000">2.0</text>
<line x1="988.08" y1="1840.23" x2="994.08" y2="1840.23" stroke="#000" stroke-width="1.5" stroke-linecap="butt"/>
<text x="986.58" y="1853.9" font-size="26.3" text-anchor="end" font-weight="normal" font-style="normal" fill="#000">1.5</text>
<line x1="988.08" y1="1907.13" x2="994.08" y2="1907.13" stroke="#000" stroke-width="1.5" stroke-linecap="butt"/>
<text x="986.58" y="1918.06" font-size="26.3" text-anchor="end" font-weight="normal" font-style="normal" fill="#000">1.0</text>
<line x1="988.08" y1="1973.53" x2="994.08" y2="1973.53" stroke="#000" stroke-width="1.5" stroke-linecap="butt"/>
<text x="986.58" y="1981.75" font-size="26.3" text-anchor="end" font-weight="normal" font-style="normal" fill="#000">0.5</text>
<line x1="988.08" y1="2039.93" x2="994.08" y2="2039.93" stroke="#000" stroke-width="1.5" stroke-linecap="butt"/>
<text x="986.58" y="2045.44" font-size="26.3" text-anchor="end" font-weight="normal" font-style="normal" fill="#000">0.0</text>
<line x1="1024.15" y1="2039.93" x2="1024.15" y2="2046.93" stroke="#000" stroke-width="1.5" stroke-linecap="butt"/>
<line x1="1069.75" y1="2039.93" x2="1069.75" y2="2046.93" stroke="#000" stroke-width="1.5" stroke-linecap="butt"/>
<line x1="1024.15" y1="1901.12" x2="1024.15" y2="1910.39" stroke="#000" stroke-width="1.5" stroke-linecap="butt"/>
<line x1="1018.95" y1="1901.12" x2="1029.35" y2="1901.12" stroke="#000" stroke-width="1.5" stroke-linecap="butt"/>
<rect x="1010.36" y="1910.39" width="27.57" height="129.54" fill="#808080" stroke="#000" stroke-width="1.5"/>
<line x1="1069.62" y1="1849" x2="1069.62" y2="1858.27" stroke="#ff0a64" stroke-width="1.5" stroke-linecap="butt"/>
<line x1="1064.42" y1="1849" x2="1074.82" y2="1849" stroke="#ff0a64" stroke-width="1.5" stroke-linecap="butt"/>
<rect x="1055.72" y="1858.27" width="27.82" height="181.66" fill="#ff82b4" stroke="#ff0a64" stroke-width="1.5"/>
<line x1="988.31" y1="2039.93" x2="1099.82" y2="2039.93" stroke="#000" stroke-width="1.5" stroke-linecap="butt"/>
<circle cx="1024.15" cy="1884.58" r="2.95" fill="none" stroke="#000" stroke-width="1.4"/>
<circle cx="1024.15" cy="1901.62" r="2.95" fill="none" stroke="#000" stroke-width="1.4"/>
<circle cx="1018.63" cy="1911.64" r="2.95" fill="none" stroke="#000" stroke-width="1.4"/>
<circle cx="1029.66" cy="1914.65" r="2.95" fill="none" stroke="#000" stroke-width="1.4"/>
<circle cx="1024.15" cy="1935.44" r="2.95" fill="none" stroke="#000" stroke-width="1.4"/>
<circle cx="1069.75" cy="1835.97" r="2.95" fill="none" stroke="#ff0a64" stroke-width="1.4"/>
<circle cx="1069.75" cy="1848.25" r="2.95" fill="none" stroke="#ff0a64" stroke-width="1.4"/>
<circle cx="1064.24" cy="1857.02" r="2.95" fill="none" stroke="#ff0a64" stroke-width="1.4"/>
<circle cx="1075.51" cy="1859.52" r="2.95" fill="none" stroke="#ff0a64" stroke-width="1.4"/>
<circle cx="1069.75" cy="1888.34" r="2.95" fill="none" stroke="#ff0a64" stroke-width="1.4"/>
<polyline points="1024.15,1876.56 1024.15,1823.44 1069.75,1823.44 1069.75,1829.45" fill="none" stroke="#000" stroke-width="1.2" stroke-linejoin="miter"/>
<text x="1047.1" y="1824.85" font-size="24" text-anchor="middle" font-weight="bold" font-style="normal" fill="#000" letter-spacing="0.6">**</text>
<text x="1036.65" y="2063.93" font-size="26" text-anchor="end" font-weight="normal" font-style="italic" fill="#000" transform="rotate(-45 1036.65 2063.93)">Ctrl</text>
<text x="1082.25" y="2063.93" font-size="26" text-anchor="end" font-weight="normal" font-style="italic" fill="#000" transform="rotate(-45 1082.25 2063.93)">rNLS</text>
<text x="912.64" y="2013.62" font-size="26" text-anchor="start" font-weight="normal" font-style="normal" fill="#000" transform="rotate(-90 912.64 2013.62)">p-eIF2a/eIF2a</text>
<text x="939.7" y="2014.37" font-size="26" text-anchor="start" font-weight="normal" font-style="normal" fill="#000" transform="rotate(-90 939.7 2014.37)">fold change (a.u.)</text>
</g>
<g id="s_I">
<line x1="746.56" y1="2153.62" x2="746.56" y2="2421.98" stroke="#000" stroke-width="1.5" stroke-linecap="butt"/>
<line x1="740.3" y1="2421.23" x2="852.55" y2="2421.23" stroke="#000" stroke-width="1.5" stroke-linecap="butt"/>
<line x1="740.56" y1="2154.37" x2="746.56" y2="2154.37" stroke="#000" stroke-width="1.5" stroke-linecap="butt"/>
<text x="739.06" y="2164.78" font-size="26.3" text-anchor="end" font-weight="normal" font-style="normal" fill="#000">5.0</text>
<line x1="740.56" y1="2208.25" x2="746.56" y2="2208.25" stroke="#000" stroke-width="1.5" stroke-linecap="butt"/>
<text x="739.06" y="2217.66" font-size="26.3" text-anchor="end" font-weight="normal" font-style="normal" fill="#000">4.0</text>
<line x1="740.56" y1="2261.62" x2="746.56" y2="2261.62" stroke="#000" stroke-width="1.5" stroke-linecap="butt"/>
<text x="739.06" y="2270.05" font-size="26.3" text-anchor="end" font-weight="normal" font-style="normal" fill="#000">3.0</text>
<line x1="740.56" y1="2314.74" x2="746.56" y2="2314.74" stroke="#000" stroke-width="1.5" stroke-linecap="butt"/>
<text x="739.06" y="2322.2" font-size="26.3" text-anchor="end" font-weight="normal" font-style="normal" fill="#000">2.0</text>
<line x1="740.56" y1="2368.11" x2="746.56" y2="2368.11" stroke="#000" stroke-width="1.5" stroke-linecap="butt"/>
<text x="739.06" y="2374.59" font-size="26.3" text-anchor="end" font-weight="normal" font-style="normal" fill="#000">1.0</text>
<line x1="740.56" y1="2421.23" x2="746.56" y2="2421.23" stroke="#000" stroke-width="1.5" stroke-linecap="butt"/>
<text x="739.06" y="2426.74" font-size="26.3" text-anchor="end" font-weight="normal" font-style="normal" fill="#000">0.0</text>
<line x1="776.63" y1="2421.23" x2="776.63" y2="2428.23" stroke="#000" stroke-width="1.5" stroke-linecap="butt"/>
<line x1="821.73" y1="2421.23" x2="821.73" y2="2428.23" stroke="#000" stroke-width="1.5" stroke-linecap="butt"/>
<line x1="776.38" y1="2362.6" x2="776.38" y2="2371.37" stroke="#000" stroke-width="1.5" stroke-linecap="butt"/>
<line x1="771.18" y1="2362.6" x2="781.58" y2="2362.6" stroke="#000" stroke-width="1.5" stroke-linecap="butt"/>
<rect x="762.34" y="2371.37" width="28.07" height="49.86" fill="#808080" stroke="#000" stroke-width="1.5"/>
<line x1="821.98" y1="2224.78" x2="821.98" y2="2239.57" stroke="#ff0a64" stroke-width="1.5" stroke-linecap="butt"/>
<line x1="816.78" y1="2224.78" x2="827.18" y2="2224.78" stroke="#ff0a64" stroke-width="1.5" stroke-linecap="butt"/>
<rect x="807.95" y="2239.57" width="28.07" height="181.66" fill="#ff82b4" stroke="#ff0a64" stroke-width="1.5"/>
<line x1="740.3" y1="2421.23" x2="852.55" y2="2421.23" stroke="#000" stroke-width="1.5" stroke-linecap="butt"/>
<circle cx="776.63" cy="2346.31" r="2.95" fill="none" stroke="#000" stroke-width="1.4"/>
<circle cx="776.63" cy="2363.1" r="2.95" fill="none" stroke="#000" stroke-width="1.4"/>
<circle cx="776.63" cy="2369.36" r="2.95" fill="none" stroke="#000" stroke-width="1.4"/>
<circle cx="776.63" cy="2383.14" r="2.95" fill="none" stroke="#000" stroke-width="1.4"/>
<circle cx="776.63" cy="2391.41" r="2.95" fill="none" stroke="#000" stroke-width="1.4"/>
<circle cx="816.72" cy="2209.5" r="2.95" fill="none" stroke="#ff0a64" stroke-width="1.4"/>
<circle cx="827.49" cy="2214.76" r="2.95" fill="none" stroke="#ff0a64" stroke-width="1.4"/>
<circle cx="822.23" cy="2229.79" r="2.95" fill="none" stroke="#ff0a64" stroke-width="1.4"/>
<circle cx="822.23" cy="2257.86" r="2.95" fill="none" stroke="#ff0a64" stroke-width="1.4"/>
<circle cx="822.23" cy="2283.67" r="2.95" fill="none" stroke="#ff0a64" stroke-width="1.4"/>
<polyline points="776.13,2326.26 776.13,2184.69 822.23,2184.69 822.23,2198.47" fill="none" stroke="#000" stroke-width="1.2" stroke-linejoin="miter"/>
<text x="799.58" y="2186.6" font-size="24" text-anchor="middle" font-weight="bold" font-style="normal" fill="#000" letter-spacing="0.6">***</text>
<text x="789.13" y="2445.23" font-size="26" text-anchor="end" font-weight="normal" font-style="italic" fill="#000" transform="rotate(-45 789.13 2445.23)">Ctrl</text>
<text x="834.23" y="2445.23" font-size="26" text-anchor="end" font-weight="normal" font-style="italic" fill="#000" transform="rotate(-45 834.23 2445.23)">rNLS</text>
<text x="683.79" y="2290.43" font-size="26" text-anchor="middle" font-weight="normal" font-style="normal" fill="#000" transform="rotate(-90 683.79 2290.43)">ATF4 fold change (a.u.)</text>
</g>
<text x="650" y="23.6" font-size="31.1" text-anchor="middle" font-weight="normal" font-style="normal" fill="#000">Upregulated genes before disease onset</text>
<text x="522.5" y="465.2" font-size="31.1" text-anchor="middle" font-weight="normal" font-style="normal" fill="#000">Additional upregulated ISR genes before disease onset</text>
<text x="628.5" y="904.5" font-size="31.1" text-anchor="middle" font-weight="normal" font-style="normal" fill="#000">Upregulated genes after disease onset</text>
<text x="412" y="1344" font-size="31.1" text-anchor="middle" font-weight="normal" font-style="normal" fill="#000">Downregulated genes</text>
<text x="0.5" y="58.9" font-size="52.5" text-anchor="start" font-weight="normal" font-style="normal" fill="#000">A</text>
<text x="1.7" y="511" font-size="52.5" text-anchor="start" font-weight="normal" font-style="normal" fill="#000">B</text>
<text x="-0.5" y="947.6" font-size="52.5" text-anchor="start" font-weight="normal" font-style="normal" fill="#000">C</text>
<text x="-1.7" y="1378.2" font-size="52.5" text-anchor="start" font-weight="normal" font-style="normal" fill="#000">D</text>
<text x="8" y="1787.6" font-size="52.5" text-anchor="start" font-weight="normal" font-style="normal" fill="#000">E</text>
<text x="622.1" y="1799" font-size="52.5" text-anchor="start" font-weight="normal" font-style="normal" fill="#000">F</text>
<text x="857.4" y="1800" font-size="52.5" text-anchor="start" font-weight="normal" font-style="normal" fill="#000">G</text>
<text x="7.2" y="2282" font-size="52.5" text-anchor="start" font-weight="normal" font-style="normal" fill="#000">H</text>
<text x="622" y="2182.7" font-size="52.5" text-anchor="start" font-weight="normal" font-style="normal" fill="#000">I</text>
<rect x="811.3" y="1625.3" width="23.4" height="23.4" fill="#fff" stroke="#231f20" stroke-width="2.6"/>
<rect x="811.3" y="1661.3" width="23.4" height="23.4" fill="#f8a8d6" stroke="#ec008c" stroke-width="2.6"/>
<text x="836.5" y="1644.8" font-size="26" text-anchor="start" font-weight="normal" font-style="normal" fill="#000">Ctrl</text>
<text x="838" y="1682.5" font-size="26" text-anchor="start" font-weight="normal" font-style="normal" fill="#000">rNLS</text>
<rect x="115" y="1782" width="170.5" height="5" fill="#231f20"/>
<rect x="298" y="1782" width="173.5" height="5" fill="#231f20"/>
<text x="199.5" y="1775.5" font-size="26" text-anchor="middle" font-weight="normal" font-style="normal" fill="#000">Ctrl</text>
<text x="384.5" y="1775.5" font-size="26" text-anchor="middle" font-weight="normal" font-style="normal" fill="#000">rNLS</text>
<text x="55.5" y="1779.5" font-size="25.6" text-anchor="start" font-weight="normal" font-style="normal" fill="#000">kDa</text>
<clipPath id="cE1"><rect x="106.3" y="1793.2" width="370.7" height="150.5"/></clipPath>
<rect x="106.3" y="1793.2" width="370.7" height="150.5" fill="#e0e0e0"/>
<g clip-path="url(#cE1)">
<rect x="117" y="1790.9" width="26" height="155.1" fill="#d9d9d9" opacity="0.15" filter="url(#bl5)"/>
<rect x="152.5" y="1790.9" width="26" height="155.1" fill="#d9d9d9" opacity="0.15" filter="url(#bl5)"/>
<rect x="187.5" y="1790.9" width="26" height="155.1" fill="#d9d9d9" opacity="0.15" filter="url(#bl5)"/>
<rect x="223" y="1790.9" width="26" height="155.1" fill="#d9d9d9" opacity="0.15" filter="url(#bl5)"/>
<rect x="259" y="1790.9" width="26" height="155.1" fill="#d9d9d9" opacity="0.15" filter="url(#bl5)"/>
<rect x="294.5" y="1790.9" width="26" height="155.1" fill="#d9d9d9" opacity="0.15" filter="url(#bl5)"/>
<rect x="330" y="1790.9" width="26" height="155.1" fill="#d9d9d9" opacity="0.15" filter="url(#bl5)"/>
<rect x="365.5" y="1790.9" width="26" height="155.1" fill="#d9d9d9" opacity="0.15" filter="url(#bl5)"/>
<rect x="401" y="1790.9" width="26" height="155.1" fill="#d9d9d9" opacity="0.15" filter="url(#bl5)"/>
<rect x="437.5" y="1790.9" width="26" height="155.1" fill="#d9d9d9" opacity="0.15" filter="url(#bl5)"/>
<ellipse cx="130" cy="1885" rx="14.25" ry="2.4" fill="#000" opacity="1" filter="url(#bl1)" transform="rotate(1.5 130 1885)"/>
<rect x="117.5" y="1861.25" width="25" height="3.5" rx="1.75" fill="#d4d4d4" opacity="0.5" filter="url(#bl2)"/>
<ellipse cx="165.5" cy="1886" rx="14.25" ry="2.4" fill="#000" opacity="1" filter="url(#bl1)" transform="rotate(1.5 165.5 1886)"/>
<rect x="153" y="1862.25" width="25" height="3.5" rx="1.75" fill="#d4d4d4" opacity="0.5" filter="url(#bl2)"/>
<ellipse cx="200.5" cy="1886.5" rx="14.25" ry="2.4" fill="#000" opacity="1" filter="url(#bl1)"/>
<rect x="188" y="1862.75" width="25" height="3.5" rx="1.75" fill="#d4d4d4" opacity="0.5" filter="url(#bl2)"/>
<ellipse cx="236" cy="1886.5" rx="14.25" ry="2.4" fill="#000" opacity="1" filter="url(#bl1)"/>
<rect x="223.5" y="1862.75" width="25" height="3.5" rx="1.75" fill="#d4d4d4" opacity="0.5" filter="url(#bl2)"/>
<ellipse cx="272" cy="1886" rx="14.25" ry="2.4" fill="#000" opacity="1" filter="url(#bl1)"/>
<rect x="259.5" y="1862.25" width="25" height="3.5" rx="1.75" fill="#d4d4d4" opacity="0.5" filter="url(#bl2)"/>
<ellipse cx="307.5" cy="1885" rx="14.25" ry="2.4" fill="#000" opacity="1" filter="url(#bl1)" transform="rotate(-2.5 307.5 1885)"/>
<ellipse cx="307.5" cy="1863.5" rx="14.5" ry="3.25" fill="#a8a8a8" opacity="0.75" filter="url(#bl2)" transform="rotate(-3 307.5 1863.5)"/>
<ellipse cx="343" cy="1884.5" rx="14.25" ry="2.4" fill="#000" opacity="1" filter="url(#bl1)" transform="rotate(-2.5 343 1884.5)"/>
<ellipse cx="343" cy="1863" rx="14.5" ry="3.25" fill="#a8a8a8" opacity="0.75" filter="url(#bl2)" transform="rotate(-3 343 1863)"/>
<ellipse cx="378.5" cy="1885" rx="14.25" ry="2.4" fill="#000" opacity="1" filter="url(#bl1)" transform="rotate(-2.5 378.5 1885)"/>
<ellipse cx="378.5" cy="1863.5" rx="14.5" ry="3.25" fill="#a8a8a8" opacity="0.75" filter="url(#bl2)" transform="rotate(-3 378.5 1863.5)"/>
<ellipse cx="414" cy="1884" rx="14.25" ry="2.4" fill="#000" opacity="1" filter="url(#bl1)" transform="rotate(-2.5 414 1884)"/>
<ellipse cx="414" cy="1862.5" rx="14.5" ry="3.25" fill="#a8a8a8" opacity="0.75" filter="url(#bl2)" transform="rotate(-3 414 1862.5)"/>
<ellipse cx="450.5" cy="1882.8" rx="14.25" ry="2.4" fill="#000" opacity="1" filter="url(#bl1)" transform="rotate(-2.5 450.5 1882.8)"/>
<ellipse cx="450.5" cy="1860.3" rx="14.5" ry="3.25" fill="#a8a8a8" opacity="0.75" filter="url(#bl2)" transform="rotate(-3 450.5 1860.3)"/>
<path d="M372 1886 l6 9" stroke="#222" stroke-width="3" fill="none" filter="url(#bl1)"/>
</g>
<rect x="106.3" y="1793.2" width="370.7" height="150.5" fill="none" stroke="#231f20" stroke-width="4.6"/>
<rect x="90" y="1791" width="15" height="4.6" fill="#231f20"/>
<text x="87" y="1802.3" font-size="25.5" text-anchor="end" font-weight="normal" font-style="normal" fill="#000">75</text>
<rect x="90" y="1841.5" width="15" height="4.6" fill="#231f20"/>
<text x="87" y="1853.3" font-size="25.5" text-anchor="end" font-weight="normal" font-style="normal" fill="#000">50</text>
<rect x="90" y="1881.5" width="15" height="4.6" fill="#231f20"/>
<text x="87" y="1893.8" font-size="25.5" text-anchor="end" font-weight="normal" font-style="normal" fill="#000">37</text>
<rect x="90" y="1939.7" width="15" height="4.6" fill="#231f20"/>
<text x="87" y="1945" font-size="25.5" text-anchor="end" font-weight="normal" font-style="normal" fill="#000">25</text>
<rect x="478" y="1879.7" width="11.5" height="4.6" fill="#231f20"/>
<text x="491.5" y="1890" font-size="26" text-anchor="start" font-weight="normal" font-style="normal" fill="#000">eIF2a</text>
<clipPath id="cE2"><rect x="106.3" y="1955.3" width="370.7" height="48"/></clipPath>
<rect x="106.3" y="1955.3" width="370.7" height="48" fill="#e0e0e0"/>
<g clip-path="url(#cE2)">
<rect x="115" y="1974.7" width="30" height="7.6" rx="3.8" fill="#050505" opacity="1" filter="url(#bl1)"/>
<rect x="150.5" y="1974.7" width="30" height="7.6" rx="3.8" fill="#050505" opacity="1" filter="url(#bl1)"/>
<rect x="185.5" y="1974.7" width="30" height="7.6" rx="3.8" fill="#050505" opacity="1" filter="url(#bl1)"/>
<rect x="221" y="1974.7" width="30" height="7.6" rx="3.8" fill="#050505" opacity="1" filter="url(#bl1)"/>
<rect x="257" y="1974.7" width="30" height="7.6" rx="3.8" fill="#050505" opacity="1" filter="url(#bl1)"/>
<rect x="292.5" y="1973.7" width="30" height="7.6" rx="3.8" fill="#050505" opacity="1" filter="url(#bl1)"/>
<rect x="328" y="1973.7" width="30" height="7.6" rx="3.8" fill="#050505" opacity="1" filter="url(#bl1)"/>
<rect x="363.5" y="1973.7" width="30" height="7.6" rx="3.8" fill="#050505" opacity="1" filter="url(#bl1)"/>
<rect x="399" y="1973.7" width="30" height="7.6" rx="3.8" fill="#050505" opacity="1" filter="url(#bl1)"/>
<rect x="435.5" y="1972.7" width="30" height="7.6" rx="3.8" fill="#050505" opacity="1" filter="url(#bl1)"/>
<path d="M372 1978 l6 10" stroke="#111" stroke-width="3.5" fill="none" filter="url(#bl1)"/>
</g>
<rect x="106.3" y="1955.3" width="370.7" height="48" fill="none" stroke="#231f20" stroke-width="4.6"/>
<rect x="90" y="1955" width="15" height="4.6" fill="#231f20"/>
<text x="87" y="1966.3" font-size="25.5" text-anchor="end" font-weight="normal" font-style="normal" fill="#000">37</text>
<rect x="478" y="1974.5" width="11.5" height="4.6" fill="#231f20"/>
<text x="492.8" y="1985" font-size="26" text-anchor="start" font-weight="normal" font-style="normal" fill="#000">GAPDH</text>
<clipPath id="cE3"><rect x="106.3" y="2012.3" width="370.7" height="155.4"/></clipPath>
<rect x="106.3" y="2012.3" width="370.7" height="155.4" fill="#d3d3d3"/>
<g clip-path="url(#cE3)">
<rect x="104" y="2010" width="375.3" height="160" filter="url(#noise2)" opacity="0.25"/>
<rect x="115" y="2033.1" width="30" height="1.8" rx="0.9" fill="#555" opacity="0.7" filter="url(#bl1)"/>
<rect x="116.5" y="2019.5" width="27" height="3" rx="1.5" fill="#bdbdbd" opacity="0.6" filter="url(#bl2)"/>
<rect x="118" y="2094.5" width="24" height="3" rx="1.5" fill="#bcbcbc" opacity="0.7" filter="url(#bl2)"/>
<ellipse cx="130" cy="2107.8" rx="15.5" ry="1.9" fill="#050505" opacity="0.45" filter="url(#bl1)"/>
<rect x="150.5" y="2033.1" width="30" height="1.8" rx="0.9" fill="#555" opacity="0.7" filter="url(#bl1)"/>
<rect x="152" y="2019.5" width="27" height="3" rx="1.5" fill="#bdbdbd" opacity="0.6" filter="url(#bl2)"/>
<rect x="153.5" y="2094.5" width="24" height="3" rx="1.5" fill="#bcbcbc" opacity="0.7" filter="url(#bl2)"/>
<ellipse cx="165.5" cy="2107.8" rx="15.5" ry="2.7" fill="#050505" opacity="0.95" filter="url(#bl1)"/>
<rect x="185.5" y="2033.1" width="30" height="1.8" rx="0.9" fill="#555" opacity="0.7" filter="url(#bl1)"/>
<rect x="187" y="2019.5" width="27" height="3" rx="1.5" fill="#bdbdbd" opacity="0.6" filter="url(#bl2)"/>
<rect x="188.5" y="2094.5" width="24" height="3" rx="1.5" fill="#bcbcbc" opacity="0.7" filter="url(#bl2)"/>
<ellipse cx="200.5" cy="2107.8" rx="15.5" ry="2.4" fill="#050505" opacity="0.8" filter="url(#bl1)"/>
<rect x="221" y="2033.9" width="30" height="1.8" rx="0.9" fill="#555" opacity="0.7" filter="url(#bl1)"/>
<rect x="222.5" y="2019.5" width="27" height="3" rx="1.5" fill="#bdbdbd" opacity="0.6" filter="url(#bl2)"/>
<rect x="224" y="2094.5" width="24" height="3" rx="1.5" fill="#bcbcbc" opacity="0.7" filter="url(#bl2)"/>
<ellipse cx="236" cy="2107.8" rx="15.5" ry="2.4" fill="#050505" opacity="0.8" filter="url(#bl1)"/>
<rect x="257" y="2033.9" width="30" height="1.8" rx="0.9" fill="#555" opacity="0.7" filter="url(#bl1)"/>
<rect x="258.5" y="2019.5" width="27" height="3" rx="1.5" fill="#bdbdbd" opacity="0.6" filter="url(#bl2)"/>
<rect x="260" y="2094.5" width="24" height="3" rx="1.5" fill="#bcbcbc" opacity="0.7" filter="url(#bl2)"/>
<ellipse cx="272" cy="2107.8" rx="15.5" ry="2.6" fill="#050505" opacity="0.9" filter="url(#bl1)"/>
<rect x="292.5" y="2033.9" width="30" height="1.8" rx="0.9" fill="#555" opacity="0.7" filter="url(#bl1)"/>
<rect x="294" y="2019.5" width="27" height="3" rx="1.5" fill="#bdbdbd" opacity="0.6" filter="url(#bl2)"/>
<rect x="295.5" y="2094.5" width="24" height="3" rx="1.5" fill="#bcbcbc" opacity="0.7" filter="url(#bl2)"/>
<ellipse cx="307.5" cy="2107.8" rx="15.5" ry="2.8" fill="#050505" opacity="1" filter="url(#bl1)"/>
<rect x="328" y="2033.1" width="30" height="1.8" rx="0.9" fill="#555" opacity="0.7" filter="url(#bl1)"/>
<rect x="329.5" y="2019.5" width="27" height="3" rx="1.5" fill="#bdbdbd" opacity="0.6" filter="url(#bl2)"/>
<rect x="331" y="2094.5" width="24" height="3" rx="1.5" fill="#bcbcbc" opacity="0.7" filter="url(#bl2)"/>
<ellipse cx="343" cy="2107.8" rx="15.5" ry="2.8" fill="#050505" opacity="0.95" filter="url(#bl1)"/>
<rect x="363.5" y="2033.1" width="30" height="1.8" rx="0.9" fill="#555" opacity="0.7" filter="url(#bl1)"/>
<rect x="365" y="2019.5" width="27" height="3" rx="1.5" fill="#bdbdbd" opacity="0.6" filter="url(#bl2)"/>
<rect x="366.5" y="2094.5" width="24" height="3" rx="1.5" fill="#bcbcbc" opacity="0.7" filter="url(#bl2)"/>
<ellipse cx="378.5" cy="2107.8" rx="15.5" ry="2.9" fill="#050505" opacity="1" filter="url(#bl1)"/>
<rect x="399" y="2033.1" width="30" height="1.8" rx="0.9" fill="#555" opacity="0.7" filter="url(#bl1)"/>
<rect x="400.5" y="2019.5" width="27" height="3" rx="1.5" fill="#bdbdbd" opacity="0.6" filter="url(#bl2)"/>
<rect x="402" y="2094.5" width="24" height="3" rx="1.5" fill="#bcbcbc" opacity="0.7" filter="url(#bl2)"/>
<ellipse cx="414" cy="2107.8" rx="15.5" ry="2.5" fill="#050505" opacity="0.9" filter="url(#bl1)"/>
<rect x="435.5" y="2033.1" width="30" height="1.8" rx="0.9" fill="#555" opacity="0.7" filter="url(#bl1)"/>
<rect x="437" y="2019.5" width="27" height="3" rx="1.5" fill="#bdbdbd" opacity="0.6" filter="url(#bl2)"/>
<rect x="438.5" y="2094.5" width="24" height="3" rx="1.5" fill="#bcbcbc" opacity="0.7" filter="url(#bl2)"/>
<ellipse cx="450.5" cy="2107.8" rx="15.5" ry="3" fill="#050505" opacity="1" filter="url(#bl1)"/>
</g>
<rect x="106.3" y="2012.3" width="370.7" height="155.4" fill="none" stroke="#231f20" stroke-width="4.6"/>
<rect x="90" y="2010.2" width="15" height="4.6" fill="#231f20"/>
<text x="87" y="2021.5" font-size="25.5" text-anchor="end" font-weight="normal" font-style="normal" fill="#000">75</text>
<rect x="90" y="2061.1" width="15" height="4.6" fill="#231f20"/>
<text x="87" y="2072.4" font-size="25.5" text-anchor="end" font-weight="normal" font-style="normal" fill="#000">50</text>
<rect x="90" y="2103.5" width="15" height="4.6" fill="#231f20"/>
<text x="87" y="2114.8" font-size="25.5" text-anchor="end" font-weight="normal" font-style="normal" fill="#000">37</text>
<rect x="90" y="2164.1" width="15" height="4.6" fill="#231f20"/>
<text x="87" y="2170.2" font-size="25.5" text-anchor="end" font-weight="normal" font-style="normal" fill="#000">25</text>
<rect x="478" y="2105.7" width="11.5" height="4.6" fill="#231f20"/>
<text x="492.8" y="2114.5" font-size="26" text-anchor="start" font-weight="normal" font-style="normal" fill="#000">p-eIF2a</text>
<text x="493" y="2145" font-size="26" text-anchor="start" font-weight="normal" font-style="normal" fill="#000">(S51)</text>
<clipPath id="cE4"><rect x="106.3" y="2180.7" width="370.7" height="48.8"/></clipPath>
<rect x="106.3" y="2180.7" width="370.7" height="48.8" fill="#e2e2e2"/>
<g clip-path="url(#cE4)">
<rect x="114.75" y="2201" width="30.5" height="8" rx="4" fill="#454545" opacity="1" filter="url(#bl1)"/>
<rect x="150.25" y="2201" width="30.5" height="8" rx="4" fill="#454545" opacity="1" filter="url(#bl1)"/>
<rect x="185.25" y="2201" width="30.5" height="8" rx="4" fill="#454545" opacity="1" filter="url(#bl1)"/>
<rect x="220.75" y="2201" width="30.5" height="8" rx="4" fill="#454545" opacity="1" filter="url(#bl1)"/>
<rect x="256.75" y="2201" width="30.5" height="8" rx="4" fill="#454545" opacity="1" filter="url(#bl1)"/>
<rect x="292.25" y="2201" width="30.5" height="8" rx="4" fill="#454545" opacity="1" filter="url(#bl1)"/>
<rect x="327.75" y="2201" width="30.5" height="8" rx="4" fill="#454545" opacity="1" filter="url(#bl1)"/>
<rect x="363.25" y="2200" width="30.5" height="8" rx="4" fill="#454545" opacity="1" filter="url(#bl1)"/>
<rect x="398.75" y="2200" width="30.5" height="8" rx="4" fill="#454545" opacity="1" filter="url(#bl1)"/>
<rect x="435.25" y="2200" width="30.5" height="8" rx="4" fill="#454545" opacity="1" filter="url(#bl1)"/>
</g>
<rect x="106.3" y="2180.7" width="370.7" height="48.8" fill="none" stroke="#231f20" stroke-width="4.6"/>
<rect x="90" y="2181.1" width="15" height="4.6" fill="#231f20"/>
<text x="87" y="2192.4" font-size="25.5" text-anchor="end" font-weight="normal" font-style="normal" fill="#000">37</text>
<rect x="478" y="2200.2" width="11.5" height="4.6" fill="#231f20"/>
<text x="494.8" y="2210.5" font-size="26" text-anchor="start" font-weight="normal" font-style="normal" fill="#000">GAPDH</text>
<rect x="115" y="2273" width="170.5" height="5" fill="#231f20"/>
<rect x="298" y="2273" width="173.5" height="5" fill="#231f20"/>
<text x="199.5" y="2267.6" font-size="26" text-anchor="middle" font-weight="normal" font-style="normal" fill="#000">Ctrl</text>
<text x="384.5" y="2267.6" font-size="26" text-anchor="middle" font-weight="normal" font-style="normal" fill="#000">rNLS</text>
<text x="55.5" y="2270.6" font-size="25.6" text-anchor="start" font-weight="normal" font-style="normal" fill="#000">kDa</text>
<clipPath id="cH1"><rect x="106.3" y="2284.2" width="370.7" height="144"/></clipPath>
<rect x="106.3" y="2284.2" width="370.7" height="144" fill="#d6d6d7"/>
<g clip-path="url(#cH1)">
<rect x="104" y="2281.9" width="375.3" height="148.6" filter="url(#noise2)" opacity="0.3"/>
<rect x="104" y="2322" width="375.3" height="120" fill="#b9b9bc" opacity="0.22" filter="url(#bl5)"/>
<rect x="111.2" y="2318" width="28" height="100" fill="#8c8c90" opacity="0.34" filter="url(#bl5)"/>
<rect x="110.7" y="2323.5" width="29" height="13" rx="6.5" fill="#77777c" opacity="0.5" filter="url(#bl3)"/>
<rect x="111.7" y="2347.5" width="27" height="6" rx="3" fill="#5a5a5f" opacity="0.5" filter="url(#bl2)"/>
<rect x="112.2" y="2355.75" width="26" height="3.5" rx="1.75" fill="#6a6a6e" opacity="0.3" filter="url(#bl2)"/>
<rect x="112.7" y="2372.8" width="25" height="2.4" rx="1.2" fill="#44444a" opacity="0.6" filter="url(#bl1)"/>
<rect x="113.2" y="2383.5" width="24" height="5" rx="2.5" fill="#77777b" opacity="0.35" filter="url(#bl3)"/>
<rect x="113.2" y="2397" width="24" height="6" rx="3" fill="#808084" opacity="0.3" filter="url(#bl3)"/>
<rect x="148.2" y="2318" width="28" height="100" fill="#8c8c90" opacity="0.34" filter="url(#bl5)"/>
<rect x="147.7" y="2323.5" width="29" height="13" rx="6.5" fill="#77777c" opacity="0.5" filter="url(#bl3)"/>
<rect x="148.7" y="2347.5" width="27" height="6" rx="3" fill="#5a5a5f" opacity="0.5" filter="url(#bl2)"/>
<rect x="149.2" y="2355.75" width="26" height="3.5" rx="1.75" fill="#6a6a6e" opacity="0.3" filter="url(#bl2)"/>
<rect x="149.7" y="2372.8" width="25" height="2.4" rx="1.2" fill="#44444a" opacity="0.6" filter="url(#bl1)"/>
<rect x="150.2" y="2383.5" width="24" height="5" rx="2.5" fill="#77777b" opacity="0.35" filter="url(#bl3)"/>
<rect x="150.2" y="2397" width="24" height="6" rx="3" fill="#808084" opacity="0.3" filter="url(#bl3)"/>
<rect x="185.2" y="2318" width="28" height="100" fill="#8c8c90" opacity="0.34" filter="url(#bl5)"/>
<rect x="184.7" y="2323.5" width="29" height="13" rx="6.5" fill="#77777c" opacity="0.5" filter="url(#bl3)"/>
<rect x="185.7" y="2347.5" width="27" height="6" rx="3" fill="#5a5a5f" opacity="0.5" filter="url(#bl2)"/>
<rect x="186.2" y="2355.75" width="26" height="3.5" rx="1.75" fill="#6a6a6e" opacity="0.3" filter="url(#bl2)"/>
<rect x="186.7" y="2372.8" width="25" height="2.4" rx="1.2" fill="#44444a" opacity="0.6" filter="url(#bl1)"/>
<rect x="187.2" y="2383.5" width="24" height="5" rx="2.5" fill="#77777b" opacity="0.35" filter="url(#bl3)"/>
<rect x="187.2" y="2397" width="24" height="6" rx="3" fill="#808084" opacity="0.3" filter="url(#bl3)"/>
<rect x="220.9" y="2318" width="28" height="100" fill="#8c8c90" opacity="0.34" filter="url(#bl5)"/>
<rect x="220.4" y="2323.5" width="29" height="13" rx="6.5" fill="#77777c" opacity="0.5" filter="url(#bl3)"/>
<rect x="221.4" y="2347.5" width="27" height="6" rx="3" fill="#5a5a5f" opacity="0.5" filter="url(#bl2)"/>
<rect x="221.9" y="2355.75" width="26" height="3.5" rx="1.75" fill="#6a6a6e" opacity="0.3" filter="url(#bl2)"/>
<rect x="222.4" y="2372.8" width="25" height="2.4" rx="1.2" fill="#44444a" opacity="0.6" filter="url(#bl1)"/>
<rect x="222.9" y="2383.5" width="24" height="5" rx="2.5" fill="#77777b" opacity="0.35" filter="url(#bl3)"/>
<rect x="222.9" y="2397" width="24" height="6" rx="3" fill="#808084" opacity="0.3" filter="url(#bl3)"/>
<rect x="257.7" y="2318" width="28" height="100" fill="#8c8c90" opacity="0.34" filter="url(#bl5)"/>
<rect x="257.2" y="2323.5" width="29" height="13" rx="6.5" fill="#77777c" opacity="0.5" filter="url(#bl3)"/>
<rect x="258.2" y="2347.5" width="27" height="6" rx="3" fill="#5a5a5f" opacity="0.5" filter="url(#bl2)"/>
<rect x="258.7" y="2355.75" width="26" height="3.5" rx="1.75" fill="#6a6a6e" opacity="0.3" filter="url(#bl2)"/>
<rect x="259.2" y="2372.8" width="25" height="2.4" rx="1.2" fill="#44444a" opacity="0.6" filter="url(#bl1)"/>
<rect x="259.7" y="2383.5" width="24" height="5" rx="2.5" fill="#77777b" opacity="0.35" filter="url(#bl3)"/>
<rect x="259.7" y="2397" width="24" height="6" rx="3" fill="#808084" opacity="0.3" filter="url(#bl3)"/>
<rect x="293.5" y="2318" width="28" height="100" fill="#8c8c90" opacity="0.34" filter="url(#bl5)"/>
<rect x="292" y="2325.25" width="31" height="8.5" rx="4" fill="#38383c" opacity="0.9" filter="url(#bl2)"/>
<rect x="292" y="2333" width="31" height="9" rx="4.5" fill="#5a5a5f" opacity="0.6" filter="url(#bl3)"/>
<rect x="292" y="2353.25" width="31" height="6.5" rx="3" fill="#2c2c30" opacity="0.92" filter="url(#bl2)"/>
<rect x="295.5" y="2374.2" width="24" height="2.6" rx="1.3" fill="#55555a" opacity="0.5" filter="url(#bl1)"/>
<rect x="295.5" y="2384.5" width="24" height="5" rx="2.5" fill="#808084" opacity="0.35" filter="url(#bl3)"/>
<rect x="295.5" y="2399" width="24" height="6" rx="3" fill="#88888c" opacity="0.3" filter="url(#bl3)"/>
<rect x="331.8" y="2318" width="28" height="100" fill="#8c8c90" opacity="0.34" filter="url(#bl5)"/>
<rect x="330.3" y="2325.25" width="31" height="8.5" rx="4" fill="#38383c" opacity="0.6" filter="url(#bl2)"/>
<rect x="330.3" y="2333" width="31" height="9" rx="4.5" fill="#5a5a5f" opacity="0.6" filter="url(#bl3)"/>
<rect x="330.3" y="2353.25" width="31" height="6.5" rx="3" fill="#2c2c30" opacity="0.92" filter="url(#bl2)"/>
<rect x="333.8" y="2374.2" width="24" height="2.6" rx="1.3" fill="#55555a" opacity="0.5" filter="url(#bl1)"/>
<rect x="333.8" y="2384.5" width="24" height="5" rx="2.5" fill="#808084" opacity="0.35" filter="url(#bl3)"/>
<rect x="333.8" y="2399" width="24" height="6" rx="3" fill="#88888c" opacity="0.3" filter="url(#bl3)"/>
<rect x="367.3" y="2318" width="28" height="100" fill="#8c8c90" opacity="0.34" filter="url(#bl5)"/>
<rect x="365.8" y="2325.25" width="31" height="8.5" rx="4" fill="#38383c" opacity="0.9" filter="url(#bl2)"/>
<rect x="365.8" y="2333" width="31" height="9" rx="4.5" fill="#5a5a5f" opacity="0.6" filter="url(#bl3)"/>
<rect x="365.8" y="2353.25" width="31" height="6.5" rx="3" fill="#2c2c30" opacity="0.92" filter="url(#bl2)"/>
<rect x="369.3" y="2374.2" width="24" height="2.6" rx="1.3" fill="#55555a" opacity="0.8" filter="url(#bl1)"/>
<rect x="369.3" y="2384.5" width="24" height="5" rx="2.5" fill="#808084" opacity="0.35" filter="url(#bl3)"/>
<rect x="369.3" y="2399" width="24" height="6" rx="3" fill="#88888c" opacity="0.3" filter="url(#bl3)"/>
<rect x="404.3" y="2318" width="28" height="100" fill="#8c8c90" opacity="0.34" filter="url(#bl5)"/>
<rect x="402.8" y="2325.25" width="31" height="8.5" rx="4" fill="#38383c" opacity="0.9" filter="url(#bl2)"/>
<rect x="402.8" y="2333" width="31" height="9" rx="4.5" fill="#5a5a5f" opacity="0.6" filter="url(#bl3)"/>
<rect x="402.8" y="2353.25" width="31" height="6.5" rx="3" fill="#2c2c30" opacity="0.92" filter="url(#bl2)"/>
<rect x="406.3" y="2374.2" width="24" height="2.6" rx="1.3" fill="#55555a" opacity="0.5" filter="url(#bl1)"/>
<rect x="406.3" y="2384.5" width="24" height="5" rx="2.5" fill="#808084" opacity="0.35" filter="url(#bl3)"/>
<rect x="406.3" y="2399" width="24" height="6" rx="3" fill="#88888c" opacity="0.3" filter="url(#bl3)"/>
<rect x="442.3" y="2318" width="28" height="100" fill="#8c8c90" opacity="0.34" filter="url(#bl5)"/>
<rect x="440.8" y="2325.25" width="31" height="8.5" rx="4" fill="#38383c" opacity="0.9" filter="url(#bl2)"/>
<rect x="440.8" y="2333" width="31" height="9" rx="4.5" fill="#5a5a5f" opacity="0.6" filter="url(#bl3)"/>
<rect x="440.8" y="2353.25" width="31" height="6.5" rx="3" fill="#2c2c30" opacity="0.92" filter="url(#bl2)"/>
<rect x="444.3" y="2374.2" width="24" height="2.6" rx="1.3" fill="#55555a" opacity="0.5" filter="url(#bl1)"/>
<rect x="444.3" y="2384.5" width="24" height="5" rx="2.5" fill="#808084" opacity="0.35" filter="url(#bl3)"/>
<rect x="444.3" y="2399" width="24" height="6" rx="3" fill="#88888c" opacity="0.3" filter="url(#bl3)"/>
<rect x="104" y="2281.9" width="375.3" height="148.6" filter="url(#noise)" opacity="0.12"/>
<circle cx="345.5" cy="2290" r="1.4" fill="#222"/><circle cx="349" cy="2302" r="0.9" fill="#333"/><circle cx="221" cy="2372" r="1.2" fill="#333"/>
</g>
<rect x="106.3" y="2284.2" width="370.7" height="144" fill="none" stroke="#231f20" stroke-width="4.6"/>
<rect x="90" y="2282.1" width="15" height="4.6" fill="#231f20"/>
<text x="87" y="2293.4" font-size="25.5" text-anchor="end" font-weight="normal" font-style="normal" fill="#000">75</text>
<rect x="90" y="2327.9" width="15" height="4.6" fill="#231f20"/>
<text x="87" y="2339.2" font-size="25.5" text-anchor="end" font-weight="normal" font-style="normal" fill="#000">50</text>
<rect x="90" y="2370" width="15" height="4.6" fill="#231f20"/>
<text x="87" y="2381.3" font-size="25.5" text-anchor="end" font-weight="normal" font-style="normal" fill="#000">37</text>
<rect x="90" y="2424.2" width="15" height="4.6" fill="#231f20"/>
<text x="87" y="2433" font-size="25.5" text-anchor="end" font-weight="normal" font-style="normal" fill="#000">25</text>
<rect x="478" y="2329.7" width="11.5" height="4.6" fill="#231f20"/>
<text x="492.5" y="2341" font-size="26" text-anchor="start" font-weight="normal" font-style="normal" fill="#000">ATF4</text>
<clipPath id="cH2"><rect x="106.3" y="2440.3" width="370.7" height="48"/></clipPath>
<rect x="106.3" y="2440.3" width="370.7" height="48" fill="#d9d9d9"/>
<g clip-path="url(#cH2)">
<rect x="111.45" y="2460.7" width="30.5" height="9.6" rx="4.8" fill="#000" opacity="1" filter="url(#bl1)"/>
<rect x="148.45" y="2461.5" width="30.5" height="9.6" rx="4.8" fill="#000" opacity="1" filter="url(#bl1)"/>
<rect x="185.45" y="2461.5" width="30.5" height="9.6" rx="4.8" fill="#000" opacity="1" filter="url(#bl1)"/>
<rect x="221.55" y="2460.7" width="30.5" height="9.6" rx="4.8" fill="#000" opacity="1" filter="url(#bl1)"/>
<rect x="258.55" y="2460.7" width="30.5" height="9.6" rx="4.8" fill="#000" opacity="1" filter="url(#bl1)"/>
<rect x="294.15" y="2460.7" width="30.5" height="9.6" rx="4.8" fill="#000" opacity="1" filter="url(#bl1)"/>
<rect x="332.85" y="2460.7" width="30.5" height="9.6" rx="4.8" fill="#000" opacity="1" filter="url(#bl1)"/>
<rect x="369.05" y="2460.7" width="30.5" height="9.6" rx="4.8" fill="#000" opacity="1" filter="url(#bl1)"/>
<rect x="407.25" y="2460.7" width="30.5" height="9.6" rx="4.8" fill="#000" opacity="1" filter="url(#bl1)"/>
<rect x="444.05" y="2460.1" width="30.5" height="9.6" rx="4.8" fill="#000" opacity="1" filter="url(#bl1)"/>
</g>
<rect x="106.3" y="2440.3" width="370.7" height="48" fill="none" stroke="#231f20" stroke-width="4.6"/>
<rect x="90" y="2441.2" width="15" height="4.6" fill="#231f20"/>
<text x="87" y="2452.5" font-size="25.5" text-anchor="end" font-weight="normal" font-style="normal" fill="#000">37</text>
<rect x="478" y="2463.2" width="11.5" height="4.6" fill="#231f20"/>
<text x="494.8" y="2474.3" font-size="26" text-anchor="start" font-weight="normal" font-style="normal" fill="#000">GAPDH</text>
</svg>
</body></html>
